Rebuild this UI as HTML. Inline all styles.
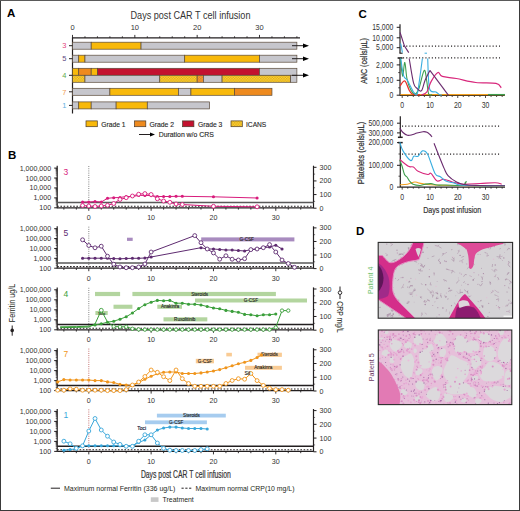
<!DOCTYPE html>
<html><head><meta charset="utf-8"><style>
html,body{margin:0;padding:0;background:#fff;}
body{width:520px;height:511px;overflow:hidden;}
svg{display:block;font-family:"Liberation Sans", sans-serif;}
</style></head><body>
<svg width="520" height="511" viewBox="0 0 520 511">
<rect x="0" y="0" width="520" height="511" fill="#fff"/>
<text x="7.00" y="16.90" font-size="11.5" fill="#000" text-anchor="start" font-weight="bold" >A</text>
<text x="130.50" y="18.90" font-size="10" fill="#333" text-anchor="start" font-weight="normal" textLength="120" lengthAdjust="spacingAndGlyphs" >Days post CAR T cell infusion</text>
<text x="72.50" y="30.10" font-size="7.5" fill="#333" text-anchor="middle" font-weight="normal" >0</text>
<text x="134.83" y="30.10" font-size="7.5" fill="#333" text-anchor="middle" font-weight="normal" >10</text>
<text x="197.16" y="30.10" font-size="7.5" fill="#333" text-anchor="middle" font-weight="normal" >20</text>
<text x="259.49" y="30.10" font-size="7.5" fill="#333" text-anchor="middle" font-weight="normal" >30</text>
<line x1="72.50" y1="37.90" x2="300.00" y2="37.90" stroke="#231f20" stroke-width="1.1" />
<line x1="72.50" y1="34.90" x2="72.50" y2="37.90" stroke="#231f20" stroke-width="0.9" />
<line x1="84.97" y1="36.30" x2="84.97" y2="37.90" stroke="#231f20" stroke-width="0.9" />
<line x1="97.43" y1="36.30" x2="97.43" y2="37.90" stroke="#231f20" stroke-width="0.9" />
<line x1="109.90" y1="36.30" x2="109.90" y2="37.90" stroke="#231f20" stroke-width="0.9" />
<line x1="122.36" y1="36.30" x2="122.36" y2="37.90" stroke="#231f20" stroke-width="0.9" />
<line x1="134.83" y1="34.90" x2="134.83" y2="37.90" stroke="#231f20" stroke-width="0.9" />
<line x1="147.30" y1="36.30" x2="147.30" y2="37.90" stroke="#231f20" stroke-width="0.9" />
<line x1="159.76" y1="36.30" x2="159.76" y2="37.90" stroke="#231f20" stroke-width="0.9" />
<line x1="172.23" y1="36.30" x2="172.23" y2="37.90" stroke="#231f20" stroke-width="0.9" />
<line x1="184.69" y1="36.30" x2="184.69" y2="37.90" stroke="#231f20" stroke-width="0.9" />
<line x1="197.16" y1="34.90" x2="197.16" y2="37.90" stroke="#231f20" stroke-width="0.9" />
<line x1="209.63" y1="36.30" x2="209.63" y2="37.90" stroke="#231f20" stroke-width="0.9" />
<line x1="222.09" y1="36.30" x2="222.09" y2="37.90" stroke="#231f20" stroke-width="0.9" />
<line x1="234.56" y1="36.30" x2="234.56" y2="37.90" stroke="#231f20" stroke-width="0.9" />
<line x1="247.02" y1="36.30" x2="247.02" y2="37.90" stroke="#231f20" stroke-width="0.9" />
<line x1="259.49" y1="34.90" x2="259.49" y2="37.90" stroke="#231f20" stroke-width="0.9" />
<line x1="271.96" y1="36.30" x2="271.96" y2="37.90" stroke="#231f20" stroke-width="0.9" />
<line x1="284.42" y1="36.30" x2="284.42" y2="37.90" stroke="#231f20" stroke-width="0.9" />
<line x1="296.89" y1="36.30" x2="296.89" y2="37.90" stroke="#231f20" stroke-width="0.9" />
<line x1="72.50" y1="37.40" x2="72.50" y2="113.50" stroke="#231f20" stroke-width="1.2" />
<defs><pattern id="chk" width="2.6" height="2.6" patternUnits="userSpaceOnUse"><rect width="2.6" height="2.6" fill="#f6d048"/><rect width="1.3" height="1.3" fill="#e6ae08"/><rect x="1.3" y="1.3" width="1.3" height="1.3" fill="#e6ae08"/></pattern><pattern id="chk2" width="2.6" height="2.6" patternUnits="userSpaceOnUse"><rect width="2.6" height="2.6" fill="#f3a040"/><rect width="1.3" height="1.3" fill="#e08018"/><rect x="1.3" y="1.3" width="1.3" height="1.3" fill="#e08018"/></pattern></defs>
<rect x="72.50" y="42.20" width="18.70" height="7.00" fill="#c6c6cc" stroke="#5a4a3a" stroke-width="0.7" />
<rect x="91.20" y="42.20" width="49.86" height="7.00" fill="#f8b90b" stroke="#5a4a3a" stroke-width="0.7" />
<rect x="141.06" y="42.20" width="155.82" height="7.00" fill="#c6c6cc" stroke="#5a4a3a" stroke-width="0.7" />
<rect x="72.50" y="55.20" width="6.23" height="7.00" fill="#c6c6cc" stroke="#5a4a3a" stroke-width="0.7" />
<rect x="78.73" y="55.20" width="6.23" height="7.00" fill="#f8b90b" stroke="#5a4a3a" stroke-width="0.7" />
<rect x="84.97" y="55.20" width="99.73" height="7.00" fill="#c6c6cc" stroke="#5a4a3a" stroke-width="0.7" />
<rect x="184.69" y="55.20" width="74.80" height="7.00" fill="#f8b90b" stroke="#5a4a3a" stroke-width="0.7" />
<rect x="259.49" y="55.20" width="37.40" height="7.00" fill="#c6c6cc" stroke="#5a4a3a" stroke-width="0.7" />
<rect x="72.50" y="68.30" width="6.23" height="7.00" fill="#f8b90b" stroke="#5a4a3a" stroke-width="0.7" />
<rect x="78.73" y="68.30" width="12.47" height="7.00" fill="#ee8a1e" stroke="#5a4a3a" stroke-width="0.7" />
<rect x="91.20" y="68.30" width="6.23" height="7.00" fill="#f8b90b" stroke="#5a4a3a" stroke-width="0.7" />
<rect x="97.43" y="68.30" width="162.06" height="7.00" fill="#c3122f" stroke="#5a4a3a" stroke-width="0.7" />
<rect x="259.49" y="68.30" width="37.40" height="7.00" fill="#c6c6cc" stroke="#5a4a3a" stroke-width="0.7" />
<rect x="72.50" y="75.30" width="12.47" height="7.00" fill="url(#chk)" stroke="#5a4a3a" stroke-width="0.7" />
<rect x="84.97" y="75.30" width="74.80" height="7.00" fill="#c6c6cc" stroke="#5a4a3a" stroke-width="0.7" />
<rect x="159.76" y="75.30" width="37.40" height="7.00" fill="url(#chk)" stroke="#5a4a3a" stroke-width="0.7" />
<rect x="197.16" y="75.30" width="6.23" height="7.00" fill="url(#chk2)" stroke="#5a4a3a" stroke-width="0.7" />
<rect x="203.39" y="75.30" width="18.70" height="7.00" fill="#c6c6cc" stroke="#5a4a3a" stroke-width="0.7" />
<rect x="222.09" y="75.30" width="68.56" height="7.00" fill="url(#chk)" stroke="#5a4a3a" stroke-width="0.7" />
<rect x="290.65" y="75.30" width="6.23" height="7.00" fill="#c6c6cc" stroke="#5a4a3a" stroke-width="0.7" />
<rect x="72.50" y="88.30" width="37.40" height="7.00" fill="#c6c6cc" stroke="#5a4a3a" stroke-width="0.7" />
<rect x="109.90" y="88.30" width="68.56" height="7.00" fill="#f8b90b" stroke="#5a4a3a" stroke-width="0.7" />
<rect x="178.46" y="88.30" width="12.47" height="7.00" fill="#c6c6cc" stroke="#5a4a3a" stroke-width="0.7" />
<rect x="190.93" y="88.30" width="43.63" height="7.00" fill="#f8b90b" stroke="#5a4a3a" stroke-width="0.7" />
<rect x="234.56" y="88.30" width="37.40" height="7.00" fill="#ee8a1e" stroke="#5a4a3a" stroke-width="0.7" />
<rect x="72.50" y="101.90" width="6.23" height="7.00" fill="#c6c6cc" stroke="#5a4a3a" stroke-width="0.7" />
<rect x="78.73" y="101.90" width="12.47" height="7.00" fill="#f8b90b" stroke="#5a4a3a" stroke-width="0.7" />
<rect x="91.20" y="101.90" width="24.93" height="7.00" fill="#c6c6cc" stroke="#5a4a3a" stroke-width="0.7" />
<rect x="116.13" y="101.90" width="31.16" height="7.00" fill="#f8b90b" stroke="#5a4a3a" stroke-width="0.7" />
<rect x="147.30" y="101.90" width="62.33" height="7.00" fill="#c6c6cc" stroke="#5a4a3a" stroke-width="0.7" />
<line x1="292.00" y1="45.70" x2="304.00" y2="45.70" stroke="#231f20" stroke-width="1" />
<path d="M303 43.40 L309 45.70 L303 48.00 Z" fill="#000"/>
<line x1="292.00" y1="58.70" x2="304.00" y2="58.70" stroke="#231f20" stroke-width="1" />
<path d="M303 56.40 L309 58.70 L303 61.00 Z" fill="#000"/>
<line x1="292.00" y1="75.30" x2="304.00" y2="75.30" stroke="#231f20" stroke-width="1" />
<path d="M303 73.00 L309 75.30 L303 77.60 Z" fill="#000"/>
<text x="66.50" y="48.40" font-size="7.5" fill="#e2457c" text-anchor="end" font-weight="normal" >3</text>
<line x1="69.00" y1="45.70" x2="72.50" y2="45.70" stroke="#231f20" stroke-width="1" />
<text x="66.50" y="61.40" font-size="7.5" fill="#5f4b82" text-anchor="end" font-weight="normal" >5</text>
<line x1="69.00" y1="58.70" x2="72.50" y2="58.70" stroke="#231f20" stroke-width="1" />
<text x="66.50" y="78.00" font-size="7.5" fill="#62a84a" text-anchor="end" font-weight="normal" >4</text>
<line x1="69.00" y1="75.30" x2="72.50" y2="75.30" stroke="#231f20" stroke-width="1" />
<text x="66.50" y="94.50" font-size="7.5" fill="#f0a05a" text-anchor="end" font-weight="normal" >7</text>
<line x1="69.00" y1="91.80" x2="72.50" y2="91.80" stroke="#231f20" stroke-width="1" />
<text x="66.50" y="108.10" font-size="7.5" fill="#5cb0de" text-anchor="end" font-weight="normal" >1</text>
<line x1="69.00" y1="105.40" x2="72.50" y2="105.40" stroke="#231f20" stroke-width="1" />
<rect x="86.00" y="120.90" width="11.30" height="5.80" fill="#f8b90b" stroke="#4a3a2a" stroke-width="0.7" />
<text x="101.20" y="126.60" font-size="7.8" fill="#2a2a2a" text-anchor="start" font-weight="normal" textLength="24.3" lengthAdjust="spacingAndGlyphs" stroke="#2a2a2a" stroke-width="0.15">Grade 1</text>
<rect x="134.50" y="120.90" width="11.30" height="5.80" fill="#ee8a1e" stroke="#4a3a2a" stroke-width="0.7" />
<text x="149.40" y="126.60" font-size="7.8" fill="#2a2a2a" text-anchor="start" font-weight="normal" textLength="24.7" lengthAdjust="spacingAndGlyphs" stroke="#2a2a2a" stroke-width="0.15">Grade 2</text>
<rect x="182.60" y="120.90" width="11.30" height="5.80" fill="#c3122f" stroke="#4a3a2a" stroke-width="0.7" />
<text x="198.00" y="126.60" font-size="7.8" fill="#2a2a2a" text-anchor="start" font-weight="normal" textLength="24.3" lengthAdjust="spacingAndGlyphs" stroke="#2a2a2a" stroke-width="0.15">Grade 3</text>
<rect x="231.00" y="120.90" width="11.30" height="5.80" fill="url(#chk)" stroke="#4a3a2a" stroke-width="0.7" />
<text x="246.00" y="126.60" font-size="7.8" fill="#2a2a2a" text-anchor="start" font-weight="normal" textLength="20.3" lengthAdjust="spacingAndGlyphs" stroke="#2a2a2a" stroke-width="0.15">ICANS</text>
<line x1="139.00" y1="134.50" x2="151.00" y2="134.50" stroke="#231f20" stroke-width="1" />
<path d="M150 132.4 L155 134.5 L150 136.6 Z" fill="#000"/>
<text x="158.70" y="137.20" font-size="7.8" fill="#2a2a2a" text-anchor="start" font-weight="normal" textLength="55.1" lengthAdjust="spacingAndGlyphs" stroke="#2a2a2a" stroke-width="0.15">Duration w/o CRS</text>
<text x="8.00" y="158.50" font-size="11.5" fill="#000" text-anchor="start" font-weight="bold" >B</text>
<line x1="57.20" y1="165.70" x2="57.20" y2="208.20" stroke="#231f20" stroke-width="1.2" />
<line x1="313.50" y1="165.70" x2="313.50" y2="208.20" stroke="#231f20" stroke-width="1.2" />
<line x1="57.20" y1="207.80" x2="313.50" y2="207.80" stroke="#231f20" stroke-width="1.2" />
<line x1="54.20" y1="168.10" x2="57.20" y2="168.10" stroke="#231f20" stroke-width="1" />
<text x="51.20" y="170.60" font-size="7.1" fill="#333" text-anchor="end" font-weight="normal" >1,000,000</text>
<line x1="55.70" y1="175.04" x2="57.20" y2="175.04" stroke="#231f20" stroke-width="0.6" />
<line x1="55.70" y1="173.29" x2="57.20" y2="173.29" stroke="#231f20" stroke-width="0.6" />
<line x1="55.70" y1="172.05" x2="57.20" y2="172.05" stroke="#231f20" stroke-width="0.6" />
<line x1="55.70" y1="171.09" x2="57.20" y2="171.09" stroke="#231f20" stroke-width="0.6" />
<line x1="55.70" y1="170.30" x2="57.20" y2="170.30" stroke="#231f20" stroke-width="0.6" />
<line x1="55.70" y1="169.64" x2="57.20" y2="169.64" stroke="#231f20" stroke-width="0.6" />
<line x1="55.70" y1="169.06" x2="57.20" y2="169.06" stroke="#231f20" stroke-width="0.6" />
<line x1="55.70" y1="168.55" x2="57.20" y2="168.55" stroke="#231f20" stroke-width="0.6" />
<line x1="54.20" y1="178.03" x2="57.20" y2="178.03" stroke="#231f20" stroke-width="1" />
<text x="51.20" y="180.53" font-size="7.1" fill="#333" text-anchor="end" font-weight="normal" >100,000</text>
<line x1="55.70" y1="184.96" x2="57.20" y2="184.96" stroke="#231f20" stroke-width="0.6" />
<line x1="55.70" y1="183.21" x2="57.20" y2="183.21" stroke="#231f20" stroke-width="0.6" />
<line x1="55.70" y1="181.97" x2="57.20" y2="181.97" stroke="#231f20" stroke-width="0.6" />
<line x1="55.70" y1="181.01" x2="57.20" y2="181.01" stroke="#231f20" stroke-width="0.6" />
<line x1="55.70" y1="180.23" x2="57.20" y2="180.23" stroke="#231f20" stroke-width="0.6" />
<line x1="55.70" y1="179.56" x2="57.20" y2="179.56" stroke="#231f20" stroke-width="0.6" />
<line x1="55.70" y1="178.99" x2="57.20" y2="178.99" stroke="#231f20" stroke-width="0.6" />
<line x1="55.70" y1="178.48" x2="57.20" y2="178.48" stroke="#231f20" stroke-width="0.6" />
<line x1="54.20" y1="187.95" x2="57.20" y2="187.95" stroke="#231f20" stroke-width="1" />
<text x="51.20" y="190.45" font-size="7.1" fill="#333" text-anchor="end" font-weight="normal" >10,000</text>
<line x1="55.70" y1="194.89" x2="57.20" y2="194.89" stroke="#231f20" stroke-width="0.6" />
<line x1="55.70" y1="193.14" x2="57.20" y2="193.14" stroke="#231f20" stroke-width="0.6" />
<line x1="55.70" y1="191.90" x2="57.20" y2="191.90" stroke="#231f20" stroke-width="0.6" />
<line x1="55.70" y1="190.94" x2="57.20" y2="190.94" stroke="#231f20" stroke-width="0.6" />
<line x1="55.70" y1="190.15" x2="57.20" y2="190.15" stroke="#231f20" stroke-width="0.6" />
<line x1="55.70" y1="189.49" x2="57.20" y2="189.49" stroke="#231f20" stroke-width="0.6" />
<line x1="55.70" y1="188.91" x2="57.20" y2="188.91" stroke="#231f20" stroke-width="0.6" />
<line x1="55.70" y1="188.40" x2="57.20" y2="188.40" stroke="#231f20" stroke-width="0.6" />
<line x1="54.20" y1="197.88" x2="57.20" y2="197.88" stroke="#231f20" stroke-width="1" />
<text x="51.20" y="200.38" font-size="7.1" fill="#333" text-anchor="end" font-weight="normal" >1,000</text>
<line x1="55.70" y1="204.81" x2="57.20" y2="204.81" stroke="#231f20" stroke-width="0.6" />
<line x1="55.70" y1="203.06" x2="57.20" y2="203.06" stroke="#231f20" stroke-width="0.6" />
<line x1="55.70" y1="201.82" x2="57.20" y2="201.82" stroke="#231f20" stroke-width="0.6" />
<line x1="55.70" y1="200.86" x2="57.20" y2="200.86" stroke="#231f20" stroke-width="0.6" />
<line x1="55.70" y1="200.08" x2="57.20" y2="200.08" stroke="#231f20" stroke-width="0.6" />
<line x1="55.70" y1="199.41" x2="57.20" y2="199.41" stroke="#231f20" stroke-width="0.6" />
<line x1="55.70" y1="198.84" x2="57.20" y2="198.84" stroke="#231f20" stroke-width="0.6" />
<line x1="55.70" y1="198.33" x2="57.20" y2="198.33" stroke="#231f20" stroke-width="0.6" />
<line x1="54.20" y1="207.80" x2="57.20" y2="207.80" stroke="#231f20" stroke-width="1" />
<text x="51.20" y="210.30" font-size="7.1" fill="#333" text-anchor="end" font-weight="normal" >100</text>
<line x1="313.50" y1="167.30" x2="316.50" y2="167.30" stroke="#231f20" stroke-width="1" />
<text x="319.60" y="169.80" font-size="7.1" fill="#333" text-anchor="start" font-weight="normal" >300</text>
<line x1="313.50" y1="174.12" x2="315.10" y2="174.12" stroke="#231f20" stroke-width="0.6" />
<line x1="313.50" y1="180.93" x2="316.50" y2="180.93" stroke="#231f20" stroke-width="1" />
<text x="319.60" y="183.43" font-size="7.1" fill="#333" text-anchor="start" font-weight="normal" >200</text>
<line x1="313.50" y1="187.75" x2="315.10" y2="187.75" stroke="#231f20" stroke-width="0.6" />
<line x1="313.50" y1="194.57" x2="316.50" y2="194.57" stroke="#231f20" stroke-width="1" />
<text x="319.60" y="197.07" font-size="7.1" fill="#333" text-anchor="start" font-weight="normal" >100</text>
<line x1="313.50" y1="201.38" x2="315.10" y2="201.38" stroke="#231f20" stroke-width="0.6" />
<line x1="313.50" y1="208.20" x2="316.50" y2="208.20" stroke="#231f20" stroke-width="1" />
<text x="319.60" y="210.70" font-size="7.1" fill="#333" text-anchor="start" font-weight="normal" >0</text>
<line x1="63.87" y1="207.80" x2="63.87" y2="209.60" stroke="#231f20" stroke-width="0.9" />
<line x1="76.33" y1="207.80" x2="76.33" y2="209.60" stroke="#231f20" stroke-width="0.9" />
<line x1="88.80" y1="207.80" x2="88.80" y2="210.80" stroke="#231f20" stroke-width="0.9" />
<line x1="101.27" y1="207.80" x2="101.27" y2="209.60" stroke="#231f20" stroke-width="0.9" />
<line x1="113.73" y1="207.80" x2="113.73" y2="209.60" stroke="#231f20" stroke-width="0.9" />
<line x1="126.20" y1="207.80" x2="126.20" y2="209.60" stroke="#231f20" stroke-width="0.9" />
<line x1="138.66" y1="207.80" x2="138.66" y2="209.60" stroke="#231f20" stroke-width="0.9" />
<line x1="151.13" y1="207.80" x2="151.13" y2="210.80" stroke="#231f20" stroke-width="0.9" />
<line x1="163.60" y1="207.80" x2="163.60" y2="209.60" stroke="#231f20" stroke-width="0.9" />
<line x1="176.06" y1="207.80" x2="176.06" y2="209.60" stroke="#231f20" stroke-width="0.9" />
<line x1="188.53" y1="207.80" x2="188.53" y2="209.60" stroke="#231f20" stroke-width="0.9" />
<line x1="200.99" y1="207.80" x2="200.99" y2="209.60" stroke="#231f20" stroke-width="0.9" />
<line x1="213.46" y1="207.80" x2="213.46" y2="210.80" stroke="#231f20" stroke-width="0.9" />
<line x1="225.93" y1="207.80" x2="225.93" y2="209.60" stroke="#231f20" stroke-width="0.9" />
<line x1="238.39" y1="207.80" x2="238.39" y2="209.60" stroke="#231f20" stroke-width="0.9" />
<line x1="250.86" y1="207.80" x2="250.86" y2="209.60" stroke="#231f20" stroke-width="0.9" />
<line x1="263.32" y1="207.80" x2="263.32" y2="209.60" stroke="#231f20" stroke-width="0.9" />
<line x1="275.79" y1="207.80" x2="275.79" y2="210.80" stroke="#231f20" stroke-width="0.9" />
<line x1="288.26" y1="207.80" x2="288.26" y2="209.60" stroke="#231f20" stroke-width="0.9" />
<line x1="300.72" y1="207.80" x2="300.72" y2="209.60" stroke="#231f20" stroke-width="0.9" />
<text x="88.80" y="220.30" font-size="7.1" fill="#333" text-anchor="middle" font-weight="normal" >0</text>
<text x="151.13" y="220.30" font-size="7.1" fill="#333" text-anchor="middle" font-weight="normal" >10</text>
<text x="213.46" y="220.30" font-size="7.1" fill="#333" text-anchor="middle" font-weight="normal" >20</text>
<text x="275.79" y="220.30" font-size="7.1" fill="#333" text-anchor="middle" font-weight="normal" >30</text>
<line x1="57.20" y1="202.60" x2="313.50" y2="202.60" stroke="#595959" stroke-width="1.5" />
<line x1="57.20" y1="206.20" x2="313.50" y2="206.20" stroke="#231f20" stroke-width="1.1" stroke-dasharray="1.6 1.6"/>
<line x1="88.80" y1="166.10" x2="88.80" y2="207.80" stroke="#555" stroke-width="0.8" stroke-dasharray="0.9 1.3"/>
<text x="63.50" y="174.90" font-size="8.5" fill="#d81b7c" text-anchor="start" font-weight="normal" >3</text>
<polyline points="82.57,202.00 88.80,202.00 95.03,201.50 101.27,202.00 107.50,198.30 113.73,197.70 119.97,197.50 126.20,196.50 132.43,196.50 138.66,195.40 144.90,195.40 151.13,195.60 157.36,196.50 163.60,196.50 169.83,196.50 176.06,196.30 182.29,196.30 213.46,196.80 257.09,198.00" fill="none" stroke="#d81b7c" stroke-width="1"/>
<polyline points="82.57,205.50 88.80,206.00 95.03,206.50 101.27,206.00 107.50,205.30 113.73,203.50 119.97,199.50 126.20,197.70 132.43,196.00 138.66,194.20 144.90,193.60 151.13,194.50 157.36,198.80 163.60,201.00 169.83,202.30 176.06,204.00 182.29,204.50 213.46,206.30 257.09,206.80" fill="none" stroke="#d81b7c" stroke-width="1"/>
<circle cx="82.57" cy="202.00" r="1.55" fill="#d81b7c"/>
<circle cx="88.80" cy="202.00" r="1.55" fill="#d81b7c"/>
<circle cx="95.03" cy="201.50" r="1.55" fill="#d81b7c"/>
<circle cx="101.27" cy="202.00" r="1.55" fill="#d81b7c"/>
<circle cx="107.50" cy="198.30" r="1.55" fill="#d81b7c"/>
<circle cx="113.73" cy="197.70" r="1.55" fill="#d81b7c"/>
<circle cx="119.97" cy="197.50" r="1.55" fill="#d81b7c"/>
<circle cx="126.20" cy="196.50" r="1.55" fill="#d81b7c"/>
<circle cx="132.43" cy="196.50" r="1.55" fill="#d81b7c"/>
<circle cx="138.66" cy="195.40" r="1.55" fill="#d81b7c"/>
<circle cx="144.90" cy="195.40" r="1.55" fill="#d81b7c"/>
<circle cx="151.13" cy="195.60" r="1.55" fill="#d81b7c"/>
<circle cx="157.36" cy="196.50" r="1.55" fill="#d81b7c"/>
<circle cx="163.60" cy="196.50" r="1.55" fill="#d81b7c"/>
<circle cx="169.83" cy="196.50" r="1.55" fill="#d81b7c"/>
<circle cx="176.06" cy="196.30" r="1.55" fill="#d81b7c"/>
<circle cx="182.29" cy="196.30" r="1.55" fill="#d81b7c"/>
<circle cx="213.46" cy="196.80" r="1.55" fill="#d81b7c"/>
<circle cx="257.09" cy="198.00" r="1.55" fill="#d81b7c"/>
<circle cx="82.57" cy="205.50" r="1.95" fill="#fff" stroke="#d81b7c" stroke-width="0.9"/>
<circle cx="88.80" cy="206.00" r="1.95" fill="#fff" stroke="#d81b7c" stroke-width="0.9"/>
<circle cx="95.03" cy="206.50" r="1.95" fill="#fff" stroke="#d81b7c" stroke-width="0.9"/>
<circle cx="101.27" cy="206.00" r="1.95" fill="#fff" stroke="#d81b7c" stroke-width="0.9"/>
<circle cx="107.50" cy="205.30" r="1.95" fill="#fff" stroke="#d81b7c" stroke-width="0.9"/>
<circle cx="113.73" cy="203.50" r="1.95" fill="#fff" stroke="#d81b7c" stroke-width="0.9"/>
<circle cx="119.97" cy="199.50" r="1.95" fill="#fff" stroke="#d81b7c" stroke-width="0.9"/>
<circle cx="126.20" cy="197.70" r="1.95" fill="#fff" stroke="#d81b7c" stroke-width="0.9"/>
<circle cx="132.43" cy="196.00" r="1.95" fill="#fff" stroke="#d81b7c" stroke-width="0.9"/>
<circle cx="138.66" cy="194.20" r="1.95" fill="#fff" stroke="#d81b7c" stroke-width="0.9"/>
<circle cx="144.90" cy="193.60" r="1.95" fill="#fff" stroke="#d81b7c" stroke-width="0.9"/>
<circle cx="151.13" cy="194.50" r="1.95" fill="#fff" stroke="#d81b7c" stroke-width="0.9"/>
<circle cx="157.36" cy="198.80" r="1.95" fill="#fff" stroke="#d81b7c" stroke-width="0.9"/>
<circle cx="163.60" cy="201.00" r="1.95" fill="#fff" stroke="#d81b7c" stroke-width="0.9"/>
<circle cx="169.83" cy="202.30" r="1.95" fill="#fff" stroke="#d81b7c" stroke-width="0.9"/>
<circle cx="176.06" cy="204.00" r="1.95" fill="#fff" stroke="#d81b7c" stroke-width="0.9"/>
<circle cx="182.29" cy="204.50" r="1.95" fill="#fff" stroke="#d81b7c" stroke-width="0.9"/>
<circle cx="213.46" cy="206.30" r="1.95" fill="#fff" stroke="#d81b7c" stroke-width="0.9"/>
<circle cx="257.09" cy="206.80" r="1.95" fill="#fff" stroke="#d81b7c" stroke-width="0.9"/>
<rect x="127.00" y="237.70" width="5.70" height="3.20" fill="#a88bbf" stroke="none" stroke-width="0" />
<rect x="201.20" y="237.40" width="93.20" height="4.00" fill="#a88bbf" stroke="none" stroke-width="0" />
<text x="246.70" y="241.00" font-size="4.6" fill="#1e1e1e" text-anchor="middle" font-weight="normal" stroke="#1e1e1e" stroke-width="0.12">G-CSF</text>
<line x1="57.20" y1="226.30" x2="57.20" y2="268.60" stroke="#231f20" stroke-width="1.2" />
<line x1="313.50" y1="226.30" x2="313.50" y2="268.60" stroke="#231f20" stroke-width="1.2" />
<line x1="57.20" y1="268.20" x2="313.50" y2="268.20" stroke="#231f20" stroke-width="1.2" />
<line x1="54.20" y1="228.70" x2="57.20" y2="228.70" stroke="#231f20" stroke-width="1" />
<text x="51.20" y="231.20" font-size="7.1" fill="#333" text-anchor="end" font-weight="normal" >1,000,000</text>
<line x1="55.70" y1="235.60" x2="57.20" y2="235.60" stroke="#231f20" stroke-width="0.6" />
<line x1="55.70" y1="233.86" x2="57.20" y2="233.86" stroke="#231f20" stroke-width="0.6" />
<line x1="55.70" y1="232.63" x2="57.20" y2="232.63" stroke="#231f20" stroke-width="0.6" />
<line x1="55.70" y1="231.67" x2="57.20" y2="231.67" stroke="#231f20" stroke-width="0.6" />
<line x1="55.70" y1="230.89" x2="57.20" y2="230.89" stroke="#231f20" stroke-width="0.6" />
<line x1="55.70" y1="230.23" x2="57.20" y2="230.23" stroke="#231f20" stroke-width="0.6" />
<line x1="55.70" y1="229.66" x2="57.20" y2="229.66" stroke="#231f20" stroke-width="0.6" />
<line x1="55.70" y1="229.15" x2="57.20" y2="229.15" stroke="#231f20" stroke-width="0.6" />
<line x1="54.20" y1="238.57" x2="57.20" y2="238.57" stroke="#231f20" stroke-width="1" />
<text x="51.20" y="241.07" font-size="7.1" fill="#333" text-anchor="end" font-weight="normal" >100,000</text>
<line x1="55.70" y1="245.48" x2="57.20" y2="245.48" stroke="#231f20" stroke-width="0.6" />
<line x1="55.70" y1="243.74" x2="57.20" y2="243.74" stroke="#231f20" stroke-width="0.6" />
<line x1="55.70" y1="242.50" x2="57.20" y2="242.50" stroke="#231f20" stroke-width="0.6" />
<line x1="55.70" y1="241.55" x2="57.20" y2="241.55" stroke="#231f20" stroke-width="0.6" />
<line x1="55.70" y1="240.77" x2="57.20" y2="240.77" stroke="#231f20" stroke-width="0.6" />
<line x1="55.70" y1="240.10" x2="57.20" y2="240.10" stroke="#231f20" stroke-width="0.6" />
<line x1="55.70" y1="239.53" x2="57.20" y2="239.53" stroke="#231f20" stroke-width="0.6" />
<line x1="55.70" y1="239.03" x2="57.20" y2="239.03" stroke="#231f20" stroke-width="0.6" />
<line x1="54.20" y1="248.45" x2="57.20" y2="248.45" stroke="#231f20" stroke-width="1" />
<text x="51.20" y="250.95" font-size="7.1" fill="#333" text-anchor="end" font-weight="normal" >10,000</text>
<line x1="55.70" y1="255.35" x2="57.20" y2="255.35" stroke="#231f20" stroke-width="0.6" />
<line x1="55.70" y1="253.61" x2="57.20" y2="253.61" stroke="#231f20" stroke-width="0.6" />
<line x1="55.70" y1="252.38" x2="57.20" y2="252.38" stroke="#231f20" stroke-width="0.6" />
<line x1="55.70" y1="251.42" x2="57.20" y2="251.42" stroke="#231f20" stroke-width="0.6" />
<line x1="55.70" y1="250.64" x2="57.20" y2="250.64" stroke="#231f20" stroke-width="0.6" />
<line x1="55.70" y1="249.98" x2="57.20" y2="249.98" stroke="#231f20" stroke-width="0.6" />
<line x1="55.70" y1="249.41" x2="57.20" y2="249.41" stroke="#231f20" stroke-width="0.6" />
<line x1="55.70" y1="248.90" x2="57.20" y2="248.90" stroke="#231f20" stroke-width="0.6" />
<line x1="54.20" y1="258.32" x2="57.20" y2="258.32" stroke="#231f20" stroke-width="1" />
<text x="51.20" y="260.82" font-size="7.1" fill="#333" text-anchor="end" font-weight="normal" >1,000</text>
<line x1="55.70" y1="265.23" x2="57.20" y2="265.23" stroke="#231f20" stroke-width="0.6" />
<line x1="55.70" y1="263.49" x2="57.20" y2="263.49" stroke="#231f20" stroke-width="0.6" />
<line x1="55.70" y1="262.25" x2="57.20" y2="262.25" stroke="#231f20" stroke-width="0.6" />
<line x1="55.70" y1="261.30" x2="57.20" y2="261.30" stroke="#231f20" stroke-width="0.6" />
<line x1="55.70" y1="260.52" x2="57.20" y2="260.52" stroke="#231f20" stroke-width="0.6" />
<line x1="55.70" y1="259.85" x2="57.20" y2="259.85" stroke="#231f20" stroke-width="0.6" />
<line x1="55.70" y1="259.28" x2="57.20" y2="259.28" stroke="#231f20" stroke-width="0.6" />
<line x1="55.70" y1="258.78" x2="57.20" y2="258.78" stroke="#231f20" stroke-width="0.6" />
<line x1="54.20" y1="268.20" x2="57.20" y2="268.20" stroke="#231f20" stroke-width="1" />
<text x="51.20" y="270.70" font-size="7.1" fill="#333" text-anchor="end" font-weight="normal" >100</text>
<line x1="313.50" y1="227.90" x2="316.50" y2="227.90" stroke="#231f20" stroke-width="1" />
<text x="319.60" y="230.40" font-size="7.1" fill="#333" text-anchor="start" font-weight="normal" >300</text>
<line x1="313.50" y1="234.68" x2="315.10" y2="234.68" stroke="#231f20" stroke-width="0.6" />
<line x1="313.50" y1="241.47" x2="316.50" y2="241.47" stroke="#231f20" stroke-width="1" />
<text x="319.60" y="243.97" font-size="7.1" fill="#333" text-anchor="start" font-weight="normal" >200</text>
<line x1="313.50" y1="248.25" x2="315.10" y2="248.25" stroke="#231f20" stroke-width="0.6" />
<line x1="313.50" y1="255.03" x2="316.50" y2="255.03" stroke="#231f20" stroke-width="1" />
<text x="319.60" y="257.53" font-size="7.1" fill="#333" text-anchor="start" font-weight="normal" >100</text>
<line x1="313.50" y1="261.82" x2="315.10" y2="261.82" stroke="#231f20" stroke-width="0.6" />
<line x1="313.50" y1="268.60" x2="316.50" y2="268.60" stroke="#231f20" stroke-width="1" />
<text x="319.60" y="271.10" font-size="7.1" fill="#333" text-anchor="start" font-weight="normal" >0</text>
<line x1="63.87" y1="268.20" x2="63.87" y2="270.00" stroke="#231f20" stroke-width="0.9" />
<line x1="76.33" y1="268.20" x2="76.33" y2="270.00" stroke="#231f20" stroke-width="0.9" />
<line x1="88.80" y1="268.20" x2="88.80" y2="271.20" stroke="#231f20" stroke-width="0.9" />
<line x1="101.27" y1="268.20" x2="101.27" y2="270.00" stroke="#231f20" stroke-width="0.9" />
<line x1="113.73" y1="268.20" x2="113.73" y2="270.00" stroke="#231f20" stroke-width="0.9" />
<line x1="126.20" y1="268.20" x2="126.20" y2="270.00" stroke="#231f20" stroke-width="0.9" />
<line x1="138.66" y1="268.20" x2="138.66" y2="270.00" stroke="#231f20" stroke-width="0.9" />
<line x1="151.13" y1="268.20" x2="151.13" y2="271.20" stroke="#231f20" stroke-width="0.9" />
<line x1="163.60" y1="268.20" x2="163.60" y2="270.00" stroke="#231f20" stroke-width="0.9" />
<line x1="176.06" y1="268.20" x2="176.06" y2="270.00" stroke="#231f20" stroke-width="0.9" />
<line x1="188.53" y1="268.20" x2="188.53" y2="270.00" stroke="#231f20" stroke-width="0.9" />
<line x1="200.99" y1="268.20" x2="200.99" y2="270.00" stroke="#231f20" stroke-width="0.9" />
<line x1="213.46" y1="268.20" x2="213.46" y2="271.20" stroke="#231f20" stroke-width="0.9" />
<line x1="225.93" y1="268.20" x2="225.93" y2="270.00" stroke="#231f20" stroke-width="0.9" />
<line x1="238.39" y1="268.20" x2="238.39" y2="270.00" stroke="#231f20" stroke-width="0.9" />
<line x1="250.86" y1="268.20" x2="250.86" y2="270.00" stroke="#231f20" stroke-width="0.9" />
<line x1="263.32" y1="268.20" x2="263.32" y2="270.00" stroke="#231f20" stroke-width="0.9" />
<line x1="275.79" y1="268.20" x2="275.79" y2="271.20" stroke="#231f20" stroke-width="0.9" />
<line x1="288.26" y1="268.20" x2="288.26" y2="270.00" stroke="#231f20" stroke-width="0.9" />
<line x1="300.72" y1="268.20" x2="300.72" y2="270.00" stroke="#231f20" stroke-width="0.9" />
<text x="88.80" y="280.70" font-size="7.1" fill="#333" text-anchor="middle" font-weight="normal" >0</text>
<text x="151.13" y="280.70" font-size="7.1" fill="#333" text-anchor="middle" font-weight="normal" >10</text>
<text x="213.46" y="280.70" font-size="7.1" fill="#333" text-anchor="middle" font-weight="normal" >20</text>
<text x="275.79" y="280.70" font-size="7.1" fill="#333" text-anchor="middle" font-weight="normal" >30</text>
<line x1="57.20" y1="263.00" x2="313.50" y2="263.00" stroke="#595959" stroke-width="1.5" />
<line x1="57.20" y1="266.60" x2="313.50" y2="266.60" stroke="#231f20" stroke-width="1.1" stroke-dasharray="1.6 1.6"/>
<line x1="88.80" y1="226.70" x2="88.80" y2="268.20" stroke="#555" stroke-width="0.8" stroke-dasharray="0.9 1.3"/>
<text x="63.50" y="235.50" font-size="8.5" fill="#5e2b70" text-anchor="start" font-weight="normal" >5</text>
<polyline points="82.57,258.20 88.80,258.20 95.03,258.20 101.27,258.20 107.50,258.30 113.73,258.60 119.97,258.80 126.20,258.50 132.43,258.30 138.66,258.30 144.90,258.00 151.13,257.00 200.99,247.70 207.23,249.00 213.46,249.00 219.69,249.50 225.93,250.00 232.16,250.00 238.39,250.50 244.62,251.00 250.86,249.60 257.09,249.00 263.32,247.70 269.56,247.00 275.79,245.20 282.02,249.00" fill="none" stroke="#5e2b70" stroke-width="1"/>
<polyline points="82.57,239.80 88.80,245.50 95.03,247.80 101.27,246.20 107.50,256.20 113.73,264.20 119.97,267.00 126.20,267.70 132.43,267.70 138.66,267.00 144.90,264.00 151.13,252.00 194.76,235.60 200.99,242.70 207.23,249.00 213.46,252.90 219.69,259.20 225.93,255.80 232.16,259.20 238.39,260.00 244.62,258.70 250.86,249.60 257.09,249.00 263.32,247.70 269.56,244.60 275.79,252.00 282.02,260.00 288.26,263.50 294.49,267.30" fill="none" stroke="#5e2b70" stroke-width="1"/>
<circle cx="82.57" cy="258.20" r="1.55" fill="#5e2b70"/>
<circle cx="88.80" cy="258.20" r="1.55" fill="#5e2b70"/>
<circle cx="95.03" cy="258.20" r="1.55" fill="#5e2b70"/>
<circle cx="101.27" cy="258.20" r="1.55" fill="#5e2b70"/>
<circle cx="107.50" cy="258.30" r="1.55" fill="#5e2b70"/>
<circle cx="113.73" cy="258.60" r="1.55" fill="#5e2b70"/>
<circle cx="119.97" cy="258.80" r="1.55" fill="#5e2b70"/>
<circle cx="126.20" cy="258.50" r="1.55" fill="#5e2b70"/>
<circle cx="132.43" cy="258.30" r="1.55" fill="#5e2b70"/>
<circle cx="138.66" cy="258.30" r="1.55" fill="#5e2b70"/>
<circle cx="144.90" cy="258.00" r="1.55" fill="#5e2b70"/>
<circle cx="151.13" cy="257.00" r="1.55" fill="#5e2b70"/>
<circle cx="200.99" cy="247.70" r="1.55" fill="#5e2b70"/>
<circle cx="207.23" cy="249.00" r="1.55" fill="#5e2b70"/>
<circle cx="213.46" cy="249.00" r="1.55" fill="#5e2b70"/>
<circle cx="219.69" cy="249.50" r="1.55" fill="#5e2b70"/>
<circle cx="225.93" cy="250.00" r="1.55" fill="#5e2b70"/>
<circle cx="232.16" cy="250.00" r="1.55" fill="#5e2b70"/>
<circle cx="238.39" cy="250.50" r="1.55" fill="#5e2b70"/>
<circle cx="244.62" cy="251.00" r="1.55" fill="#5e2b70"/>
<circle cx="250.86" cy="249.60" r="1.55" fill="#5e2b70"/>
<circle cx="257.09" cy="249.00" r="1.55" fill="#5e2b70"/>
<circle cx="263.32" cy="247.70" r="1.55" fill="#5e2b70"/>
<circle cx="269.56" cy="247.00" r="1.55" fill="#5e2b70"/>
<circle cx="275.79" cy="245.20" r="1.55" fill="#5e2b70"/>
<circle cx="282.02" cy="249.00" r="1.55" fill="#5e2b70"/>
<circle cx="82.57" cy="239.80" r="1.95" fill="#fff" stroke="#5e2b70" stroke-width="0.9"/>
<circle cx="88.80" cy="245.50" r="1.95" fill="#fff" stroke="#5e2b70" stroke-width="0.9"/>
<circle cx="95.03" cy="247.80" r="1.95" fill="#fff" stroke="#5e2b70" stroke-width="0.9"/>
<circle cx="101.27" cy="246.20" r="1.95" fill="#fff" stroke="#5e2b70" stroke-width="0.9"/>
<circle cx="107.50" cy="256.20" r="1.95" fill="#fff" stroke="#5e2b70" stroke-width="0.9"/>
<circle cx="113.73" cy="264.20" r="1.95" fill="#fff" stroke="#5e2b70" stroke-width="0.9"/>
<circle cx="119.97" cy="267.00" r="1.95" fill="#fff" stroke="#5e2b70" stroke-width="0.9"/>
<circle cx="126.20" cy="267.70" r="1.95" fill="#fff" stroke="#5e2b70" stroke-width="0.9"/>
<circle cx="132.43" cy="267.70" r="1.95" fill="#fff" stroke="#5e2b70" stroke-width="0.9"/>
<circle cx="138.66" cy="267.00" r="1.95" fill="#fff" stroke="#5e2b70" stroke-width="0.9"/>
<circle cx="144.90" cy="264.00" r="1.95" fill="#fff" stroke="#5e2b70" stroke-width="0.9"/>
<circle cx="151.13" cy="252.00" r="1.95" fill="#fff" stroke="#5e2b70" stroke-width="0.9"/>
<circle cx="194.76" cy="235.60" r="1.95" fill="#fff" stroke="#5e2b70" stroke-width="0.9"/>
<circle cx="200.99" cy="242.70" r="1.95" fill="#fff" stroke="#5e2b70" stroke-width="0.9"/>
<circle cx="207.23" cy="249.00" r="1.95" fill="#fff" stroke="#5e2b70" stroke-width="0.9"/>
<circle cx="213.46" cy="252.90" r="1.95" fill="#fff" stroke="#5e2b70" stroke-width="0.9"/>
<circle cx="219.69" cy="259.20" r="1.95" fill="#fff" stroke="#5e2b70" stroke-width="0.9"/>
<circle cx="225.93" cy="255.80" r="1.95" fill="#fff" stroke="#5e2b70" stroke-width="0.9"/>
<circle cx="232.16" cy="259.20" r="1.95" fill="#fff" stroke="#5e2b70" stroke-width="0.9"/>
<circle cx="238.39" cy="260.00" r="1.95" fill="#fff" stroke="#5e2b70" stroke-width="0.9"/>
<circle cx="244.62" cy="258.70" r="1.95" fill="#fff" stroke="#5e2b70" stroke-width="0.9"/>
<circle cx="250.86" cy="249.60" r="1.95" fill="#fff" stroke="#5e2b70" stroke-width="0.9"/>
<circle cx="257.09" cy="249.00" r="1.95" fill="#fff" stroke="#5e2b70" stroke-width="0.9"/>
<circle cx="263.32" cy="247.70" r="1.95" fill="#fff" stroke="#5e2b70" stroke-width="0.9"/>
<circle cx="269.56" cy="244.60" r="1.95" fill="#fff" stroke="#5e2b70" stroke-width="0.9"/>
<circle cx="275.79" cy="252.00" r="1.95" fill="#fff" stroke="#5e2b70" stroke-width="0.9"/>
<circle cx="282.02" cy="260.00" r="1.95" fill="#fff" stroke="#5e2b70" stroke-width="0.9"/>
<circle cx="288.26" cy="263.50" r="1.95" fill="#fff" stroke="#5e2b70" stroke-width="0.9"/>
<circle cx="294.49" cy="267.30" r="1.95" fill="#fff" stroke="#5e2b70" stroke-width="0.9"/>
<rect x="95.00" y="291.90" width="25.10" height="4.20" fill="#b3d59f" stroke="none" stroke-width="0" />
<rect x="132.40" y="291.90" width="143.50" height="4.20" fill="#b3d59f" stroke="none" stroke-width="0" />
<text x="199.60" y="295.60" font-size="4.6" fill="#1e1e1e" text-anchor="middle" font-weight="normal" stroke="#1e1e1e" stroke-width="0.12">Steroids</text>
<rect x="195.00" y="298.50" width="112.00" height="4.00" fill="#b3d59f" stroke="none" stroke-width="0" />
<text x="250.80" y="302.10" font-size="4.6" fill="#1e1e1e" text-anchor="middle" font-weight="normal" stroke="#1e1e1e" stroke-width="0.12">G-CSF</text>
<rect x="113.50" y="304.70" width="18.90" height="4.10" fill="#b3d59f" stroke="none" stroke-width="0" />
<rect x="157.30" y="304.70" width="24.70" height="4.10" fill="#b3d59f" stroke="none" stroke-width="0" />
<text x="170.00" y="308.35" font-size="4.6" fill="#1e1e1e" text-anchor="middle" font-weight="normal" stroke="#1e1e1e" stroke-width="0.12">Anakinra</text>
<rect x="95.40" y="311.00" width="12.30" height="4.00" fill="#b3d59f" stroke="none" stroke-width="0" />
<text x="101.50" y="314.60" font-size="4.2" fill="#1e1e1e" text-anchor="middle" font-weight="normal" stroke="#1e1e1e" stroke-width="0.12">Toci</text>
<rect x="163.50" y="317.30" width="43.80" height="4.10" fill="#b3d59f" stroke="none" stroke-width="0" />
<text x="184.70" y="320.95" font-size="4.6" fill="#1e1e1e" text-anchor="middle" font-weight="normal" stroke="#1e1e1e" stroke-width="0.12">Ruxolitinib</text>
<line x1="57.20" y1="287.40" x2="57.20" y2="330.20" stroke="#231f20" stroke-width="1.2" />
<line x1="313.50" y1="287.40" x2="313.50" y2="330.20" stroke="#231f20" stroke-width="1.2" />
<line x1="57.20" y1="329.80" x2="313.50" y2="329.80" stroke="#231f20" stroke-width="1.2" />
<line x1="54.20" y1="289.80" x2="57.20" y2="289.80" stroke="#231f20" stroke-width="1" />
<text x="51.20" y="292.30" font-size="7.1" fill="#333" text-anchor="end" font-weight="normal" >1,000,000</text>
<line x1="55.70" y1="296.79" x2="57.20" y2="296.79" stroke="#231f20" stroke-width="0.6" />
<line x1="55.70" y1="295.03" x2="57.20" y2="295.03" stroke="#231f20" stroke-width="0.6" />
<line x1="55.70" y1="293.78" x2="57.20" y2="293.78" stroke="#231f20" stroke-width="0.6" />
<line x1="55.70" y1="292.81" x2="57.20" y2="292.81" stroke="#231f20" stroke-width="0.6" />
<line x1="55.70" y1="292.02" x2="57.20" y2="292.02" stroke="#231f20" stroke-width="0.6" />
<line x1="55.70" y1="291.35" x2="57.20" y2="291.35" stroke="#231f20" stroke-width="0.6" />
<line x1="55.70" y1="290.77" x2="57.20" y2="290.77" stroke="#231f20" stroke-width="0.6" />
<line x1="55.70" y1="290.26" x2="57.20" y2="290.26" stroke="#231f20" stroke-width="0.6" />
<line x1="54.20" y1="299.80" x2="57.20" y2="299.80" stroke="#231f20" stroke-width="1" />
<text x="51.20" y="302.30" font-size="7.1" fill="#333" text-anchor="end" font-weight="normal" >100,000</text>
<line x1="55.70" y1="306.79" x2="57.20" y2="306.79" stroke="#231f20" stroke-width="0.6" />
<line x1="55.70" y1="305.03" x2="57.20" y2="305.03" stroke="#231f20" stroke-width="0.6" />
<line x1="55.70" y1="303.78" x2="57.20" y2="303.78" stroke="#231f20" stroke-width="0.6" />
<line x1="55.70" y1="302.81" x2="57.20" y2="302.81" stroke="#231f20" stroke-width="0.6" />
<line x1="55.70" y1="302.02" x2="57.20" y2="302.02" stroke="#231f20" stroke-width="0.6" />
<line x1="55.70" y1="301.35" x2="57.20" y2="301.35" stroke="#231f20" stroke-width="0.6" />
<line x1="55.70" y1="300.77" x2="57.20" y2="300.77" stroke="#231f20" stroke-width="0.6" />
<line x1="55.70" y1="300.26" x2="57.20" y2="300.26" stroke="#231f20" stroke-width="0.6" />
<line x1="54.20" y1="309.80" x2="57.20" y2="309.80" stroke="#231f20" stroke-width="1" />
<text x="51.20" y="312.30" font-size="7.1" fill="#333" text-anchor="end" font-weight="normal" >10,000</text>
<line x1="55.70" y1="316.79" x2="57.20" y2="316.79" stroke="#231f20" stroke-width="0.6" />
<line x1="55.70" y1="315.03" x2="57.20" y2="315.03" stroke="#231f20" stroke-width="0.6" />
<line x1="55.70" y1="313.78" x2="57.20" y2="313.78" stroke="#231f20" stroke-width="0.6" />
<line x1="55.70" y1="312.81" x2="57.20" y2="312.81" stroke="#231f20" stroke-width="0.6" />
<line x1="55.70" y1="312.02" x2="57.20" y2="312.02" stroke="#231f20" stroke-width="0.6" />
<line x1="55.70" y1="311.35" x2="57.20" y2="311.35" stroke="#231f20" stroke-width="0.6" />
<line x1="55.70" y1="310.77" x2="57.20" y2="310.77" stroke="#231f20" stroke-width="0.6" />
<line x1="55.70" y1="310.26" x2="57.20" y2="310.26" stroke="#231f20" stroke-width="0.6" />
<line x1="54.20" y1="319.80" x2="57.20" y2="319.80" stroke="#231f20" stroke-width="1" />
<text x="51.20" y="322.30" font-size="7.1" fill="#333" text-anchor="end" font-weight="normal" >1,000</text>
<line x1="55.70" y1="326.79" x2="57.20" y2="326.79" stroke="#231f20" stroke-width="0.6" />
<line x1="55.70" y1="325.03" x2="57.20" y2="325.03" stroke="#231f20" stroke-width="0.6" />
<line x1="55.70" y1="323.78" x2="57.20" y2="323.78" stroke="#231f20" stroke-width="0.6" />
<line x1="55.70" y1="322.81" x2="57.20" y2="322.81" stroke="#231f20" stroke-width="0.6" />
<line x1="55.70" y1="322.02" x2="57.20" y2="322.02" stroke="#231f20" stroke-width="0.6" />
<line x1="55.70" y1="321.35" x2="57.20" y2="321.35" stroke="#231f20" stroke-width="0.6" />
<line x1="55.70" y1="320.77" x2="57.20" y2="320.77" stroke="#231f20" stroke-width="0.6" />
<line x1="55.70" y1="320.26" x2="57.20" y2="320.26" stroke="#231f20" stroke-width="0.6" />
<line x1="54.20" y1="329.80" x2="57.20" y2="329.80" stroke="#231f20" stroke-width="1" />
<text x="51.20" y="332.30" font-size="7.1" fill="#333" text-anchor="end" font-weight="normal" >100</text>
<line x1="313.50" y1="289.00" x2="316.50" y2="289.00" stroke="#231f20" stroke-width="1" />
<text x="319.60" y="291.50" font-size="7.1" fill="#333" text-anchor="start" font-weight="normal" >300</text>
<line x1="313.50" y1="295.87" x2="315.10" y2="295.87" stroke="#231f20" stroke-width="0.6" />
<line x1="313.50" y1="302.73" x2="316.50" y2="302.73" stroke="#231f20" stroke-width="1" />
<text x="319.60" y="305.23" font-size="7.1" fill="#333" text-anchor="start" font-weight="normal" >200</text>
<line x1="313.50" y1="309.60" x2="315.10" y2="309.60" stroke="#231f20" stroke-width="0.6" />
<line x1="313.50" y1="316.47" x2="316.50" y2="316.47" stroke="#231f20" stroke-width="1" />
<text x="319.60" y="318.97" font-size="7.1" fill="#333" text-anchor="start" font-weight="normal" >100</text>
<line x1="313.50" y1="323.33" x2="315.10" y2="323.33" stroke="#231f20" stroke-width="0.6" />
<line x1="313.50" y1="330.20" x2="316.50" y2="330.20" stroke="#231f20" stroke-width="1" />
<text x="319.60" y="332.70" font-size="7.1" fill="#333" text-anchor="start" font-weight="normal" >0</text>
<line x1="63.87" y1="329.80" x2="63.87" y2="331.60" stroke="#231f20" stroke-width="0.9" />
<line x1="76.33" y1="329.80" x2="76.33" y2="331.60" stroke="#231f20" stroke-width="0.9" />
<line x1="88.80" y1="329.80" x2="88.80" y2="332.80" stroke="#231f20" stroke-width="0.9" />
<line x1="101.27" y1="329.80" x2="101.27" y2="331.60" stroke="#231f20" stroke-width="0.9" />
<line x1="113.73" y1="329.80" x2="113.73" y2="331.60" stroke="#231f20" stroke-width="0.9" />
<line x1="126.20" y1="329.80" x2="126.20" y2="331.60" stroke="#231f20" stroke-width="0.9" />
<line x1="138.66" y1="329.80" x2="138.66" y2="331.60" stroke="#231f20" stroke-width="0.9" />
<line x1="151.13" y1="329.80" x2="151.13" y2="332.80" stroke="#231f20" stroke-width="0.9" />
<line x1="163.60" y1="329.80" x2="163.60" y2="331.60" stroke="#231f20" stroke-width="0.9" />
<line x1="176.06" y1="329.80" x2="176.06" y2="331.60" stroke="#231f20" stroke-width="0.9" />
<line x1="188.53" y1="329.80" x2="188.53" y2="331.60" stroke="#231f20" stroke-width="0.9" />
<line x1="200.99" y1="329.80" x2="200.99" y2="331.60" stroke="#231f20" stroke-width="0.9" />
<line x1="213.46" y1="329.80" x2="213.46" y2="332.80" stroke="#231f20" stroke-width="0.9" />
<line x1="225.93" y1="329.80" x2="225.93" y2="331.60" stroke="#231f20" stroke-width="0.9" />
<line x1="238.39" y1="329.80" x2="238.39" y2="331.60" stroke="#231f20" stroke-width="0.9" />
<line x1="250.86" y1="329.80" x2="250.86" y2="331.60" stroke="#231f20" stroke-width="0.9" />
<line x1="263.32" y1="329.80" x2="263.32" y2="331.60" stroke="#231f20" stroke-width="0.9" />
<line x1="275.79" y1="329.80" x2="275.79" y2="332.80" stroke="#231f20" stroke-width="0.9" />
<line x1="288.26" y1="329.80" x2="288.26" y2="331.60" stroke="#231f20" stroke-width="0.9" />
<line x1="300.72" y1="329.80" x2="300.72" y2="331.60" stroke="#231f20" stroke-width="0.9" />
<text x="88.80" y="342.30" font-size="7.1" fill="#333" text-anchor="middle" font-weight="normal" >0</text>
<text x="151.13" y="342.30" font-size="7.1" fill="#333" text-anchor="middle" font-weight="normal" >10</text>
<text x="213.46" y="342.30" font-size="7.1" fill="#333" text-anchor="middle" font-weight="normal" >20</text>
<text x="275.79" y="342.30" font-size="7.1" fill="#333" text-anchor="middle" font-weight="normal" >30</text>
<line x1="57.20" y1="324.60" x2="313.50" y2="324.60" stroke="#231f20" stroke-width="1.5" />
<line x1="57.20" y1="328.20" x2="313.50" y2="328.20" stroke="#231f20" stroke-width="1.1" stroke-dasharray="1.6 1.6"/>
<line x1="88.80" y1="287.80" x2="88.80" y2="329.80" stroke="#555" stroke-width="0.8" stroke-dasharray="0.9 1.3"/>
<text x="63.50" y="296.60" font-size="8.5" fill="#3a9e3a" text-anchor="start" font-weight="normal" >4</text>
<polyline points="60.13,326.80 76.33,326.60 88.80,326.20 95.03,325.00 101.27,323.80 107.50,322.20 113.73,321.20 119.97,319.20 126.20,316.80 132.43,313.00 138.66,308.50 144.90,304.70 151.13,302.20 157.36,300.40 163.60,300.80 169.83,300.40 176.06,303.20 182.29,303.20 188.53,304.20 194.76,304.20 200.99,305.00 207.23,306.50 213.46,308.00 219.69,308.80 225.93,310.40 232.16,311.40 238.39,312.30 244.62,314.40 250.86,314.80 257.09,315.80 263.32,314.80 269.56,314.80 275.79,314.00" fill="none" stroke="#3a9e3a" stroke-width="1"/>
<polyline points="60.13,327.60 76.33,327.40 88.80,327.00 95.03,324.00 101.27,310.30 107.50,322.00 113.73,326.50 119.97,326.80 126.20,326.80 132.43,328.80 138.66,329.40 144.90,329.60 151.13,329.60 157.36,329.60 163.60,329.60 169.83,329.60 176.06,329.60 182.29,329.60 188.53,329.60 194.76,329.60 200.99,329.60 207.23,329.60 213.46,329.60 219.69,329.60 225.93,329.60 232.16,329.60 238.39,329.60 244.62,329.60 250.86,329.60 257.09,329.60 263.32,329.60 269.56,329.60 275.79,327.40 282.02,310.60 288.26,310.60" fill="none" stroke="#3a9e3a" stroke-width="1"/>
<circle cx="95.03" cy="325.00" r="1.55" fill="#3a9e3a"/>
<circle cx="101.27" cy="323.80" r="1.55" fill="#3a9e3a"/>
<circle cx="107.50" cy="322.20" r="1.55" fill="#3a9e3a"/>
<circle cx="113.73" cy="321.20" r="1.55" fill="#3a9e3a"/>
<circle cx="119.97" cy="319.20" r="1.55" fill="#3a9e3a"/>
<circle cx="126.20" cy="316.80" r="1.55" fill="#3a9e3a"/>
<circle cx="132.43" cy="313.00" r="1.55" fill="#3a9e3a"/>
<circle cx="138.66" cy="308.50" r="1.55" fill="#3a9e3a"/>
<circle cx="144.90" cy="304.70" r="1.55" fill="#3a9e3a"/>
<circle cx="151.13" cy="302.20" r="1.55" fill="#3a9e3a"/>
<circle cx="157.36" cy="300.40" r="1.55" fill="#3a9e3a"/>
<circle cx="163.60" cy="300.80" r="1.55" fill="#3a9e3a"/>
<circle cx="169.83" cy="300.40" r="1.55" fill="#3a9e3a"/>
<circle cx="176.06" cy="303.20" r="1.55" fill="#3a9e3a"/>
<circle cx="182.29" cy="303.20" r="1.55" fill="#3a9e3a"/>
<circle cx="188.53" cy="304.20" r="1.55" fill="#3a9e3a"/>
<circle cx="194.76" cy="304.20" r="1.55" fill="#3a9e3a"/>
<circle cx="200.99" cy="305.00" r="1.55" fill="#3a9e3a"/>
<circle cx="207.23" cy="306.50" r="1.55" fill="#3a9e3a"/>
<circle cx="213.46" cy="308.00" r="1.55" fill="#3a9e3a"/>
<circle cx="219.69" cy="308.80" r="1.55" fill="#3a9e3a"/>
<circle cx="225.93" cy="310.40" r="1.55" fill="#3a9e3a"/>
<circle cx="232.16" cy="311.40" r="1.55" fill="#3a9e3a"/>
<circle cx="238.39" cy="312.30" r="1.55" fill="#3a9e3a"/>
<circle cx="244.62" cy="314.40" r="1.55" fill="#3a9e3a"/>
<circle cx="250.86" cy="314.80" r="1.55" fill="#3a9e3a"/>
<circle cx="257.09" cy="315.80" r="1.55" fill="#3a9e3a"/>
<circle cx="263.32" cy="314.80" r="1.55" fill="#3a9e3a"/>
<circle cx="269.56" cy="314.80" r="1.55" fill="#3a9e3a"/>
<circle cx="275.79" cy="314.00" r="1.55" fill="#3a9e3a"/>
<circle cx="101.27" cy="310.30" r="1.95" fill="#fff" stroke="#3a9e3a" stroke-width="0.9"/>
<circle cx="113.73" cy="326.50" r="1.7" fill="#fff" stroke="#3a9e3a" stroke-width="0.9"/>
<circle cx="119.97" cy="326.80" r="1.7" fill="#fff" stroke="#3a9e3a" stroke-width="0.9"/>
<circle cx="126.20" cy="326.80" r="1.7" fill="#fff" stroke="#3a9e3a" stroke-width="0.9"/>
<circle cx="132.43" cy="328.80" r="1.7" fill="#fff" stroke="#3a9e3a" stroke-width="0.9"/>
<circle cx="138.66" cy="329.40" r="1.7" fill="#fff" stroke="#3a9e3a" stroke-width="0.9"/>
<circle cx="144.90" cy="329.60" r="1.7" fill="#fff" stroke="#3a9e3a" stroke-width="0.9"/>
<circle cx="151.13" cy="329.60" r="1.7" fill="#fff" stroke="#3a9e3a" stroke-width="0.9"/>
<circle cx="157.36" cy="329.60" r="1.7" fill="#fff" stroke="#3a9e3a" stroke-width="0.9"/>
<circle cx="163.60" cy="329.60" r="1.7" fill="#fff" stroke="#3a9e3a" stroke-width="0.9"/>
<circle cx="169.83" cy="329.60" r="1.7" fill="#fff" stroke="#3a9e3a" stroke-width="0.9"/>
<circle cx="176.06" cy="329.60" r="1.7" fill="#fff" stroke="#3a9e3a" stroke-width="0.9"/>
<circle cx="182.29" cy="329.60" r="1.7" fill="#fff" stroke="#3a9e3a" stroke-width="0.9"/>
<circle cx="188.53" cy="329.60" r="1.7" fill="#fff" stroke="#3a9e3a" stroke-width="0.9"/>
<circle cx="194.76" cy="329.60" r="1.7" fill="#fff" stroke="#3a9e3a" stroke-width="0.9"/>
<circle cx="200.99" cy="329.60" r="1.7" fill="#fff" stroke="#3a9e3a" stroke-width="0.9"/>
<circle cx="207.23" cy="329.60" r="1.7" fill="#fff" stroke="#3a9e3a" stroke-width="0.9"/>
<circle cx="213.46" cy="329.60" r="1.7" fill="#fff" stroke="#3a9e3a" stroke-width="0.9"/>
<circle cx="219.69" cy="329.60" r="1.7" fill="#fff" stroke="#3a9e3a" stroke-width="0.9"/>
<circle cx="225.93" cy="329.60" r="1.7" fill="#fff" stroke="#3a9e3a" stroke-width="0.9"/>
<circle cx="232.16" cy="329.60" r="1.7" fill="#fff" stroke="#3a9e3a" stroke-width="0.9"/>
<circle cx="238.39" cy="329.60" r="1.7" fill="#fff" stroke="#3a9e3a" stroke-width="0.9"/>
<circle cx="244.62" cy="329.60" r="1.7" fill="#fff" stroke="#3a9e3a" stroke-width="0.9"/>
<circle cx="250.86" cy="329.60" r="1.7" fill="#fff" stroke="#3a9e3a" stroke-width="0.9"/>
<circle cx="257.09" cy="329.60" r="1.7" fill="#fff" stroke="#3a9e3a" stroke-width="0.9"/>
<circle cx="263.32" cy="329.60" r="1.7" fill="#fff" stroke="#3a9e3a" stroke-width="0.9"/>
<circle cx="269.56" cy="329.60" r="1.7" fill="#fff" stroke="#3a9e3a" stroke-width="0.9"/>
<circle cx="275.79" cy="327.40" r="1.7" fill="#fff" stroke="#3a9e3a" stroke-width="0.9"/>
<circle cx="282.02" cy="310.60" r="1.7" fill="#fff" stroke="#3a9e3a" stroke-width="0.9"/>
<circle cx="288.26" cy="310.60" r="1.7" fill="#fff" stroke="#3a9e3a" stroke-width="0.9"/>
<rect x="195.80" y="358.80" width="18.20" height="4.50" fill="#f9cb94" stroke="none" stroke-width="0" />
<text x="205.00" y="362.65" font-size="4.6" fill="#1e1e1e" text-anchor="middle" font-weight="normal" stroke="#1e1e1e" stroke-width="0.12">G-CSF</text>
<rect x="226.30" y="352.80" width="5.60" height="3.60" fill="#f9cb94" stroke="none" stroke-width="0" />
<rect x="257.50" y="352.70" width="24.40" height="4.20" fill="#f9cb94" stroke="none" stroke-width="0" />
<text x="269.50" y="356.40" font-size="4.6" fill="#1e1e1e" text-anchor="middle" font-weight="normal" stroke="#1e1e1e" stroke-width="0.12">Steroids</text>
<rect x="245.00" y="365.80" width="36.90" height="4.00" fill="#f9cb94" stroke="none" stroke-width="0" />
<text x="263.30" y="369.40" font-size="4.6" fill="#1e1e1e" text-anchor="middle" font-weight="normal" stroke="#1e1e1e" stroke-width="0.12">Anakinra</text>
<line x1="57.20" y1="348.20" x2="57.20" y2="391.00" stroke="#231f20" stroke-width="1.2" />
<line x1="313.50" y1="348.20" x2="313.50" y2="391.00" stroke="#231f20" stroke-width="1.2" />
<line x1="57.20" y1="390.60" x2="313.50" y2="390.60" stroke="#231f20" stroke-width="1.2" />
<line x1="54.20" y1="350.60" x2="57.20" y2="350.60" stroke="#231f20" stroke-width="1" />
<text x="51.20" y="353.10" font-size="7.1" fill="#333" text-anchor="end" font-weight="normal" >1,000,000</text>
<line x1="55.70" y1="357.59" x2="57.20" y2="357.59" stroke="#231f20" stroke-width="0.6" />
<line x1="55.70" y1="355.83" x2="57.20" y2="355.83" stroke="#231f20" stroke-width="0.6" />
<line x1="55.70" y1="354.58" x2="57.20" y2="354.58" stroke="#231f20" stroke-width="0.6" />
<line x1="55.70" y1="353.61" x2="57.20" y2="353.61" stroke="#231f20" stroke-width="0.6" />
<line x1="55.70" y1="352.82" x2="57.20" y2="352.82" stroke="#231f20" stroke-width="0.6" />
<line x1="55.70" y1="352.15" x2="57.20" y2="352.15" stroke="#231f20" stroke-width="0.6" />
<line x1="55.70" y1="351.57" x2="57.20" y2="351.57" stroke="#231f20" stroke-width="0.6" />
<line x1="55.70" y1="351.06" x2="57.20" y2="351.06" stroke="#231f20" stroke-width="0.6" />
<line x1="54.20" y1="360.60" x2="57.20" y2="360.60" stroke="#231f20" stroke-width="1" />
<text x="51.20" y="363.10" font-size="7.1" fill="#333" text-anchor="end" font-weight="normal" >100,000</text>
<line x1="55.70" y1="367.59" x2="57.20" y2="367.59" stroke="#231f20" stroke-width="0.6" />
<line x1="55.70" y1="365.83" x2="57.20" y2="365.83" stroke="#231f20" stroke-width="0.6" />
<line x1="55.70" y1="364.58" x2="57.20" y2="364.58" stroke="#231f20" stroke-width="0.6" />
<line x1="55.70" y1="363.61" x2="57.20" y2="363.61" stroke="#231f20" stroke-width="0.6" />
<line x1="55.70" y1="362.82" x2="57.20" y2="362.82" stroke="#231f20" stroke-width="0.6" />
<line x1="55.70" y1="362.15" x2="57.20" y2="362.15" stroke="#231f20" stroke-width="0.6" />
<line x1="55.70" y1="361.57" x2="57.20" y2="361.57" stroke="#231f20" stroke-width="0.6" />
<line x1="55.70" y1="361.06" x2="57.20" y2="361.06" stroke="#231f20" stroke-width="0.6" />
<line x1="54.20" y1="370.60" x2="57.20" y2="370.60" stroke="#231f20" stroke-width="1" />
<text x="51.20" y="373.10" font-size="7.1" fill="#333" text-anchor="end" font-weight="normal" >10,000</text>
<line x1="55.70" y1="377.59" x2="57.20" y2="377.59" stroke="#231f20" stroke-width="0.6" />
<line x1="55.70" y1="375.83" x2="57.20" y2="375.83" stroke="#231f20" stroke-width="0.6" />
<line x1="55.70" y1="374.58" x2="57.20" y2="374.58" stroke="#231f20" stroke-width="0.6" />
<line x1="55.70" y1="373.61" x2="57.20" y2="373.61" stroke="#231f20" stroke-width="0.6" />
<line x1="55.70" y1="372.82" x2="57.20" y2="372.82" stroke="#231f20" stroke-width="0.6" />
<line x1="55.70" y1="372.15" x2="57.20" y2="372.15" stroke="#231f20" stroke-width="0.6" />
<line x1="55.70" y1="371.57" x2="57.20" y2="371.57" stroke="#231f20" stroke-width="0.6" />
<line x1="55.70" y1="371.06" x2="57.20" y2="371.06" stroke="#231f20" stroke-width="0.6" />
<line x1="54.20" y1="380.60" x2="57.20" y2="380.60" stroke="#231f20" stroke-width="1" />
<text x="51.20" y="383.10" font-size="7.1" fill="#333" text-anchor="end" font-weight="normal" >1,000</text>
<line x1="55.70" y1="387.59" x2="57.20" y2="387.59" stroke="#231f20" stroke-width="0.6" />
<line x1="55.70" y1="385.83" x2="57.20" y2="385.83" stroke="#231f20" stroke-width="0.6" />
<line x1="55.70" y1="384.58" x2="57.20" y2="384.58" stroke="#231f20" stroke-width="0.6" />
<line x1="55.70" y1="383.61" x2="57.20" y2="383.61" stroke="#231f20" stroke-width="0.6" />
<line x1="55.70" y1="382.82" x2="57.20" y2="382.82" stroke="#231f20" stroke-width="0.6" />
<line x1="55.70" y1="382.15" x2="57.20" y2="382.15" stroke="#231f20" stroke-width="0.6" />
<line x1="55.70" y1="381.57" x2="57.20" y2="381.57" stroke="#231f20" stroke-width="0.6" />
<line x1="55.70" y1="381.06" x2="57.20" y2="381.06" stroke="#231f20" stroke-width="0.6" />
<line x1="54.20" y1="390.60" x2="57.20" y2="390.60" stroke="#231f20" stroke-width="1" />
<text x="51.20" y="393.10" font-size="7.1" fill="#333" text-anchor="end" font-weight="normal" >100</text>
<line x1="313.50" y1="349.80" x2="316.50" y2="349.80" stroke="#231f20" stroke-width="1" />
<text x="319.60" y="352.30" font-size="7.1" fill="#333" text-anchor="start" font-weight="normal" >300</text>
<line x1="313.50" y1="356.67" x2="315.10" y2="356.67" stroke="#231f20" stroke-width="0.6" />
<line x1="313.50" y1="363.53" x2="316.50" y2="363.53" stroke="#231f20" stroke-width="1" />
<text x="319.60" y="366.03" font-size="7.1" fill="#333" text-anchor="start" font-weight="normal" >200</text>
<line x1="313.50" y1="370.40" x2="315.10" y2="370.40" stroke="#231f20" stroke-width="0.6" />
<line x1="313.50" y1="377.27" x2="316.50" y2="377.27" stroke="#231f20" stroke-width="1" />
<text x="319.60" y="379.77" font-size="7.1" fill="#333" text-anchor="start" font-weight="normal" >100</text>
<line x1="313.50" y1="384.13" x2="315.10" y2="384.13" stroke="#231f20" stroke-width="0.6" />
<line x1="313.50" y1="391.00" x2="316.50" y2="391.00" stroke="#231f20" stroke-width="1" />
<text x="319.60" y="393.50" font-size="7.1" fill="#333" text-anchor="start" font-weight="normal" >0</text>
<line x1="63.87" y1="390.60" x2="63.87" y2="392.40" stroke="#231f20" stroke-width="0.9" />
<line x1="76.33" y1="390.60" x2="76.33" y2="392.40" stroke="#231f20" stroke-width="0.9" />
<line x1="88.80" y1="390.60" x2="88.80" y2="393.60" stroke="#231f20" stroke-width="0.9" />
<line x1="101.27" y1="390.60" x2="101.27" y2="392.40" stroke="#231f20" stroke-width="0.9" />
<line x1="113.73" y1="390.60" x2="113.73" y2="392.40" stroke="#231f20" stroke-width="0.9" />
<line x1="126.20" y1="390.60" x2="126.20" y2="392.40" stroke="#231f20" stroke-width="0.9" />
<line x1="138.66" y1="390.60" x2="138.66" y2="392.40" stroke="#231f20" stroke-width="0.9" />
<line x1="151.13" y1="390.60" x2="151.13" y2="393.60" stroke="#231f20" stroke-width="0.9" />
<line x1="163.60" y1="390.60" x2="163.60" y2="392.40" stroke="#231f20" stroke-width="0.9" />
<line x1="176.06" y1="390.60" x2="176.06" y2="392.40" stroke="#231f20" stroke-width="0.9" />
<line x1="188.53" y1="390.60" x2="188.53" y2="392.40" stroke="#231f20" stroke-width="0.9" />
<line x1="200.99" y1="390.60" x2="200.99" y2="392.40" stroke="#231f20" stroke-width="0.9" />
<line x1="213.46" y1="390.60" x2="213.46" y2="393.60" stroke="#231f20" stroke-width="0.9" />
<line x1="225.93" y1="390.60" x2="225.93" y2="392.40" stroke="#231f20" stroke-width="0.9" />
<line x1="238.39" y1="390.60" x2="238.39" y2="392.40" stroke="#231f20" stroke-width="0.9" />
<line x1="250.86" y1="390.60" x2="250.86" y2="392.40" stroke="#231f20" stroke-width="0.9" />
<line x1="263.32" y1="390.60" x2="263.32" y2="392.40" stroke="#231f20" stroke-width="0.9" />
<line x1="275.79" y1="390.60" x2="275.79" y2="393.60" stroke="#231f20" stroke-width="0.9" />
<line x1="288.26" y1="390.60" x2="288.26" y2="392.40" stroke="#231f20" stroke-width="0.9" />
<line x1="300.72" y1="390.60" x2="300.72" y2="392.40" stroke="#231f20" stroke-width="0.9" />
<text x="88.80" y="403.10" font-size="7.1" fill="#333" text-anchor="middle" font-weight="normal" >0</text>
<text x="151.13" y="403.10" font-size="7.1" fill="#333" text-anchor="middle" font-weight="normal" >10</text>
<text x="213.46" y="403.10" font-size="7.1" fill="#333" text-anchor="middle" font-weight="normal" >20</text>
<text x="275.79" y="403.10" font-size="7.1" fill="#333" text-anchor="middle" font-weight="normal" >30</text>
<line x1="57.20" y1="385.40" x2="313.50" y2="385.40" stroke="#231f20" stroke-width="1.5" />
<line x1="57.20" y1="389.00" x2="313.50" y2="389.00" stroke="#231f20" stroke-width="1.1" stroke-dasharray="1.6 1.6"/>
<line x1="88.80" y1="348.60" x2="88.80" y2="390.60" stroke="#b04040" stroke-width="0.8" stroke-dasharray="0.9 1.3"/>
<text x="63.50" y="357.40" font-size="8.5" fill="#f0951c" text-anchor="start" font-weight="normal" >7</text>
<polyline points="57.63,381.90 63.87,379.60 70.10,380.00 76.33,380.00 82.57,380.00 88.80,380.00 95.03,380.60 101.27,380.60 107.50,381.90 113.73,382.50 119.97,384.40 126.20,385.00 132.43,385.40 138.66,382.50 144.90,379.30 151.13,376.20 157.36,373.80 163.60,372.30 169.83,372.00 176.06,372.00 182.29,373.50 188.53,373.50 194.76,373.50 200.99,372.90 207.23,372.00 213.46,371.00 219.69,369.60 225.93,367.70 232.16,365.80 238.39,363.80 244.62,362.30 250.86,360.40 257.09,357.50 261.45,355.00" fill="none" stroke="#f0951c" stroke-width="1"/>
<polyline points="57.63,390.20 63.87,390.20 70.10,388.80 76.33,389.20 82.57,390.20 88.80,390.20 95.03,390.20 101.27,390.20 107.50,390.60 113.73,390.60 119.97,390.60 126.20,389.60 132.43,385.00 138.66,382.00 144.90,376.50 151.13,370.00 157.36,372.30 163.60,376.70 169.83,380.60 176.06,370.00 182.29,378.70 188.53,383.50 194.76,386.30 200.99,386.30 207.23,386.30 213.46,386.30 219.69,386.30 225.93,383.50 232.16,380.50 238.39,378.70 244.62,379.20 250.86,373.50 257.09,380.60 263.32,385.40 269.56,388.30 275.79,389.60 282.02,389.60 288.26,390.20" fill="none" stroke="#f0951c" stroke-width="1"/>
<circle cx="57.63" cy="381.90" r="1.55" fill="#f0951c"/>
<circle cx="63.87" cy="379.60" r="1.55" fill="#f0951c"/>
<circle cx="70.10" cy="380.00" r="1.55" fill="#f0951c"/>
<circle cx="76.33" cy="380.00" r="1.55" fill="#f0951c"/>
<circle cx="82.57" cy="380.00" r="1.55" fill="#f0951c"/>
<circle cx="88.80" cy="380.00" r="1.55" fill="#f0951c"/>
<circle cx="95.03" cy="380.60" r="1.55" fill="#f0951c"/>
<circle cx="101.27" cy="380.60" r="1.55" fill="#f0951c"/>
<circle cx="107.50" cy="381.90" r="1.55" fill="#f0951c"/>
<circle cx="113.73" cy="382.50" r="1.55" fill="#f0951c"/>
<circle cx="119.97" cy="384.40" r="1.55" fill="#f0951c"/>
<circle cx="126.20" cy="385.00" r="1.55" fill="#f0951c"/>
<circle cx="132.43" cy="385.40" r="1.55" fill="#f0951c"/>
<circle cx="138.66" cy="382.50" r="1.55" fill="#f0951c"/>
<circle cx="144.90" cy="379.30" r="1.55" fill="#f0951c"/>
<circle cx="151.13" cy="376.20" r="1.55" fill="#f0951c"/>
<circle cx="157.36" cy="373.80" r="1.55" fill="#f0951c"/>
<circle cx="163.60" cy="372.30" r="1.55" fill="#f0951c"/>
<circle cx="169.83" cy="372.00" r="1.55" fill="#f0951c"/>
<circle cx="176.06" cy="372.00" r="1.55" fill="#f0951c"/>
<circle cx="182.29" cy="373.50" r="1.55" fill="#f0951c"/>
<circle cx="188.53" cy="373.50" r="1.55" fill="#f0951c"/>
<circle cx="194.76" cy="373.50" r="1.55" fill="#f0951c"/>
<circle cx="200.99" cy="372.90" r="1.55" fill="#f0951c"/>
<circle cx="207.23" cy="372.00" r="1.55" fill="#f0951c"/>
<circle cx="213.46" cy="371.00" r="1.55" fill="#f0951c"/>
<circle cx="219.69" cy="369.60" r="1.55" fill="#f0951c"/>
<circle cx="225.93" cy="367.70" r="1.55" fill="#f0951c"/>
<circle cx="232.16" cy="365.80" r="1.55" fill="#f0951c"/>
<circle cx="238.39" cy="363.80" r="1.55" fill="#f0951c"/>
<circle cx="244.62" cy="362.30" r="1.55" fill="#f0951c"/>
<circle cx="250.86" cy="360.40" r="1.55" fill="#f0951c"/>
<circle cx="257.09" cy="357.50" r="1.55" fill="#f0951c"/>
<circle cx="261.45" cy="355.00" r="1.55" fill="#f0951c"/>
<circle cx="57.63" cy="390.20" r="1.95" fill="#fff" stroke="#f0951c" stroke-width="0.9"/>
<circle cx="63.87" cy="390.20" r="1.95" fill="#fff" stroke="#f0951c" stroke-width="0.9"/>
<circle cx="70.10" cy="388.80" r="1.95" fill="#fff" stroke="#f0951c" stroke-width="0.9"/>
<circle cx="76.33" cy="389.20" r="1.95" fill="#fff" stroke="#f0951c" stroke-width="0.9"/>
<circle cx="82.57" cy="390.20" r="1.95" fill="#fff" stroke="#f0951c" stroke-width="0.9"/>
<circle cx="88.80" cy="390.20" r="1.95" fill="#fff" stroke="#f0951c" stroke-width="0.9"/>
<circle cx="95.03" cy="390.20" r="1.95" fill="#fff" stroke="#f0951c" stroke-width="0.9"/>
<circle cx="101.27" cy="390.20" r="1.95" fill="#fff" stroke="#f0951c" stroke-width="0.9"/>
<circle cx="107.50" cy="390.60" r="1.95" fill="#fff" stroke="#f0951c" stroke-width="0.9"/>
<circle cx="113.73" cy="390.60" r="1.95" fill="#fff" stroke="#f0951c" stroke-width="0.9"/>
<circle cx="119.97" cy="390.60" r="1.95" fill="#fff" stroke="#f0951c" stroke-width="0.9"/>
<circle cx="126.20" cy="389.60" r="1.95" fill="#fff" stroke="#f0951c" stroke-width="0.9"/>
<circle cx="132.43" cy="385.00" r="1.95" fill="#fff" stroke="#f0951c" stroke-width="0.9"/>
<circle cx="138.66" cy="382.00" r="1.95" fill="#fff" stroke="#f0951c" stroke-width="0.9"/>
<circle cx="144.90" cy="376.50" r="1.95" fill="#fff" stroke="#f0951c" stroke-width="0.9"/>
<circle cx="151.13" cy="370.00" r="1.95" fill="#fff" stroke="#f0951c" stroke-width="0.9"/>
<circle cx="157.36" cy="372.30" r="1.95" fill="#fff" stroke="#f0951c" stroke-width="0.9"/>
<circle cx="163.60" cy="376.70" r="1.95" fill="#fff" stroke="#f0951c" stroke-width="0.9"/>
<circle cx="169.83" cy="380.60" r="1.95" fill="#fff" stroke="#f0951c" stroke-width="0.9"/>
<circle cx="176.06" cy="370.00" r="1.95" fill="#fff" stroke="#f0951c" stroke-width="0.9"/>
<circle cx="182.29" cy="378.70" r="1.95" fill="#fff" stroke="#f0951c" stroke-width="0.9"/>
<circle cx="188.53" cy="383.50" r="1.95" fill="#fff" stroke="#f0951c" stroke-width="0.9"/>
<circle cx="194.76" cy="386.30" r="1.95" fill="#fff" stroke="#f0951c" stroke-width="0.9"/>
<circle cx="200.99" cy="386.30" r="1.95" fill="#fff" stroke="#f0951c" stroke-width="0.9"/>
<circle cx="207.23" cy="386.30" r="1.95" fill="#fff" stroke="#f0951c" stroke-width="0.9"/>
<circle cx="213.46" cy="386.30" r="1.95" fill="#fff" stroke="#f0951c" stroke-width="0.9"/>
<circle cx="219.69" cy="386.30" r="1.95" fill="#fff" stroke="#f0951c" stroke-width="0.9"/>
<circle cx="225.93" cy="383.50" r="1.95" fill="#fff" stroke="#f0951c" stroke-width="0.9"/>
<circle cx="232.16" cy="380.50" r="1.95" fill="#fff" stroke="#f0951c" stroke-width="0.9"/>
<circle cx="238.39" cy="378.70" r="1.95" fill="#fff" stroke="#f0951c" stroke-width="0.9"/>
<circle cx="244.62" cy="379.20" r="1.95" fill="#fff" stroke="#f0951c" stroke-width="0.9"/>
<circle cx="250.86" cy="373.50" r="1.95" fill="#fff" stroke="#f0951c" stroke-width="0.9"/>
<circle cx="257.09" cy="380.60" r="1.95" fill="#fff" stroke="#f0951c" stroke-width="0.9"/>
<circle cx="263.32" cy="385.40" r="1.95" fill="#fff" stroke="#f0951c" stroke-width="0.9"/>
<circle cx="269.56" cy="388.30" r="1.95" fill="#fff" stroke="#f0951c" stroke-width="0.9"/>
<circle cx="275.79" cy="389.60" r="1.95" fill="#fff" stroke="#f0951c" stroke-width="0.9"/>
<circle cx="282.02" cy="389.60" r="1.95" fill="#fff" stroke="#f0951c" stroke-width="0.9"/>
<circle cx="288.26" cy="390.20" r="1.95" fill="#fff" stroke="#f0951c" stroke-width="0.9"/>
<text x="247.30" y="375.20" font-size="5" fill="#1a1a1a" text-anchor="middle" font-weight="normal" stroke="#1a1a1a" stroke-width="0.15">Sil</text>
<rect x="156.90" y="413.70" width="68.90" height="3.80" fill="#a6ccef" stroke="none" stroke-width="0" />
<text x="191.50" y="417.20" font-size="4.6" fill="#1e1e1e" text-anchor="middle" font-weight="normal" stroke="#1e1e1e" stroke-width="0.12">Steroids</text>
<rect x="145.00" y="420.40" width="61.90" height="3.80" fill="#a6ccef" stroke="none" stroke-width="0" />
<text x="176.20" y="423.90" font-size="4.6" fill="#1e1e1e" text-anchor="middle" font-weight="normal" stroke="#1e1e1e" stroke-width="0.12">G-CSF</text>
<line x1="57.20" y1="409.00" x2="57.20" y2="451.80" stroke="#231f20" stroke-width="1.2" />
<line x1="313.50" y1="409.00" x2="313.50" y2="451.80" stroke="#231f20" stroke-width="1.2" />
<line x1="57.20" y1="451.40" x2="313.50" y2="451.40" stroke="#231f20" stroke-width="1.2" />
<line x1="54.20" y1="411.40" x2="57.20" y2="411.40" stroke="#231f20" stroke-width="1" />
<text x="51.20" y="413.90" font-size="7.1" fill="#333" text-anchor="end" font-weight="normal" >1,000,000</text>
<line x1="55.70" y1="418.39" x2="57.20" y2="418.39" stroke="#231f20" stroke-width="0.6" />
<line x1="55.70" y1="416.63" x2="57.20" y2="416.63" stroke="#231f20" stroke-width="0.6" />
<line x1="55.70" y1="415.38" x2="57.20" y2="415.38" stroke="#231f20" stroke-width="0.6" />
<line x1="55.70" y1="414.41" x2="57.20" y2="414.41" stroke="#231f20" stroke-width="0.6" />
<line x1="55.70" y1="413.62" x2="57.20" y2="413.62" stroke="#231f20" stroke-width="0.6" />
<line x1="55.70" y1="412.95" x2="57.20" y2="412.95" stroke="#231f20" stroke-width="0.6" />
<line x1="55.70" y1="412.37" x2="57.20" y2="412.37" stroke="#231f20" stroke-width="0.6" />
<line x1="55.70" y1="411.86" x2="57.20" y2="411.86" stroke="#231f20" stroke-width="0.6" />
<line x1="54.20" y1="421.40" x2="57.20" y2="421.40" stroke="#231f20" stroke-width="1" />
<text x="51.20" y="423.90" font-size="7.1" fill="#333" text-anchor="end" font-weight="normal" >100,000</text>
<line x1="55.70" y1="428.39" x2="57.20" y2="428.39" stroke="#231f20" stroke-width="0.6" />
<line x1="55.70" y1="426.63" x2="57.20" y2="426.63" stroke="#231f20" stroke-width="0.6" />
<line x1="55.70" y1="425.38" x2="57.20" y2="425.38" stroke="#231f20" stroke-width="0.6" />
<line x1="55.70" y1="424.41" x2="57.20" y2="424.41" stroke="#231f20" stroke-width="0.6" />
<line x1="55.70" y1="423.62" x2="57.20" y2="423.62" stroke="#231f20" stroke-width="0.6" />
<line x1="55.70" y1="422.95" x2="57.20" y2="422.95" stroke="#231f20" stroke-width="0.6" />
<line x1="55.70" y1="422.37" x2="57.20" y2="422.37" stroke="#231f20" stroke-width="0.6" />
<line x1="55.70" y1="421.86" x2="57.20" y2="421.86" stroke="#231f20" stroke-width="0.6" />
<line x1="54.20" y1="431.40" x2="57.20" y2="431.40" stroke="#231f20" stroke-width="1" />
<text x="51.20" y="433.90" font-size="7.1" fill="#333" text-anchor="end" font-weight="normal" >10,000</text>
<line x1="55.70" y1="438.39" x2="57.20" y2="438.39" stroke="#231f20" stroke-width="0.6" />
<line x1="55.70" y1="436.63" x2="57.20" y2="436.63" stroke="#231f20" stroke-width="0.6" />
<line x1="55.70" y1="435.38" x2="57.20" y2="435.38" stroke="#231f20" stroke-width="0.6" />
<line x1="55.70" y1="434.41" x2="57.20" y2="434.41" stroke="#231f20" stroke-width="0.6" />
<line x1="55.70" y1="433.62" x2="57.20" y2="433.62" stroke="#231f20" stroke-width="0.6" />
<line x1="55.70" y1="432.95" x2="57.20" y2="432.95" stroke="#231f20" stroke-width="0.6" />
<line x1="55.70" y1="432.37" x2="57.20" y2="432.37" stroke="#231f20" stroke-width="0.6" />
<line x1="55.70" y1="431.86" x2="57.20" y2="431.86" stroke="#231f20" stroke-width="0.6" />
<line x1="54.20" y1="441.40" x2="57.20" y2="441.40" stroke="#231f20" stroke-width="1" />
<text x="51.20" y="443.90" font-size="7.1" fill="#333" text-anchor="end" font-weight="normal" >1,000</text>
<line x1="55.70" y1="448.39" x2="57.20" y2="448.39" stroke="#231f20" stroke-width="0.6" />
<line x1="55.70" y1="446.63" x2="57.20" y2="446.63" stroke="#231f20" stroke-width="0.6" />
<line x1="55.70" y1="445.38" x2="57.20" y2="445.38" stroke="#231f20" stroke-width="0.6" />
<line x1="55.70" y1="444.41" x2="57.20" y2="444.41" stroke="#231f20" stroke-width="0.6" />
<line x1="55.70" y1="443.62" x2="57.20" y2="443.62" stroke="#231f20" stroke-width="0.6" />
<line x1="55.70" y1="442.95" x2="57.20" y2="442.95" stroke="#231f20" stroke-width="0.6" />
<line x1="55.70" y1="442.37" x2="57.20" y2="442.37" stroke="#231f20" stroke-width="0.6" />
<line x1="55.70" y1="441.86" x2="57.20" y2="441.86" stroke="#231f20" stroke-width="0.6" />
<line x1="54.20" y1="451.40" x2="57.20" y2="451.40" stroke="#231f20" stroke-width="1" />
<text x="51.20" y="453.90" font-size="7.1" fill="#333" text-anchor="end" font-weight="normal" >100</text>
<line x1="313.50" y1="410.60" x2="316.50" y2="410.60" stroke="#231f20" stroke-width="1" />
<text x="319.60" y="413.10" font-size="7.1" fill="#333" text-anchor="start" font-weight="normal" >300</text>
<line x1="313.50" y1="417.47" x2="315.10" y2="417.47" stroke="#231f20" stroke-width="0.6" />
<line x1="313.50" y1="424.33" x2="316.50" y2="424.33" stroke="#231f20" stroke-width="1" />
<text x="319.60" y="426.83" font-size="7.1" fill="#333" text-anchor="start" font-weight="normal" >200</text>
<line x1="313.50" y1="431.20" x2="315.10" y2="431.20" stroke="#231f20" stroke-width="0.6" />
<line x1="313.50" y1="438.07" x2="316.50" y2="438.07" stroke="#231f20" stroke-width="1" />
<text x="319.60" y="440.57" font-size="7.1" fill="#333" text-anchor="start" font-weight="normal" >100</text>
<line x1="313.50" y1="444.93" x2="315.10" y2="444.93" stroke="#231f20" stroke-width="0.6" />
<line x1="313.50" y1="451.80" x2="316.50" y2="451.80" stroke="#231f20" stroke-width="1" />
<text x="319.60" y="454.30" font-size="7.1" fill="#333" text-anchor="start" font-weight="normal" >0</text>
<line x1="63.87" y1="451.40" x2="63.87" y2="453.20" stroke="#231f20" stroke-width="0.9" />
<line x1="76.33" y1="451.40" x2="76.33" y2="453.20" stroke="#231f20" stroke-width="0.9" />
<line x1="88.80" y1="451.40" x2="88.80" y2="454.40" stroke="#231f20" stroke-width="0.9" />
<line x1="101.27" y1="451.40" x2="101.27" y2="453.20" stroke="#231f20" stroke-width="0.9" />
<line x1="113.73" y1="451.40" x2="113.73" y2="453.20" stroke="#231f20" stroke-width="0.9" />
<line x1="126.20" y1="451.40" x2="126.20" y2="453.20" stroke="#231f20" stroke-width="0.9" />
<line x1="138.66" y1="451.40" x2="138.66" y2="453.20" stroke="#231f20" stroke-width="0.9" />
<line x1="151.13" y1="451.40" x2="151.13" y2="454.40" stroke="#231f20" stroke-width="0.9" />
<line x1="163.60" y1="451.40" x2="163.60" y2="453.20" stroke="#231f20" stroke-width="0.9" />
<line x1="176.06" y1="451.40" x2="176.06" y2="453.20" stroke="#231f20" stroke-width="0.9" />
<line x1="188.53" y1="451.40" x2="188.53" y2="453.20" stroke="#231f20" stroke-width="0.9" />
<line x1="200.99" y1="451.40" x2="200.99" y2="453.20" stroke="#231f20" stroke-width="0.9" />
<line x1="213.46" y1="451.40" x2="213.46" y2="454.40" stroke="#231f20" stroke-width="0.9" />
<line x1="225.93" y1="451.40" x2="225.93" y2="453.20" stroke="#231f20" stroke-width="0.9" />
<line x1="238.39" y1="451.40" x2="238.39" y2="453.20" stroke="#231f20" stroke-width="0.9" />
<line x1="250.86" y1="451.40" x2="250.86" y2="453.20" stroke="#231f20" stroke-width="0.9" />
<line x1="263.32" y1="451.40" x2="263.32" y2="453.20" stroke="#231f20" stroke-width="0.9" />
<line x1="275.79" y1="451.40" x2="275.79" y2="454.40" stroke="#231f20" stroke-width="0.9" />
<line x1="288.26" y1="451.40" x2="288.26" y2="453.20" stroke="#231f20" stroke-width="0.9" />
<line x1="300.72" y1="451.40" x2="300.72" y2="453.20" stroke="#231f20" stroke-width="0.9" />
<text x="88.80" y="463.90" font-size="7.1" fill="#333" text-anchor="middle" font-weight="normal" >0</text>
<text x="151.13" y="463.90" font-size="7.1" fill="#333" text-anchor="middle" font-weight="normal" >10</text>
<text x="213.46" y="463.90" font-size="7.1" fill="#333" text-anchor="middle" font-weight="normal" >20</text>
<text x="275.79" y="463.90" font-size="7.1" fill="#333" text-anchor="middle" font-weight="normal" >30</text>
<line x1="57.20" y1="446.20" x2="313.50" y2="446.20" stroke="#231f20" stroke-width="1.5" />
<line x1="57.20" y1="449.80" x2="313.50" y2="449.80" stroke="#231f20" stroke-width="1.1" stroke-dasharray="1.6 1.6"/>
<line x1="88.80" y1="409.40" x2="88.80" y2="451.40" stroke="#b04040" stroke-width="0.8" stroke-dasharray="0.9 1.3"/>
<text x="63.50" y="418.20" font-size="8.5" fill="#38a6da" text-anchor="start" font-weight="normal" >1</text>
<polyline points="63.87,450.20 70.10,449.60 76.33,448.80 82.57,445.80 88.80,445.80 95.03,445.80 101.27,445.80 107.50,445.80 113.73,445.80 119.97,445.80 126.20,446.30 132.43,445.80 138.66,442.50 144.90,440.00 151.13,434.80 157.36,430.00 163.60,428.00 169.83,427.10 176.06,427.10 182.29,428.00 188.53,428.50 194.76,428.50 200.99,428.50 207.23,429.00" fill="none" stroke="#38a6da" stroke-width="1"/>
<polyline points="63.87,441.20 70.10,443.80 76.33,448.30 82.57,445.80 88.80,431.00 95.03,418.50 101.27,430.00 107.50,436.20 113.73,442.00 119.97,444.40 126.20,446.30 132.43,446.30 138.66,441.20 144.90,434.80 151.13,434.80 157.36,443.00 163.60,448.30 169.83,450.20 176.06,450.50 182.29,450.50 188.53,450.50 194.76,450.50 200.99,449.60 207.23,448.80" fill="none" stroke="#38a6da" stroke-width="1"/>
<circle cx="63.87" cy="450.20" r="1.55" fill="#38a6da"/>
<circle cx="70.10" cy="449.60" r="1.55" fill="#38a6da"/>
<circle cx="76.33" cy="448.80" r="1.55" fill="#38a6da"/>
<circle cx="82.57" cy="445.80" r="1.55" fill="#38a6da"/>
<circle cx="88.80" cy="445.80" r="1.55" fill="#38a6da"/>
<circle cx="95.03" cy="445.80" r="1.55" fill="#38a6da"/>
<circle cx="101.27" cy="445.80" r="1.55" fill="#38a6da"/>
<circle cx="107.50" cy="445.80" r="1.55" fill="#38a6da"/>
<circle cx="113.73" cy="445.80" r="1.55" fill="#38a6da"/>
<circle cx="119.97" cy="445.80" r="1.55" fill="#38a6da"/>
<circle cx="126.20" cy="446.30" r="1.55" fill="#38a6da"/>
<circle cx="132.43" cy="445.80" r="1.55" fill="#38a6da"/>
<circle cx="138.66" cy="442.50" r="1.55" fill="#38a6da"/>
<circle cx="144.90" cy="440.00" r="1.55" fill="#38a6da"/>
<circle cx="151.13" cy="434.80" r="1.55" fill="#38a6da"/>
<circle cx="157.36" cy="430.00" r="1.55" fill="#38a6da"/>
<circle cx="163.60" cy="428.00" r="1.55" fill="#38a6da"/>
<circle cx="169.83" cy="427.10" r="1.55" fill="#38a6da"/>
<circle cx="176.06" cy="427.10" r="1.55" fill="#38a6da"/>
<circle cx="182.29" cy="428.00" r="1.55" fill="#38a6da"/>
<circle cx="188.53" cy="428.50" r="1.55" fill="#38a6da"/>
<circle cx="194.76" cy="428.50" r="1.55" fill="#38a6da"/>
<circle cx="200.99" cy="428.50" r="1.55" fill="#38a6da"/>
<circle cx="207.23" cy="429.00" r="1.55" fill="#38a6da"/>
<circle cx="63.87" cy="441.20" r="1.95" fill="#fff" stroke="#38a6da" stroke-width="0.9"/>
<circle cx="70.10" cy="443.80" r="1.95" fill="#fff" stroke="#38a6da" stroke-width="0.9"/>
<circle cx="76.33" cy="448.30" r="1.95" fill="#fff" stroke="#38a6da" stroke-width="0.9"/>
<circle cx="82.57" cy="445.80" r="1.95" fill="#fff" stroke="#38a6da" stroke-width="0.9"/>
<circle cx="88.80" cy="431.00" r="1.95" fill="#fff" stroke="#38a6da" stroke-width="0.9"/>
<circle cx="95.03" cy="418.50" r="1.95" fill="#fff" stroke="#38a6da" stroke-width="0.9"/>
<circle cx="101.27" cy="430.00" r="1.95" fill="#fff" stroke="#38a6da" stroke-width="0.9"/>
<circle cx="107.50" cy="436.20" r="1.95" fill="#fff" stroke="#38a6da" stroke-width="0.9"/>
<circle cx="113.73" cy="442.00" r="1.95" fill="#fff" stroke="#38a6da" stroke-width="0.9"/>
<circle cx="119.97" cy="444.40" r="1.95" fill="#fff" stroke="#38a6da" stroke-width="0.9"/>
<circle cx="126.20" cy="446.30" r="1.95" fill="#fff" stroke="#38a6da" stroke-width="0.9"/>
<circle cx="132.43" cy="446.30" r="1.95" fill="#fff" stroke="#38a6da" stroke-width="0.9"/>
<circle cx="138.66" cy="441.20" r="1.95" fill="#fff" stroke="#38a6da" stroke-width="0.9"/>
<circle cx="144.90" cy="434.80" r="1.95" fill="#fff" stroke="#38a6da" stroke-width="0.9"/>
<circle cx="151.13" cy="434.80" r="1.95" fill="#fff" stroke="#38a6da" stroke-width="0.9"/>
<circle cx="157.36" cy="443.00" r="1.95" fill="#fff" stroke="#38a6da" stroke-width="0.9"/>
<circle cx="163.60" cy="448.30" r="1.95" fill="#fff" stroke="#38a6da" stroke-width="0.9"/>
<circle cx="169.83" cy="450.20" r="1.95" fill="#fff" stroke="#38a6da" stroke-width="0.9"/>
<circle cx="176.06" cy="450.50" r="1.95" fill="#fff" stroke="#38a6da" stroke-width="0.9"/>
<circle cx="182.29" cy="450.50" r="1.95" fill="#fff" stroke="#38a6da" stroke-width="0.9"/>
<circle cx="188.53" cy="450.50" r="1.95" fill="#fff" stroke="#38a6da" stroke-width="0.9"/>
<circle cx="194.76" cy="450.50" r="1.95" fill="#fff" stroke="#38a6da" stroke-width="0.9"/>
<circle cx="200.99" cy="449.60" r="1.95" fill="#fff" stroke="#38a6da" stroke-width="0.9"/>
<circle cx="207.23" cy="448.80" r="1.95" fill="#fff" stroke="#38a6da" stroke-width="0.9"/>
<text x="141.80" y="430.40" font-size="5" fill="#1a1a3a" text-anchor="middle" font-weight="normal" stroke="#1a1a3a" stroke-width="0.15">Toci</text>
<g transform="translate(14.5,303) rotate(-90)">
<text x="0.00" y="0.00" font-size="8.3" fill="#231f20" text-anchor="middle" font-weight="normal" textLength="38.5" lengthAdjust="spacingAndGlyphs" >Ferritin ug/L</text>
</g>
<line x1="12.20" y1="325.50" x2="12.20" y2="335.70" stroke="#231f20" stroke-width="1" />
<circle cx="12.2" cy="330.4" r="1.8" fill="#231f20"/>
<g transform="translate(337.2,317) rotate(90)">
<text x="0.00" y="0.00" font-size="8.3" fill="#231f20" text-anchor="middle" font-weight="normal" textLength="31.5" lengthAdjust="spacingAndGlyphs" >CRP mg/L</text>
</g>
<line x1="340.00" y1="286.50" x2="340.00" y2="299.00" stroke="#231f20" stroke-width="1" />
<circle cx="340" cy="292.7" r="1.8" fill="#fff" stroke="#231f20" stroke-width="0.9"/>
<text x="140.90" y="477.50" font-size="10" fill="#333" text-anchor="start" font-weight="normal" textLength="90" lengthAdjust="spacingAndGlyphs" stroke="#333" stroke-width="0.2">Days post CAR T cell infusion</text>
<line x1="50.80" y1="488.20" x2="60.00" y2="488.20" stroke="#231f20" stroke-width="1" />
<text x="64.00" y="490.80" font-size="7.2" fill="#231f20" text-anchor="start" font-weight="normal" textLength="111.4" lengthAdjust="spacingAndGlyphs" >Maximum normal Ferritin (336 ug/L)</text>
<line x1="181.50" y1="488.20" x2="192.30" y2="488.20" stroke="#231f20" stroke-width="1" stroke-dasharray="2.2 1.6"/>
<text x="195.40" y="490.80" font-size="7.2" fill="#231f20" text-anchor="start" font-weight="normal" textLength="99.1" lengthAdjust="spacingAndGlyphs" >Maximum normal CRP(10 mg/L)</text>
<rect x="150.80" y="497.30" width="7.70" height="4.60" fill="#c8c8c8" stroke="none" stroke-width="0" />
<text x="162.50" y="501.90" font-size="7.2" fill="#231f20" text-anchor="start" font-weight="normal" textLength="31.3" lengthAdjust="spacingAndGlyphs" >Treatment</text>
<text x="358.50" y="17.60" font-size="11.5" fill="#000" text-anchor="start" font-weight="bold" >C</text>
<line x1="400.00" y1="24.30" x2="400.00" y2="53.20" stroke="#231f20" stroke-width="1.2" />
<line x1="400.00" y1="58.00" x2="400.00" y2="95.60" stroke="#231f20" stroke-width="1.2" />
<line x1="399.50" y1="53.20" x2="402.60" y2="53.20" stroke="#231f20" stroke-width="1.1" />
<line x1="397.60" y1="58.00" x2="402.60" y2="58.00" stroke="#231f20" stroke-width="1.6" />
<line x1="396.70" y1="27.30" x2="400.00" y2="27.30" stroke="#231f20" stroke-width="1" />
<text x="393.30" y="30.10" font-size="8.2" fill="#333" text-anchor="end" font-weight="normal" transform="translate(393.3 0) scale(0.84 1) translate(-393.3 0)">15,000</text>
<line x1="396.70" y1="37.80" x2="400.00" y2="37.80" stroke="#231f20" stroke-width="1" />
<text x="393.30" y="40.60" font-size="8.2" fill="#333" text-anchor="end" font-weight="normal" transform="translate(393.3 0) scale(0.84 1) translate(-393.3 0)">10,000</text>
<line x1="396.70" y1="47.70" x2="400.00" y2="47.70" stroke="#231f20" stroke-width="1" />
<text x="393.30" y="50.50" font-size="8.2" fill="#333" text-anchor="end" font-weight="normal" transform="translate(393.3 0) scale(0.84 1) translate(-393.3 0)">5,000</text>
<line x1="396.70" y1="64.90" x2="400.00" y2="64.90" stroke="#231f20" stroke-width="1" />
<text x="393.30" y="67.70" font-size="8.2" fill="#333" text-anchor="end" font-weight="normal" transform="translate(393.3 0) scale(0.84 1) translate(-393.3 0)">2,000</text>
<line x1="396.70" y1="80.30" x2="400.00" y2="80.30" stroke="#231f20" stroke-width="1" />
<text x="393.30" y="83.10" font-size="8.2" fill="#333" text-anchor="end" font-weight="normal" transform="translate(393.3 0) scale(0.84 1) translate(-393.3 0)">1,000</text>
<line x1="396.70" y1="95.20" x2="400.00" y2="95.20" stroke="#231f20" stroke-width="1" />
<text x="393.30" y="98.00" font-size="8.2" fill="#333" text-anchor="end" font-weight="normal" transform="translate(393.3 0) scale(0.84 1) translate(-393.3 0)">0</text>
<line x1="398.20" y1="72.60" x2="400.00" y2="72.60" stroke="#231f20" stroke-width="0.8" />
<line x1="398.20" y1="87.80" x2="400.00" y2="87.80" stroke="#231f20" stroke-width="0.8" />
<line x1="400.00" y1="95.40" x2="504.80" y2="95.40" stroke="#231f20" stroke-width="1.2" />
<line x1="402.20" y1="95.40" x2="402.20" y2="98.00" stroke="#231f20" stroke-width="0.8" />
<line x1="407.75" y1="95.40" x2="407.75" y2="97.00" stroke="#231f20" stroke-width="0.8" />
<line x1="413.31" y1="95.40" x2="413.31" y2="97.00" stroke="#231f20" stroke-width="0.8" />
<line x1="418.86" y1="95.40" x2="418.86" y2="97.00" stroke="#231f20" stroke-width="0.8" />
<line x1="424.42" y1="95.40" x2="424.42" y2="97.00" stroke="#231f20" stroke-width="0.8" />
<line x1="429.97" y1="95.40" x2="429.97" y2="98.00" stroke="#231f20" stroke-width="0.8" />
<line x1="435.52" y1="95.40" x2="435.52" y2="97.00" stroke="#231f20" stroke-width="0.8" />
<line x1="441.08" y1="95.40" x2="441.08" y2="97.00" stroke="#231f20" stroke-width="0.8" />
<line x1="446.63" y1="95.40" x2="446.63" y2="97.00" stroke="#231f20" stroke-width="0.8" />
<line x1="452.19" y1="95.40" x2="452.19" y2="97.00" stroke="#231f20" stroke-width="0.8" />
<line x1="457.74" y1="95.40" x2="457.74" y2="98.00" stroke="#231f20" stroke-width="0.8" />
<line x1="463.29" y1="95.40" x2="463.29" y2="97.00" stroke="#231f20" stroke-width="0.8" />
<line x1="468.85" y1="95.40" x2="468.85" y2="97.00" stroke="#231f20" stroke-width="0.8" />
<line x1="474.40" y1="95.40" x2="474.40" y2="97.00" stroke="#231f20" stroke-width="0.8" />
<line x1="479.96" y1="95.40" x2="479.96" y2="97.00" stroke="#231f20" stroke-width="0.8" />
<line x1="485.51" y1="95.40" x2="485.51" y2="98.00" stroke="#231f20" stroke-width="0.8" />
<line x1="491.06" y1="95.40" x2="491.06" y2="97.00" stroke="#231f20" stroke-width="0.8" />
<line x1="496.62" y1="95.40" x2="496.62" y2="97.00" stroke="#231f20" stroke-width="0.8" />
<line x1="502.17" y1="95.40" x2="502.17" y2="97.00" stroke="#231f20" stroke-width="0.8" />
<text x="402.20" y="108.20" font-size="8.2" fill="#333" text-anchor="middle" font-weight="normal" transform="translate(402.20 0) scale(0.84 1) translate(-402.20 0)">0</text>
<text x="429.97" y="108.20" font-size="8.2" fill="#333" text-anchor="middle" font-weight="normal" transform="translate(429.97 0) scale(0.84 1) translate(-429.97 0)">10</text>
<text x="457.74" y="108.20" font-size="8.2" fill="#333" text-anchor="middle" font-weight="normal" transform="translate(457.74 0) scale(0.84 1) translate(-457.74 0)">20</text>
<text x="485.51" y="108.20" font-size="8.2" fill="#333" text-anchor="middle" font-weight="normal" transform="translate(485.51 0) scale(0.84 1) translate(-485.51 0)">30</text>
<line x1="403.00" y1="46.10" x2="500.00" y2="46.10" stroke="#231f20" stroke-width="1.1" stroke-dasharray="1.1 2.1"/>
<line x1="403.00" y1="57.90" x2="500.00" y2="57.90" stroke="#231f20" stroke-width="1.1" stroke-dasharray="1.1 2.1"/>
<g transform="translate(367.2,61) rotate(-90)">
<text x="0.00" y="0.00" font-size="9.6" fill="#333" text-anchor="middle" font-weight="normal" textLength="45.5" lengthAdjust="spacingAndGlyphs" stroke="#333" stroke-width="0.25">ANC (cells/µL)</text>
</g>
<path d="M400.50,94.60 L505.00,94.60" fill="none" stroke="#f2a020" stroke-width="1.3" stroke-linejoin="round"/>
<path d="M488.00,94.60 L505.00,94.60" fill="none" stroke="#3e9e4e" stroke-width="1.3" stroke-linejoin="round"/>
<path d="M400.00,85.80 C400.80,85.00 403.27,80.27 404.80,81.00 C406.33,81.73 408.02,88.07 409.20,90.20 C410.38,92.33 410.77,93.03 411.90,93.80 C413.03,94.57 414.65,94.63 416.00,94.80 C417.35,94.97 419.33,94.80 420.00,94.80" fill="none" stroke="#e8302a" stroke-width="1.3" stroke-linejoin="round"/>
<path d="M400.40,58.50 C400.77,61.43 401.87,75.43 402.60,76.10 C403.33,76.77 404.07,62.05 404.80,62.50 C405.53,62.95 405.97,74.18 407.00,78.80 C408.03,83.42 409.60,87.70 411.00,90.20 C412.40,92.70 414.08,94.08 415.40,93.80 C416.72,93.52 417.43,92.40 418.90,88.50 C420.37,84.60 422.88,71.58 424.20,70.40 C425.52,69.22 426.07,77.50 426.80,81.40 C427.53,85.30 427.73,91.57 428.60,93.80 C429.47,96.03 431.43,94.63 432.00,94.80" fill="none" stroke="#3e9e4e" stroke-width="1.1" stroke-linejoin="round"/>
<path d="M400.80,58.50 C401.25,61.30 402.38,71.63 403.50,75.30 C404.62,78.97 405.82,77.72 407.50,80.50 C409.18,83.28 412.00,89.72 413.60,92.00 C415.20,94.28 416.15,95.97 417.10,94.20 C418.05,92.43 418.42,87.35 419.30,81.40 C420.18,75.45 421.88,62.32 422.40,58.50" fill="none" stroke="#3aaee0" stroke-width="1.1" stroke-linejoin="round"/>
<path d="M427.70,58.50 C428.00,63.50 428.12,82.92 429.50,88.50 C430.88,94.08 434.30,90.95 436.00,92.00 C437.70,93.05 438.70,94.30 439.70,94.80 C440.70,95.30 441.62,94.97 442.00,95.00" fill="none" stroke="#3aaee0" stroke-width="1.1" stroke-linejoin="round"/>
<path d="M400.60,43.50 C400.77,44.25 401.30,46.47 401.60,48.00 C401.90,49.53 402.27,51.92 402.40,52.70" fill="none" stroke="#3aaee0" stroke-width="1.1" stroke-linejoin="round"/>
<line x1="424.60" y1="53.20" x2="427.00" y2="53.20" stroke="#3aaee0" stroke-width="1" />
<path d="M421.50,95.10 C422.38,94.58 425.18,94.28 426.80,92.00 C428.42,89.72 429.35,84.65 431.20,81.40 C433.05,78.15 436.05,73.33 437.90,72.50 C439.75,71.67 439.22,75.40 442.30,76.40 C445.38,77.40 450.82,77.48 456.40,78.50 C461.98,79.52 469.20,81.68 475.80,82.50 C482.40,83.32 491.75,82.52 496.00,83.40 C500.25,84.28 500.42,87.07 501.30,87.80" fill="none" stroke="#d8287c" stroke-width="1.2" stroke-linejoin="round"/>
<path d="M400.10,32.50 L404.40,45.90 L408.75,52.60" fill="none" stroke="#6a2b6e" stroke-width="1.1" stroke-linejoin="round"/>
<path d="M409.20,58.50 C409.93,62.62 412.28,78.20 413.60,83.20 C414.92,88.20 415.78,87.25 417.10,88.50 C418.42,89.75 420.18,92.03 421.50,90.70 C422.82,89.37 423.60,83.88 425.00,80.50 C426.40,77.12 429.08,72.08 429.90,70.40" fill="none" stroke="#6a2b6e" stroke-width="1.1" stroke-linejoin="round"/>
<path d="M429.90,70.40 L448.50,95.40" fill="none" stroke="#6a2b6e" stroke-width="1.1" stroke-linejoin="round"/>
<line x1="400.30" y1="116.20" x2="400.30" y2="137.30" stroke="#231f20" stroke-width="1.2" />
<line x1="400.30" y1="142.60" x2="400.30" y2="187.30" stroke="#231f20" stroke-width="1.2" />
<line x1="397.90" y1="137.30" x2="402.70" y2="137.30" stroke="#231f20" stroke-width="1.5" />
<line x1="397.90" y1="142.60" x2="402.70" y2="142.60" stroke="#231f20" stroke-width="1.5" />
<line x1="397.00" y1="123.20" x2="400.30" y2="123.20" stroke="#231f20" stroke-width="1" />
<text x="393.30" y="126.00" font-size="8.2" fill="#333" text-anchor="end" font-weight="normal" transform="translate(393.3 0) scale(0.84 1) translate(-393.3 0)">500,000</text>
<line x1="397.00" y1="132.90" x2="400.30" y2="132.90" stroke="#231f20" stroke-width="1" />
<text x="393.30" y="135.70" font-size="8.2" fill="#333" text-anchor="end" font-weight="normal" transform="translate(393.3 0) scale(0.84 1) translate(-393.3 0)">300,000</text>
<line x1="397.00" y1="142.60" x2="400.30" y2="142.60" stroke="#231f20" stroke-width="1" />
<text x="393.30" y="145.40" font-size="8.2" fill="#333" text-anchor="end" font-weight="normal" transform="translate(393.3 0) scale(0.84 1) translate(-393.3 0)">200,000</text>
<line x1="397.00" y1="165.30" x2="400.30" y2="165.30" stroke="#231f20" stroke-width="1" />
<text x="393.30" y="168.10" font-size="8.2" fill="#333" text-anchor="end" font-weight="normal" transform="translate(393.3 0) scale(0.84 1) translate(-393.3 0)">100,000</text>
<line x1="397.00" y1="187.10" x2="400.30" y2="187.10" stroke="#231f20" stroke-width="1" />
<text x="393.30" y="189.90" font-size="8.2" fill="#333" text-anchor="end" font-weight="normal" transform="translate(393.3 0) scale(0.84 1) translate(-393.3 0)">0</text>
<line x1="398.50" y1="154.00" x2="400.30" y2="154.00" stroke="#231f20" stroke-width="0.8" />
<line x1="398.50" y1="176.20" x2="400.30" y2="176.20" stroke="#231f20" stroke-width="0.8" />
<line x1="400.30" y1="187.10" x2="505.00" y2="187.10" stroke="#231f20" stroke-width="1.2" />
<line x1="402.20" y1="187.10" x2="402.20" y2="189.70" stroke="#231f20" stroke-width="0.8" />
<line x1="407.75" y1="187.10" x2="407.75" y2="188.70" stroke="#231f20" stroke-width="0.8" />
<line x1="413.31" y1="187.10" x2="413.31" y2="188.70" stroke="#231f20" stroke-width="0.8" />
<line x1="418.86" y1="187.10" x2="418.86" y2="188.70" stroke="#231f20" stroke-width="0.8" />
<line x1="424.42" y1="187.10" x2="424.42" y2="188.70" stroke="#231f20" stroke-width="0.8" />
<line x1="429.97" y1="187.10" x2="429.97" y2="189.70" stroke="#231f20" stroke-width="0.8" />
<line x1="435.52" y1="187.10" x2="435.52" y2="188.70" stroke="#231f20" stroke-width="0.8" />
<line x1="441.08" y1="187.10" x2="441.08" y2="188.70" stroke="#231f20" stroke-width="0.8" />
<line x1="446.63" y1="187.10" x2="446.63" y2="188.70" stroke="#231f20" stroke-width="0.8" />
<line x1="452.19" y1="187.10" x2="452.19" y2="188.70" stroke="#231f20" stroke-width="0.8" />
<line x1="457.74" y1="187.10" x2="457.74" y2="189.70" stroke="#231f20" stroke-width="0.8" />
<line x1="463.29" y1="187.10" x2="463.29" y2="188.70" stroke="#231f20" stroke-width="0.8" />
<line x1="468.85" y1="187.10" x2="468.85" y2="188.70" stroke="#231f20" stroke-width="0.8" />
<line x1="474.40" y1="187.10" x2="474.40" y2="188.70" stroke="#231f20" stroke-width="0.8" />
<line x1="479.96" y1="187.10" x2="479.96" y2="188.70" stroke="#231f20" stroke-width="0.8" />
<line x1="485.51" y1="187.10" x2="485.51" y2="189.70" stroke="#231f20" stroke-width="0.8" />
<line x1="491.06" y1="187.10" x2="491.06" y2="188.70" stroke="#231f20" stroke-width="0.8" />
<line x1="496.62" y1="187.10" x2="496.62" y2="188.70" stroke="#231f20" stroke-width="0.8" />
<line x1="502.17" y1="187.10" x2="502.17" y2="188.70" stroke="#231f20" stroke-width="0.8" />
<text x="402.20" y="199.90" font-size="8.2" fill="#333" text-anchor="middle" font-weight="normal" transform="translate(402.20 0) scale(0.84 1) translate(-402.20 0)">0</text>
<text x="429.97" y="199.90" font-size="8.2" fill="#333" text-anchor="middle" font-weight="normal" transform="translate(429.97 0) scale(0.84 1) translate(-429.97 0)">10</text>
<text x="457.74" y="199.90" font-size="8.2" fill="#333" text-anchor="middle" font-weight="normal" transform="translate(457.74 0) scale(0.84 1) translate(-457.74 0)">20</text>
<text x="485.51" y="199.90" font-size="8.2" fill="#333" text-anchor="middle" font-weight="normal" transform="translate(485.51 0) scale(0.84 1) translate(-485.51 0)">30</text>
<line x1="402.00" y1="126.10" x2="500.60" y2="126.10" stroke="#231f20" stroke-width="1.1" stroke-dasharray="1.1 2.1"/>
<line x1="402.00" y1="154.10" x2="500.60" y2="154.10" stroke="#231f20" stroke-width="1.1" stroke-dasharray="1.1 2.1"/>
<g transform="translate(363.8,153) rotate(-90)">
<text x="0.00" y="0.00" font-size="9.6" fill="#333" text-anchor="middle" font-weight="normal" textLength="62.4" lengthAdjust="spacingAndGlyphs" stroke="#333" stroke-width="0.25">Platelets (cells/µL)</text>
</g>
<text x="423.20" y="212.80" font-size="9.8" fill="#333" text-anchor="start" font-weight="normal" textLength="58.1" lengthAdjust="spacingAndGlyphs" stroke="#333" stroke-width="0.2">Days post infusion</text>
<path d="M399.80,184.80 C401.07,184.70 404.88,184.67 407.40,184.20 C409.92,183.73 412.93,182.18 414.90,182.00 C416.87,181.82 416.52,182.63 419.20,183.10 C421.88,183.57 425.87,184.40 431.00,184.80 C436.13,185.20 437.67,185.30 450.00,185.50 C462.33,185.70 495.83,185.92 505.00,186.00" fill="none" stroke="#f2a020" stroke-width="1.1" stroke-linejoin="round"/>
<path d="M399.80,160.00 C400.17,161.00 401.22,163.58 402.00,166.00 C402.78,168.42 403.67,172.67 404.50,174.50 C405.33,176.33 406.17,175.92 407.00,177.00 C407.83,178.08 408.50,179.78 409.50,181.00 C410.50,182.22 411.25,183.55 413.00,184.30 C414.75,185.05 418.00,185.52 420.00,185.50 C422.00,185.48 423.17,184.52 425.00,184.20 C426.83,183.88 429.00,183.47 431.00,183.60 C433.00,183.73 434.50,184.77 437.00,185.00 C439.50,185.23 442.17,184.92 446.00,185.00 C449.83,185.08 456.83,185.58 460.00,185.50 C463.17,185.42 463.97,185.17 465.00,184.50 C466.03,183.83 465.70,181.38 466.20,181.50 C466.70,181.62 461.53,184.48 468.00,185.20 C474.47,185.92 498.83,185.70 505.00,185.80" fill="none" stroke="#3e9e4e" stroke-width="1.1" stroke-linejoin="round"/>
<path d="M399.80,159.50 C401.23,160.63 406.13,165.05 408.40,166.30 C410.67,167.55 411.78,166.17 413.40,167.00 C415.02,167.83 415.70,170.05 418.10,171.30 C420.50,172.55 425.65,174.15 427.80,174.50 C429.95,174.85 429.43,172.32 431.00,173.40 C432.57,174.48 435.08,180.03 437.20,181.00 C439.32,181.97 441.18,179.03 443.70,179.20 C446.22,179.37 449.08,181.17 452.30,182.00 C455.52,182.83 458.38,183.95 463.00,184.20 C467.62,184.45 474.62,183.75 480.00,183.50 C485.38,183.25 491.68,182.58 495.30,182.70 C498.92,182.82 500.63,183.95 501.70,184.20" fill="none" stroke="#d8287c" stroke-width="1.1" stroke-linejoin="round"/>
<path d="M399.80,142.30 C400.33,143.73 401.20,147.87 403.00,150.90 C404.80,153.93 408.80,159.62 410.60,160.50 C412.40,161.38 412.55,156.92 413.80,156.20 C415.05,155.48 416.67,157.08 418.10,156.20 C419.53,155.32 420.83,151.27 422.40,150.90 C423.97,150.53 425.40,150.25 427.50,154.00 C429.60,157.75 432.85,169.62 435.00,173.40 C437.15,177.18 438.60,175.43 440.40,176.70 C442.20,177.97 443.47,179.93 445.80,181.00 C448.13,182.07 451.53,182.38 454.40,183.10 C457.27,183.82 454.57,184.85 463.00,185.30 C471.43,185.75 498.00,185.72 505.00,185.80" fill="none" stroke="#3aaee0" stroke-width="1.1" stroke-linejoin="round"/>
<path d="M399.80,128.30 C400.33,129.00 401.73,131.33 403.00,132.50 C404.27,133.67 405.90,134.92 407.40,135.30 C408.90,135.68 410.40,135.18 412.00,134.80 C413.60,134.42 415.17,133.52 417.00,133.00 C418.83,132.48 421.33,131.83 423.00,131.70 C424.67,131.57 425.83,131.73 427.00,132.20 C428.17,132.67 429.17,133.70 430.00,134.50 C430.83,135.30 431.67,136.58 432.00,137.00" fill="none" stroke="#6a2b6e" stroke-width="1.1" stroke-linejoin="round"/>
<path d="M434.00,143.30 C435.67,147.43 441.67,162.72 444.00,168.10 C446.33,173.48 445.90,173.28 448.00,175.60 C450.10,177.92 453.73,180.47 456.60,182.00 C459.47,183.53 461.30,184.22 465.20,184.80 C469.10,185.38 473.37,185.33 480.00,185.50 C486.63,185.67 500.83,185.75 505.00,185.80" fill="none" stroke="#6a2b6e" stroke-width="1.1" stroke-linejoin="round"/>
<text x="356.00" y="235.30" font-size="11.5" fill="#000" text-anchor="start" font-weight="bold" >D</text>
<g transform="translate(373.3,280.4) rotate(-90)">
<text x="0.00" y="0.00" font-size="7.2" fill="#6cc06c" text-anchor="middle" font-weight="normal" textLength="27.4" lengthAdjust="spacingAndGlyphs" >Patient 4</text>
</g>
<g transform="translate(374.3,367.3) rotate(-90)">
<text x="0.00" y="0.00" font-size="7.2" fill="#6a3a62" text-anchor="middle" font-weight="normal" textLength="27.9" lengthAdjust="spacingAndGlyphs" >Patient 5</text>
</g>
<clipPath id="cp4"><rect x="378.2" y="242.4" width="134.4" height="75.8"/></clipPath>
<g clip-path="url(#cp4)">
<filter id="bl4" x="-5%" y="-5%" width="110%" height="110%"><feGaussianBlur stdDeviation="0.4"/></filter>
<g filter="url(#bl4)">
<rect x="376.20" y="240.40" width="138.40" height="79.80" fill="#d5d3d6" stroke="none" stroke-width="0" />
<circle cx="464.1" cy="244.3" r="0.47" fill="#a88aa4"/><circle cx="397.0" cy="250.2" r="0.68" fill="#b49ab0"/><circle cx="457.6" cy="244.8" r="0.39" fill="#a88aa4"/><circle cx="446.1" cy="244.4" r="0.44" fill="#e0c0d4"/><circle cx="407.8" cy="287.1" r="0.71" fill="#b49ab0"/><circle cx="480.2" cy="254.5" r="0.54" fill="#c4aac0"/><circle cx="399.1" cy="315.0" r="0.50" fill="#b49ab0"/><circle cx="429.3" cy="269.6" r="0.50" fill="#c4aac0"/><circle cx="486.7" cy="297.7" r="0.59" fill="#e0c0d4"/><circle cx="388.8" cy="264.6" r="0.63" fill="#c4aac0"/><circle cx="455.8" cy="295.8" r="0.37" fill="#a88aa4"/><circle cx="482.1" cy="317.1" r="0.73" fill="#b49ab0"/><circle cx="429.3" cy="276.8" r="0.73" fill="#a88aa4"/><circle cx="428.0" cy="258.3" r="0.47" fill="#b49ab0"/><circle cx="460.1" cy="255.4" r="0.68" fill="#a88aa4"/><circle cx="440.3" cy="262.9" r="0.77" fill="#a88aa4"/><circle cx="470.2" cy="306.3" r="0.70" fill="#a88aa4"/><circle cx="488.7" cy="303.4" r="0.53" fill="#b49ab0"/><circle cx="406.6" cy="313.9" r="0.74" fill="#c4aac0"/><circle cx="406.8" cy="280.2" r="0.75" fill="#e0c0d4"/><circle cx="397.4" cy="253.0" r="0.69" fill="#c4aac0"/><circle cx="478.6" cy="274.9" r="0.61" fill="#c4aac0"/><circle cx="407.7" cy="318.0" r="0.58" fill="#b49ab0"/><circle cx="479.8" cy="307.7" r="0.42" fill="#a88aa4"/><circle cx="484.7" cy="274.4" r="0.38" fill="#e0c0d4"/><circle cx="458.3" cy="277.9" r="0.46" fill="#b49ab0"/><circle cx="469.6" cy="251.1" r="0.75" fill="#c4aac0"/><circle cx="481.5" cy="268.2" r="0.48" fill="#a88aa4"/><circle cx="439.2" cy="314.7" r="0.74" fill="#c4aac0"/><circle cx="508.8" cy="300.2" r="0.58" fill="#b49ab0"/><circle cx="495.2" cy="265.0" r="0.64" fill="#a88aa4"/><circle cx="398.7" cy="300.2" r="0.59" fill="#b49ab0"/><circle cx="458.7" cy="279.4" r="0.40" fill="#c4aac0"/><circle cx="496.3" cy="305.4" r="0.49" fill="#b49ab0"/><circle cx="410.6" cy="285.4" r="0.39" fill="#e0c0d4"/><circle cx="487.9" cy="316.5" r="0.59" fill="#a88aa4"/><circle cx="395.5" cy="278.4" r="0.60" fill="#c4aac0"/><circle cx="449.1" cy="288.4" r="0.78" fill="#a88aa4"/><circle cx="474.0" cy="272.6" r="0.65" fill="#c4aac0"/><circle cx="437.1" cy="281.6" r="0.40" fill="#a88aa4"/><circle cx="386.8" cy="244.0" r="0.60" fill="#a88aa4"/><circle cx="379.2" cy="296.1" r="0.38" fill="#b49ab0"/><circle cx="499.9" cy="307.6" r="0.38" fill="#a88aa4"/><circle cx="415.6" cy="279.2" r="0.59" fill="#e0c0d4"/><circle cx="410.9" cy="278.3" r="0.53" fill="#b49ab0"/><circle cx="391.2" cy="275.1" r="0.54" fill="#e0c0d4"/><circle cx="494.3" cy="246.5" r="0.64" fill="#b49ab0"/><circle cx="386.3" cy="297.6" r="0.71" fill="#b49ab0"/><circle cx="411.6" cy="256.8" r="0.55" fill="#e0c0d4"/><circle cx="402.9" cy="277.5" r="0.74" fill="#b49ab0"/><circle cx="437.8" cy="307.7" r="0.60" fill="#b49ab0"/><circle cx="465.8" cy="283.4" r="0.36" fill="#b49ab0"/><circle cx="502.7" cy="306.7" r="0.42" fill="#e0c0d4"/><circle cx="442.9" cy="307.9" r="0.76" fill="#a88aa4"/><circle cx="429.1" cy="317.1" r="0.47" fill="#e0c0d4"/><circle cx="416.5" cy="295.2" r="0.68" fill="#e0c0d4"/><circle cx="399.0" cy="264.9" r="0.79" fill="#b49ab0"/><circle cx="478.7" cy="246.7" r="0.61" fill="#a88aa4"/><circle cx="385.8" cy="280.9" r="0.73" fill="#b49ab0"/><circle cx="458.2" cy="293.6" r="0.46" fill="#b49ab0"/><circle cx="504.8" cy="285.6" r="0.61" fill="#b49ab0"/><circle cx="461.4" cy="274.2" r="0.61" fill="#c4aac0"/><circle cx="503.8" cy="257.9" r="0.67" fill="#a88aa4"/><circle cx="413.9" cy="252.3" r="0.64" fill="#e0c0d4"/><circle cx="420.7" cy="299.4" r="0.38" fill="#e0c0d4"/><circle cx="461.7" cy="285.1" r="0.39" fill="#a88aa4"/><circle cx="446.2" cy="252.4" r="0.51" fill="#b49ab0"/><circle cx="496.4" cy="270.4" r="0.42" fill="#c4aac0"/><circle cx="460.4" cy="317.2" r="0.64" fill="#b49ab0"/><circle cx="468.0" cy="284.4" r="0.77" fill="#b49ab0"/><circle cx="504.4" cy="252.6" r="0.40" fill="#b49ab0"/><circle cx="478.0" cy="254.2" r="0.48" fill="#a88aa4"/><circle cx="474.6" cy="257.8" r="0.64" fill="#c4aac0"/><circle cx="446.1" cy="261.4" r="0.76" fill="#b49ab0"/><circle cx="390.6" cy="274.5" r="0.47" fill="#b49ab0"/><circle cx="423.0" cy="252.3" r="0.79" fill="#a88aa4"/><circle cx="477.8" cy="284.2" r="0.54" fill="#b49ab0"/><circle cx="393.2" cy="314.0" r="0.66" fill="#a88aa4"/><circle cx="451.5" cy="305.7" r="0.61" fill="#a88aa4"/><circle cx="436.0" cy="245.6" r="0.51" fill="#b49ab0"/><circle cx="499.0" cy="258.3" r="0.46" fill="#b49ab0"/><circle cx="425.7" cy="284.8" r="0.74" fill="#a88aa4"/><circle cx="502.6" cy="260.3" r="0.42" fill="#a88aa4"/><circle cx="496.7" cy="244.3" r="0.68" fill="#c4aac0"/><circle cx="483.4" cy="273.6" r="0.65" fill="#a88aa4"/><circle cx="414.1" cy="302.1" r="0.40" fill="#b49ab0"/><circle cx="493.6" cy="259.3" r="0.72" fill="#e0c0d4"/><circle cx="425.2" cy="304.6" r="0.74" fill="#a88aa4"/><circle cx="381.4" cy="257.0" r="0.50" fill="#b49ab0"/><circle cx="508.1" cy="263.6" r="0.64" fill="#e0c0d4"/><circle cx="469.5" cy="306.3" r="0.50" fill="#b49ab0"/><circle cx="393.7" cy="316.0" r="0.43" fill="#c4aac0"/><circle cx="383.3" cy="287.6" r="0.51" fill="#c4aac0"/><circle cx="436.9" cy="317.0" r="0.40" fill="#a88aa4"/><circle cx="412.4" cy="296.1" r="0.35" fill="#a88aa4"/><circle cx="427.2" cy="247.7" r="0.65" fill="#c4aac0"/><circle cx="462.0" cy="292.7" r="0.41" fill="#c4aac0"/><circle cx="446.4" cy="293.0" r="0.50" fill="#c4aac0"/><circle cx="452.7" cy="256.9" r="0.65" fill="#e0c0d4"/><circle cx="469.2" cy="310.8" r="0.63" fill="#c4aac0"/><circle cx="432.8" cy="305.6" r="0.49" fill="#a88aa4"/><circle cx="436.0" cy="286.4" r="0.64" fill="#e0c0d4"/><circle cx="437.6" cy="293.6" r="0.58" fill="#a88aa4"/><circle cx="466.7" cy="263.9" r="0.65" fill="#c4aac0"/><circle cx="390.8" cy="314.6" r="0.46" fill="#c4aac0"/><circle cx="408.4" cy="257.5" r="0.36" fill="#a88aa4"/><circle cx="510.4" cy="288.7" r="0.70" fill="#e0c0d4"/><circle cx="433.9" cy="290.1" r="0.44" fill="#e0c0d4"/><circle cx="444.6" cy="260.9" r="0.65" fill="#b49ab0"/><circle cx="498.2" cy="307.6" r="0.75" fill="#e0c0d4"/><line x1="407.6" y1="303.4" x2="406.3" y2="303.2" stroke="#a48aa0" stroke-width="0.55"/><line x1="407.6" y1="303.4" x2="408.9" y2="302.6" stroke="#a48aa0" stroke-width="0.55"/><line x1="407.6" y1="303.4" x2="408.4" y2="300.9" stroke="#9c7c98" stroke-width="0.55"/><line x1="458.2" y1="314.4" x2="456.2" y2="312.7" stroke="#9c7c98" stroke-width="0.55"/><line x1="458.2" y1="314.4" x2="455.5" y2="315.8" stroke="#b89cb2" stroke-width="0.55"/><line x1="498.8" y1="298.8" x2="496.2" y2="299.6" stroke="#9c7c98" stroke-width="0.55"/><line x1="498.8" y1="298.8" x2="498.3" y2="301.5" stroke="#b89cb2" stroke-width="0.55"/><line x1="462.4" y1="263.2" x2="462.1" y2="261.6" stroke="#b89cb2" stroke-width="0.55"/><line x1="421.2" y1="283.3" x2="422.3" y2="284.9" stroke="#a48aa0" stroke-width="0.55"/><line x1="473.1" y1="247.3" x2="472.1" y2="249.1" stroke="#a48aa0" stroke-width="0.55"/><line x1="473.1" y1="247.3" x2="473.7" y2="249.2" stroke="#9c7c98" stroke-width="0.55"/><line x1="505.4" y1="243.9" x2="504.5" y2="244.7" stroke="#b89cb2" stroke-width="0.55"/><line x1="505.4" y1="243.9" x2="504.8" y2="245.8" stroke="#b89cb2" stroke-width="0.55"/><line x1="505.4" y1="243.9" x2="502.8" y2="243.3" stroke="#9c7c98" stroke-width="0.55"/><line x1="498.9" y1="279.4" x2="497.7" y2="279.9" stroke="#b89cb2" stroke-width="0.55"/><line x1="498.9" y1="279.4" x2="497.5" y2="277.0" stroke="#9c7c98" stroke-width="0.55"/><line x1="400.4" y1="277.8" x2="402.6" y2="277.5" stroke="#b89cb2" stroke-width="0.55"/><line x1="457.8" y1="292.7" x2="456.8" y2="291.5" stroke="#b89cb2" stroke-width="0.55"/><line x1="402.6" y1="262.1" x2="403.1" y2="263.9" stroke="#b89cb2" stroke-width="0.55"/><line x1="402.6" y1="262.1" x2="402.1" y2="265.2" stroke="#b89cb2" stroke-width="0.55"/><line x1="412.1" y1="248.6" x2="412.1" y2="247.3" stroke="#b89cb2" stroke-width="0.55"/><line x1="408.3" y1="247.6" x2="409.6" y2="247.9" stroke="#a48aa0" stroke-width="0.55"/><line x1="408.3" y1="247.6" x2="408.7" y2="248.8" stroke="#a48aa0" stroke-width="0.55"/><line x1="408.3" y1="247.6" x2="408.5" y2="249.7" stroke="#a48aa0" stroke-width="0.55"/><line x1="454.0" y1="258.9" x2="453.9" y2="260.9" stroke="#9c7c98" stroke-width="0.55"/><line x1="454.0" y1="258.9" x2="451.9" y2="257.2" stroke="#a48aa0" stroke-width="0.55"/><line x1="454.0" y1="258.9" x2="454.3" y2="257.4" stroke="#b89cb2" stroke-width="0.55"/><line x1="392.7" y1="244.3" x2="390.0" y2="243.0" stroke="#b89cb2" stroke-width="0.55"/><line x1="392.7" y1="244.3" x2="390.6" y2="245.9" stroke="#a48aa0" stroke-width="0.55"/><line x1="457.8" y1="305.4" x2="460.0" y2="307.0" stroke="#9c7c98" stroke-width="0.55"/><line x1="458.9" y1="251.6" x2="459.3" y2="249.7" stroke="#b89cb2" stroke-width="0.55"/><line x1="458.9" y1="251.6" x2="458.2" y2="250.4" stroke="#9c7c98" stroke-width="0.55"/><line x1="458.9" y1="251.6" x2="457.3" y2="254.0" stroke="#b89cb2" stroke-width="0.55"/><line x1="392.4" y1="315.2" x2="394.0" y2="313.9" stroke="#a48aa0" stroke-width="0.55"/><line x1="392.4" y1="315.2" x2="389.9" y2="316.3" stroke="#9c7c98" stroke-width="0.55"/><line x1="392.4" y1="315.2" x2="392.0" y2="318.0" stroke="#9c7c98" stroke-width="0.55"/><line x1="482.3" y1="277.6" x2="480.8" y2="276.6" stroke="#a48aa0" stroke-width="0.55"/><line x1="482.3" y1="277.6" x2="483.0" y2="276.4" stroke="#b89cb2" stroke-width="0.55"/><line x1="482.3" y1="277.6" x2="482.4" y2="279.8" stroke="#9c7c98" stroke-width="0.55"/><line x1="468.0" y1="267.9" x2="468.9" y2="266.6" stroke="#a48aa0" stroke-width="0.55"/><line x1="468.0" y1="267.9" x2="467.0" y2="269.3" stroke="#b89cb2" stroke-width="0.55"/><line x1="496.5" y1="295.5" x2="494.4" y2="294.8" stroke="#a48aa0" stroke-width="0.55"/><line x1="496.5" y1="295.5" x2="498.8" y2="296.9" stroke="#b89cb2" stroke-width="0.55"/><line x1="452.8" y1="260.6" x2="451.5" y2="258.9" stroke="#a48aa0" stroke-width="0.55"/><line x1="452.8" y1="260.6" x2="454.2" y2="261.5" stroke="#9c7c98" stroke-width="0.55"/><line x1="410.9" y1="292.7" x2="408.7" y2="293.1" stroke="#b89cb2" stroke-width="0.55"/><line x1="410.9" y1="292.7" x2="413.2" y2="292.7" stroke="#b89cb2" stroke-width="0.55"/><line x1="472.7" y1="262.9" x2="473.0" y2="265.6" stroke="#b89cb2" stroke-width="0.55"/><line x1="472.7" y1="262.9" x2="474.3" y2="264.5" stroke="#9c7c98" stroke-width="0.55"/><line x1="403.1" y1="258.8" x2="402.7" y2="261.1" stroke="#9c7c98" stroke-width="0.55"/><line x1="403.1" y1="258.8" x2="400.5" y2="257.0" stroke="#a48aa0" stroke-width="0.55"/><line x1="418.0" y1="269.8" x2="420.3" y2="270.0" stroke="#b89cb2" stroke-width="0.55"/><line x1="418.0" y1="269.8" x2="419.3" y2="270.1" stroke="#b89cb2" stroke-width="0.55"/><line x1="471.9" y1="252.0" x2="472.9" y2="252.7" stroke="#b89cb2" stroke-width="0.55"/><line x1="471.9" y1="252.0" x2="469.9" y2="252.4" stroke="#a48aa0" stroke-width="0.55"/><line x1="508.0" y1="261.5" x2="509.0" y2="262.4" stroke="#b89cb2" stroke-width="0.55"/><line x1="508.0" y1="261.5" x2="510.2" y2="262.6" stroke="#a48aa0" stroke-width="0.55"/><line x1="398.6" y1="303.9" x2="400.1" y2="304.7" stroke="#9c7c98" stroke-width="0.55"/><line x1="398.6" y1="303.9" x2="398.8" y2="301.5" stroke="#9c7c98" stroke-width="0.55"/><line x1="408.5" y1="282.0" x2="410.0" y2="281.0" stroke="#9c7c98" stroke-width="0.55"/><line x1="408.5" y1="282.0" x2="410.3" y2="281.9" stroke="#9c7c98" stroke-width="0.55"/><line x1="386.3" y1="315.2" x2="387.8" y2="314.6" stroke="#a48aa0" stroke-width="0.55"/><line x1="413.8" y1="248.6" x2="414.4" y2="249.8" stroke="#a48aa0" stroke-width="0.55"/><line x1="433.1" y1="294.7" x2="432.7" y2="296.3" stroke="#9c7c98" stroke-width="0.55"/><line x1="433.1" y1="294.7" x2="432.5" y2="297.5" stroke="#a48aa0" stroke-width="0.55"/><line x1="470.6" y1="312.4" x2="468.2" y2="310.9" stroke="#a48aa0" stroke-width="0.55"/><line x1="470.6" y1="312.4" x2="468.5" y2="313.5" stroke="#9c7c98" stroke-width="0.55"/><line x1="470.6" y1="312.4" x2="471.6" y2="313.8" stroke="#a48aa0" stroke-width="0.55"/><line x1="387.8" y1="255.0" x2="385.4" y2="253.4" stroke="#b89cb2" stroke-width="0.55"/><line x1="387.8" y1="255.0" x2="385.8" y2="255.8" stroke="#b89cb2" stroke-width="0.55"/><line x1="472.2" y1="313.9" x2="470.2" y2="313.3" stroke="#9c7c98" stroke-width="0.55"/><line x1="472.2" y1="313.9" x2="474.2" y2="314.4" stroke="#b89cb2" stroke-width="0.55"/><line x1="472.2" y1="313.9" x2="471.2" y2="313.1" stroke="#a48aa0" stroke-width="0.55"/><line x1="507.5" y1="305.8" x2="506.4" y2="305.1" stroke="#9c7c98" stroke-width="0.55"/><line x1="507.5" y1="305.8" x2="508.5" y2="303.6" stroke="#a48aa0" stroke-width="0.55"/><line x1="507.5" y1="305.8" x2="505.0" y2="306.2" stroke="#b89cb2" stroke-width="0.55"/><line x1="402.6" y1="286.8" x2="403.8" y2="283.9" stroke="#b89cb2" stroke-width="0.55"/><line x1="402.6" y1="286.8" x2="401.5" y2="288.3" stroke="#9c7c98" stroke-width="0.55"/><line x1="402.6" y1="286.8" x2="403.8" y2="287.7" stroke="#b89cb2" stroke-width="0.55"/><line x1="471.4" y1="264.2" x2="472.3" y2="262.1" stroke="#b89cb2" stroke-width="0.55"/><line x1="471.4" y1="264.2" x2="472.9" y2="265.1" stroke="#a48aa0" stroke-width="0.55"/><line x1="508.6" y1="273.0" x2="509.1" y2="272.0" stroke="#9c7c98" stroke-width="0.55"/><line x1="508.6" y1="273.0" x2="507.3" y2="273.3" stroke="#9c7c98" stroke-width="0.55"/><line x1="508.6" y1="273.0" x2="506.8" y2="275.1" stroke="#9c7c98" stroke-width="0.55"/><line x1="437.6" y1="246.3" x2="434.7" y2="245.4" stroke="#b89cb2" stroke-width="0.55"/><line x1="437.6" y1="246.3" x2="439.2" y2="244.8" stroke="#a48aa0" stroke-width="0.55"/><line x1="509.0" y1="288.6" x2="508.5" y2="286.8" stroke="#a48aa0" stroke-width="0.55"/><line x1="452.4" y1="249.5" x2="451.0" y2="249.8" stroke="#a48aa0" stroke-width="0.55"/><line x1="445.2" y1="296.7" x2="444.6" y2="294.8" stroke="#b89cb2" stroke-width="0.55"/><line x1="445.2" y1="296.7" x2="446.9" y2="296.5" stroke="#9c7c98" stroke-width="0.55"/><line x1="445.2" y1="296.7" x2="446.2" y2="298.0" stroke="#9c7c98" stroke-width="0.55"/><line x1="446.5" y1="309.1" x2="446.1" y2="311.8" stroke="#b89cb2" stroke-width="0.55"/><line x1="423.9" y1="302.1" x2="424.6" y2="300.5" stroke="#b89cb2" stroke-width="0.55"/><line x1="423.9" y1="302.1" x2="425.1" y2="300.1" stroke="#9c7c98" stroke-width="0.55"/><line x1="444.0" y1="253.7" x2="442.2" y2="253.8" stroke="#9c7c98" stroke-width="0.55"/><line x1="444.0" y1="253.7" x2="441.8" y2="255.8" stroke="#a48aa0" stroke-width="0.55"/><line x1="444.0" y1="253.7" x2="445.7" y2="253.5" stroke="#b89cb2" stroke-width="0.55"/><line x1="409.6" y1="301.2" x2="408.7" y2="303.1" stroke="#b89cb2" stroke-width="0.55"/><line x1="430.1" y1="292.7" x2="432.3" y2="292.4" stroke="#a48aa0" stroke-width="0.55"/><line x1="430.1" y1="292.7" x2="432.3" y2="294.9" stroke="#b89cb2" stroke-width="0.55"/><line x1="430.1" y1="292.7" x2="432.1" y2="290.5" stroke="#b89cb2" stroke-width="0.55"/><line x1="391.6" y1="311.4" x2="391.2" y2="309.4" stroke="#9c7c98" stroke-width="0.55"/><line x1="508.6" y1="248.1" x2="507.2" y2="250.3" stroke="#9c7c98" stroke-width="0.55"/><line x1="508.6" y1="248.1" x2="510.2" y2="249.0" stroke="#9c7c98" stroke-width="0.55"/><line x1="493.7" y1="271.2" x2="491.6" y2="269.1" stroke="#b89cb2" stroke-width="0.55"/><line x1="493.7" y1="271.2" x2="494.6" y2="270.3" stroke="#a48aa0" stroke-width="0.55"/><line x1="409.8" y1="294.3" x2="412.4" y2="294.2" stroke="#b89cb2" stroke-width="0.55"/><line x1="409.8" y1="294.3" x2="412.4" y2="293.9" stroke="#9c7c98" stroke-width="0.55"/><line x1="495.5" y1="276.0" x2="495.1" y2="277.2" stroke="#b89cb2" stroke-width="0.55"/><line x1="495.5" y1="276.0" x2="496.0" y2="274.3" stroke="#b89cb2" stroke-width="0.55"/><line x1="495.5" y1="276.0" x2="493.9" y2="276.7" stroke="#b89cb2" stroke-width="0.55"/><line x1="454.3" y1="302.5" x2="455.4" y2="304.6" stroke="#b89cb2" stroke-width="0.55"/><line x1="461.5" y1="260.7" x2="462.8" y2="262.3" stroke="#b89cb2" stroke-width="0.55"/><line x1="461.5" y1="260.7" x2="459.0" y2="261.3" stroke="#b89cb2" stroke-width="0.55"/><line x1="461.5" y1="260.7" x2="463.6" y2="259.2" stroke="#a48aa0" stroke-width="0.55"/><line x1="388.1" y1="314.0" x2="387.2" y2="317.0" stroke="#9c7c98" stroke-width="0.55"/><line x1="388.1" y1="314.0" x2="388.1" y2="316.9" stroke="#a48aa0" stroke-width="0.55"/><line x1="388.1" y1="314.0" x2="391.0" y2="314.0" stroke="#a48aa0" stroke-width="0.55"/><line x1="410.1" y1="285.8" x2="409.3" y2="288.2" stroke="#a48aa0" stroke-width="0.55"/><line x1="410.1" y1="285.8" x2="412.6" y2="285.4" stroke="#b89cb2" stroke-width="0.55"/><line x1="410.1" y1="285.8" x2="413.0" y2="285.9" stroke="#9c7c98" stroke-width="0.55"/><line x1="509.1" y1="311.4" x2="506.0" y2="311.5" stroke="#b89cb2" stroke-width="0.55"/><line x1="509.1" y1="311.4" x2="509.3" y2="309.8" stroke="#b89cb2" stroke-width="0.55"/><line x1="509.1" y1="311.4" x2="509.4" y2="313.0" stroke="#b89cb2" stroke-width="0.55"/><line x1="469.3" y1="297.0" x2="468.7" y2="295.7" stroke="#a48aa0" stroke-width="0.55"/><line x1="469.3" y1="297.0" x2="471.3" y2="295.6" stroke="#b89cb2" stroke-width="0.55"/><line x1="469.3" y1="297.0" x2="469.6" y2="295.8" stroke="#b89cb2" stroke-width="0.55"/><line x1="476.6" y1="249.2" x2="475.7" y2="251.0" stroke="#a48aa0" stroke-width="0.55"/><line x1="476.6" y1="249.2" x2="478.2" y2="250.9" stroke="#b89cb2" stroke-width="0.55"/><line x1="449.5" y1="311.6" x2="449.4" y2="314.5" stroke="#b89cb2" stroke-width="0.55"/><line x1="508.2" y1="264.8" x2="508.9" y2="262.8" stroke="#a48aa0" stroke-width="0.55"/><line x1="508.2" y1="264.8" x2="510.2" y2="267.2" stroke="#9c7c98" stroke-width="0.55"/><line x1="475.5" y1="316.7" x2="473.7" y2="318.8" stroke="#a48aa0" stroke-width="0.55"/><line x1="475.5" y1="316.7" x2="475.4" y2="318.1" stroke="#b89cb2" stroke-width="0.55"/><line x1="475.5" y1="316.7" x2="474.3" y2="314.4" stroke="#9c7c98" stroke-width="0.55"/><line x1="429.4" y1="290.8" x2="430.7" y2="291.9" stroke="#a48aa0" stroke-width="0.55"/><line x1="429.4" y1="290.8" x2="427.1" y2="288.7" stroke="#b89cb2" stroke-width="0.55"/><line x1="501.2" y1="259.2" x2="499.8" y2="257.6" stroke="#9c7c98" stroke-width="0.55"/><line x1="418.8" y1="273.3" x2="420.0" y2="273.7" stroke="#b89cb2" stroke-width="0.55"/><line x1="393.8" y1="260.2" x2="395.2" y2="261.8" stroke="#9c7c98" stroke-width="0.55"/><line x1="393.8" y1="260.2" x2="396.3" y2="259.4" stroke="#9c7c98" stroke-width="0.55"/><line x1="393.8" y1="260.2" x2="391.5" y2="261.5" stroke="#a48aa0" stroke-width="0.55"/><line x1="497.2" y1="292.0" x2="494.9" y2="290.0" stroke="#b89cb2" stroke-width="0.55"/><line x1="497.2" y1="292.0" x2="499.1" y2="292.4" stroke="#b89cb2" stroke-width="0.55"/><line x1="438.0" y1="260.3" x2="440.1" y2="261.8" stroke="#9c7c98" stroke-width="0.55"/><line x1="438.0" y1="260.3" x2="440.0" y2="258.8" stroke="#a48aa0" stroke-width="0.55"/><line x1="431.7" y1="256.8" x2="434.4" y2="255.9" stroke="#a48aa0" stroke-width="0.55"/><line x1="467.3" y1="291.0" x2="468.6" y2="290.8" stroke="#b89cb2" stroke-width="0.55"/><line x1="467.3" y1="291.0" x2="467.3" y2="292.5" stroke="#9c7c98" stroke-width="0.55"/><line x1="467.3" y1="291.0" x2="468.1" y2="293.8" stroke="#9c7c98" stroke-width="0.55"/><line x1="406.0" y1="258.8" x2="405.3" y2="260.1" stroke="#9c7c98" stroke-width="0.55"/><line x1="378.6" y1="307.5" x2="380.9" y2="307.3" stroke="#a48aa0" stroke-width="0.55"/><line x1="393.0" y1="308.1" x2="395.7" y2="308.3" stroke="#a48aa0" stroke-width="0.55"/><line x1="457.3" y1="243.6" x2="459.9" y2="244.5" stroke="#9c7c98" stroke-width="0.55"/><line x1="457.3" y1="243.6" x2="458.3" y2="244.5" stroke="#b89cb2" stroke-width="0.55"/><line x1="482.8" y1="281.3" x2="481.2" y2="281.8" stroke="#9c7c98" stroke-width="0.55"/><line x1="384.0" y1="301.8" x2="381.9" y2="301.5" stroke="#a48aa0" stroke-width="0.55"/><line x1="384.0" y1="301.8" x2="386.0" y2="302.6" stroke="#b89cb2" stroke-width="0.55"/><line x1="384.0" y1="301.8" x2="382.8" y2="302.4" stroke="#9c7c98" stroke-width="0.55"/><line x1="500.5" y1="248.0" x2="499.8" y2="249.3" stroke="#a48aa0" stroke-width="0.55"/><line x1="415.2" y1="290.4" x2="414.7" y2="288.5" stroke="#9c7c98" stroke-width="0.55"/><line x1="415.2" y1="290.4" x2="413.1" y2="290.0" stroke="#9c7c98" stroke-width="0.55"/><line x1="415.2" y1="290.4" x2="412.6" y2="291.6" stroke="#a48aa0" stroke-width="0.55"/><line x1="492.8" y1="291.7" x2="492.5" y2="290.1" stroke="#b89cb2" stroke-width="0.55"/><line x1="492.8" y1="291.7" x2="494.4" y2="290.4" stroke="#b89cb2" stroke-width="0.55"/><line x1="492.8" y1="291.7" x2="490.7" y2="293.3" stroke="#b89cb2" stroke-width="0.55"/><line x1="435.6" y1="292.8" x2="438.0" y2="292.1" stroke="#b89cb2" stroke-width="0.55"/><line x1="435.6" y1="292.8" x2="438.2" y2="294.0" stroke="#a48aa0" stroke-width="0.55"/><line x1="436.2" y1="298.8" x2="437.1" y2="296.7" stroke="#9c7c98" stroke-width="0.55"/><line x1="436.2" y1="298.8" x2="438.5" y2="298.2" stroke="#9c7c98" stroke-width="0.55"/><line x1="394.6" y1="269.2" x2="396.5" y2="268.5" stroke="#9c7c98" stroke-width="0.55"/><line x1="394.6" y1="269.2" x2="396.3" y2="269.8" stroke="#b89cb2" stroke-width="0.55"/><line x1="394.6" y1="269.2" x2="393.2" y2="271.1" stroke="#a48aa0" stroke-width="0.55"/><line x1="399.0" y1="278.9" x2="397.6" y2="280.8" stroke="#a48aa0" stroke-width="0.55"/><line x1="480.7" y1="285.9" x2="482.5" y2="283.3" stroke="#9c7c98" stroke-width="0.55"/><line x1="480.7" y1="285.9" x2="478.8" y2="284.3" stroke="#a48aa0" stroke-width="0.55"/><line x1="460.0" y1="292.3" x2="459.9" y2="293.8" stroke="#9c7c98" stroke-width="0.55"/><line x1="460.0" y1="292.3" x2="460.3" y2="289.2" stroke="#b89cb2" stroke-width="0.55"/><line x1="460.0" y1="292.3" x2="463.0" y2="292.4" stroke="#9c7c98" stroke-width="0.55"/><line x1="466.5" y1="247.7" x2="465.7" y2="246.7" stroke="#9c7c98" stroke-width="0.55"/><line x1="466.5" y1="247.7" x2="464.6" y2="247.3" stroke="#b89cb2" stroke-width="0.55"/><line x1="466.5" y1="247.7" x2="465.5" y2="249.3" stroke="#9c7c98" stroke-width="0.55"/><line x1="421.8" y1="313.8" x2="422.9" y2="314.4" stroke="#a48aa0" stroke-width="0.55"/><line x1="421.8" y1="313.8" x2="421.8" y2="312.5" stroke="#a48aa0" stroke-width="0.55"/><line x1="421.8" y1="313.8" x2="421.4" y2="316.3" stroke="#b89cb2" stroke-width="0.55"/><line x1="459.8" y1="273.8" x2="459.8" y2="272.4" stroke="#b89cb2" stroke-width="0.55"/><line x1="393.1" y1="293.8" x2="390.6" y2="294.0" stroke="#a48aa0" stroke-width="0.55"/><line x1="393.1" y1="293.8" x2="393.7" y2="296.9" stroke="#a48aa0" stroke-width="0.55"/><line x1="393.1" y1="293.8" x2="394.9" y2="293.9" stroke="#a48aa0" stroke-width="0.55"/><line x1="481.3" y1="300.3" x2="480.8" y2="301.4" stroke="#9c7c98" stroke-width="0.55"/><line x1="481.3" y1="300.3" x2="480.0" y2="300.9" stroke="#9c7c98" stroke-width="0.55"/><line x1="472.8" y1="280.3" x2="473.2" y2="279.1" stroke="#9c7c98" stroke-width="0.55"/><line x1="472.8" y1="280.3" x2="474.0" y2="280.6" stroke="#a48aa0" stroke-width="0.55"/><line x1="472.8" y1="280.3" x2="474.3" y2="278.5" stroke="#9c7c98" stroke-width="0.55"/><line x1="432.6" y1="290.9" x2="433.5" y2="291.7" stroke="#b89cb2" stroke-width="0.55"/><line x1="432.6" y1="290.9" x2="434.0" y2="293.7" stroke="#b89cb2" stroke-width="0.55"/><line x1="490.0" y1="312.1" x2="488.7" y2="312.7" stroke="#b89cb2" stroke-width="0.55"/><line x1="457.3" y1="282.1" x2="459.2" y2="280.2" stroke="#a48aa0" stroke-width="0.55"/><line x1="457.3" y1="282.1" x2="456.6" y2="283.4" stroke="#9c7c98" stroke-width="0.55"/><line x1="463.3" y1="282.6" x2="464.9" y2="281.6" stroke="#9c7c98" stroke-width="0.55"/><line x1="507.0" y1="291.3" x2="507.1" y2="292.8" stroke="#a48aa0" stroke-width="0.55"/><line x1="401.5" y1="254.0" x2="404.3" y2="255.4" stroke="#9c7c98" stroke-width="0.55"/><line x1="401.5" y1="254.0" x2="398.8" y2="254.1" stroke="#9c7c98" stroke-width="0.55"/><line x1="401.5" y1="254.0" x2="398.6" y2="255.0" stroke="#9c7c98" stroke-width="0.55"/><line x1="464.6" y1="317.2" x2="466.2" y2="315.3" stroke="#a48aa0" stroke-width="0.55"/><line x1="464.6" y1="317.2" x2="462.6" y2="318.0" stroke="#9c7c98" stroke-width="0.55"/><line x1="418.9" y1="263.2" x2="418.1" y2="264.3" stroke="#b89cb2" stroke-width="0.55"/><line x1="438.9" y1="246.7" x2="441.5" y2="248.1" stroke="#a48aa0" stroke-width="0.55"/><line x1="438.9" y1="246.7" x2="437.3" y2="245.3" stroke="#b89cb2" stroke-width="0.55"/><line x1="456.2" y1="314.7" x2="457.9" y2="313.4" stroke="#9c7c98" stroke-width="0.55"/><line x1="456.2" y1="314.7" x2="455.1" y2="313.2" stroke="#b89cb2" stroke-width="0.55"/><line x1="456.2" y1="314.7" x2="453.1" y2="314.7" stroke="#b89cb2" stroke-width="0.55"/><line x1="392.1" y1="310.6" x2="393.5" y2="310.4" stroke="#9c7c98" stroke-width="0.55"/><line x1="392.1" y1="310.6" x2="392.9" y2="312.1" stroke="#b89cb2" stroke-width="0.55"/><line x1="511.4" y1="282.1" x2="512.4" y2="283.8" stroke="#b89cb2" stroke-width="0.55"/><line x1="511.4" y1="282.1" x2="509.3" y2="283.9" stroke="#9c7c98" stroke-width="0.55"/><line x1="511.4" y1="282.1" x2="509.1" y2="280.5" stroke="#9c7c98" stroke-width="0.55"/><line x1="423.2" y1="267.4" x2="422.4" y2="265.8" stroke="#9c7c98" stroke-width="0.55"/><line x1="423.2" y1="267.4" x2="425.0" y2="264.9" stroke="#9c7c98" stroke-width="0.55"/><line x1="423.2" y1="267.4" x2="424.5" y2="266.1" stroke="#9c7c98" stroke-width="0.55"/><line x1="467.4" y1="311.9" x2="469.9" y2="311.4" stroke="#b89cb2" stroke-width="0.55"/><line x1="467.4" y1="311.9" x2="469.2" y2="313.8" stroke="#a48aa0" stroke-width="0.55"/><line x1="419.8" y1="271.0" x2="420.8" y2="268.6" stroke="#9c7c98" stroke-width="0.55"/><line x1="419.8" y1="271.0" x2="422.8" y2="270.9" stroke="#a48aa0" stroke-width="0.55"/><line x1="465.0" y1="274.5" x2="466.8" y2="274.7" stroke="#a48aa0" stroke-width="0.55"/><line x1="465.0" y1="274.5" x2="463.5" y2="276.8" stroke="#a48aa0" stroke-width="0.55"/><line x1="408.6" y1="252.8" x2="407.9" y2="255.5" stroke="#9c7c98" stroke-width="0.55"/><line x1="481.8" y1="305.7" x2="483.6" y2="306.1" stroke="#9c7c98" stroke-width="0.55"/><line x1="481.8" y1="305.7" x2="483.1" y2="307.1" stroke="#a48aa0" stroke-width="0.55"/><line x1="481.8" y1="305.7" x2="482.9" y2="308.0" stroke="#9c7c98" stroke-width="0.55"/><line x1="486.9" y1="254.9" x2="488.8" y2="255.5" stroke="#9c7c98" stroke-width="0.55"/><line x1="486.9" y1="254.9" x2="487.1" y2="257.0" stroke="#b89cb2" stroke-width="0.55"/><line x1="479.3" y1="301.8" x2="477.5" y2="301.4" stroke="#b89cb2" stroke-width="0.55"/><line x1="499.7" y1="257.1" x2="502.7" y2="256.1" stroke="#b89cb2" stroke-width="0.55"/><line x1="499.7" y1="257.1" x2="500.0" y2="254.4" stroke="#9c7c98" stroke-width="0.55"/><line x1="499.7" y1="257.1" x2="496.6" y2="256.6" stroke="#a48aa0" stroke-width="0.55"/><line x1="485.9" y1="252.9" x2="487.9" y2="253.6" stroke="#b89cb2" stroke-width="0.55"/><line x1="485.9" y1="252.9" x2="484.6" y2="252.4" stroke="#9c7c98" stroke-width="0.55"/><line x1="492.6" y1="264.0" x2="492.2" y2="267.0" stroke="#a48aa0" stroke-width="0.55"/><line x1="489.9" y1="249.4" x2="491.1" y2="246.6" stroke="#a48aa0" stroke-width="0.55"/><line x1="434.0" y1="272.5" x2="434.2" y2="275.6" stroke="#b89cb2" stroke-width="0.55"/><line x1="434.0" y1="272.5" x2="434.3" y2="274.3" stroke="#a48aa0" stroke-width="0.55"/><line x1="491.0" y1="291.7" x2="492.1" y2="293.0" stroke="#b89cb2" stroke-width="0.55"/><line x1="471.8" y1="252.9" x2="469.4" y2="253.4" stroke="#a48aa0" stroke-width="0.55"/><line x1="471.8" y1="252.9" x2="473.4" y2="253.1" stroke="#a48aa0" stroke-width="0.55"/><line x1="471.8" y1="252.9" x2="469.2" y2="252.1" stroke="#9c7c98" stroke-width="0.55"/><line x1="435.1" y1="301.2" x2="434.7" y2="302.5" stroke="#b89cb2" stroke-width="0.55"/><line x1="464.1" y1="289.6" x2="466.4" y2="291.5" stroke="#9c7c98" stroke-width="0.55"/><line x1="450.2" y1="290.3" x2="450.3" y2="291.8" stroke="#b89cb2" stroke-width="0.55"/><line x1="450.2" y1="290.3" x2="452.2" y2="290.3" stroke="#9c7c98" stroke-width="0.55"/><line x1="450.2" y1="290.3" x2="448.1" y2="291.6" stroke="#a48aa0" stroke-width="0.55"/><line x1="448.6" y1="269.7" x2="445.9" y2="269.0" stroke="#9c7c98" stroke-width="0.55"/><line x1="448.6" y1="269.7" x2="446.7" y2="269.1" stroke="#b89cb2" stroke-width="0.55"/><line x1="448.6" y1="269.7" x2="450.5" y2="270.3" stroke="#b89cb2" stroke-width="0.55"/><line x1="412.3" y1="243.6" x2="410.8" y2="245.8" stroke="#9c7c98" stroke-width="0.55"/><line x1="392.1" y1="286.5" x2="393.4" y2="287.9" stroke="#b89cb2" stroke-width="0.55"/><line x1="392.1" y1="286.5" x2="392.7" y2="285.1" stroke="#9c7c98" stroke-width="0.55"/><line x1="440.6" y1="295.1" x2="441.3" y2="296.4" stroke="#9c7c98" stroke-width="0.55"/><line x1="440.6" y1="295.1" x2="441.0" y2="293.0" stroke="#b89cb2" stroke-width="0.55"/><line x1="440.6" y1="295.1" x2="441.5" y2="297.8" stroke="#a48aa0" stroke-width="0.55"/><line x1="420.6" y1="265.9" x2="422.9" y2="265.7" stroke="#b89cb2" stroke-width="0.55"/><line x1="420.6" y1="265.9" x2="423.0" y2="266.5" stroke="#b89cb2" stroke-width="0.55"/><line x1="426.2" y1="301.6" x2="425.5" y2="302.8" stroke="#b89cb2" stroke-width="0.55"/><line x1="426.2" y1="301.6" x2="424.3" y2="302.4" stroke="#b89cb2" stroke-width="0.55"/><line x1="426.2" y1="301.6" x2="427.7" y2="300.4" stroke="#a48aa0" stroke-width="0.55"/><line x1="444.9" y1="280.1" x2="444.7" y2="281.5" stroke="#b89cb2" stroke-width="0.55"/><line x1="444.9" y1="280.1" x2="447.0" y2="281.3" stroke="#a48aa0" stroke-width="0.55"/><line x1="444.9" y1="280.1" x2="443.1" y2="279.6" stroke="#a48aa0" stroke-width="0.55"/><line x1="422.3" y1="264.8" x2="420.6" y2="263.6" stroke="#9c7c98" stroke-width="0.55"/><line x1="422.3" y1="264.8" x2="420.3" y2="265.5" stroke="#9c7c98" stroke-width="0.55"/><line x1="495.1" y1="269.1" x2="494.7" y2="272.2" stroke="#a48aa0" stroke-width="0.55"/><line x1="495.1" y1="269.1" x2="497.3" y2="270.2" stroke="#b89cb2" stroke-width="0.55"/><line x1="447.2" y1="299.2" x2="448.6" y2="298.8" stroke="#9c7c98" stroke-width="0.55"/><line x1="469.3" y1="275.6" x2="471.9" y2="276.7" stroke="#b89cb2" stroke-width="0.55"/><line x1="426.9" y1="314.4" x2="424.8" y2="312.8" stroke="#b89cb2" stroke-width="0.55"/><line x1="428.2" y1="300.2" x2="429.5" y2="301.7" stroke="#b89cb2" stroke-width="0.55"/><line x1="428.2" y1="300.2" x2="427.2" y2="298.9" stroke="#a48aa0" stroke-width="0.55"/><line x1="428.2" y1="300.2" x2="429.7" y2="300.5" stroke="#9c7c98" stroke-width="0.55"/><line x1="430.2" y1="285.0" x2="430.6" y2="282.4" stroke="#a48aa0" stroke-width="0.55"/><line x1="430.2" y1="285.0" x2="432.0" y2="284.9" stroke="#b89cb2" stroke-width="0.55"/><line x1="405.1" y1="252.7" x2="402.2" y2="253.6" stroke="#b89cb2" stroke-width="0.55"/><line x1="512.2" y1="303.8" x2="510.9" y2="301.6" stroke="#9c7c98" stroke-width="0.55"/><line x1="512.2" y1="303.8" x2="509.4" y2="303.1" stroke="#a48aa0" stroke-width="0.55"/><line x1="473.9" y1="312.7" x2="474.8" y2="314.4" stroke="#a48aa0" stroke-width="0.55"/><line x1="473.9" y1="312.7" x2="475.0" y2="313.8" stroke="#a48aa0" stroke-width="0.55"/><line x1="473.9" y1="312.7" x2="474.1" y2="314.9" stroke="#b89cb2" stroke-width="0.55"/><line x1="452.7" y1="270.4" x2="454.7" y2="272.5" stroke="#a48aa0" stroke-width="0.55"/><line x1="452.7" y1="270.4" x2="451.5" y2="273.3" stroke="#9c7c98" stroke-width="0.55"/><line x1="452.7" y1="270.4" x2="450.7" y2="270.6" stroke="#b89cb2" stroke-width="0.55"/><line x1="488.9" y1="248.0" x2="487.5" y2="246.4" stroke="#9c7c98" stroke-width="0.55"/><line x1="488.9" y1="248.0" x2="487.4" y2="247.8" stroke="#9c7c98" stroke-width="0.55"/><line x1="464.2" y1="256.2" x2="461.4" y2="257.4" stroke="#a48aa0" stroke-width="0.55"/><line x1="489.9" y1="281.7" x2="490.9" y2="283.3" stroke="#9c7c98" stroke-width="0.55"/><line x1="489.9" y1="281.7" x2="490.4" y2="284.7" stroke="#9c7c98" stroke-width="0.55"/><line x1="498.5" y1="306.5" x2="499.5" y2="309.5" stroke="#b89cb2" stroke-width="0.55"/><line x1="498.5" y1="306.5" x2="499.8" y2="307.8" stroke="#9c7c98" stroke-width="0.55"/><line x1="390.8" y1="291.0" x2="392.2" y2="290.4" stroke="#9c7c98" stroke-width="0.55"/><line x1="390.8" y1="291.0" x2="388.6" y2="288.9" stroke="#b89cb2" stroke-width="0.55"/><line x1="390.8" y1="291.0" x2="392.0" y2="289.0" stroke="#a48aa0" stroke-width="0.55"/><line x1="389.1" y1="314.3" x2="389.0" y2="315.9" stroke="#9c7c98" stroke-width="0.55"/><line x1="389.1" y1="314.3" x2="387.0" y2="315.5" stroke="#b89cb2" stroke-width="0.55"/><line x1="389.1" y1="314.3" x2="390.9" y2="312.8" stroke="#9c7c98" stroke-width="0.55"/><line x1="506.8" y1="279.0" x2="505.0" y2="280.2" stroke="#9c7c98" stroke-width="0.55"/><line x1="506.8" y1="279.0" x2="508.7" y2="279.8" stroke="#b89cb2" stroke-width="0.55"/><line x1="506.8" y1="279.0" x2="504.9" y2="279.4" stroke="#a48aa0" stroke-width="0.55"/><line x1="420.2" y1="296.9" x2="422.1" y2="296.7" stroke="#b89cb2" stroke-width="0.55"/><line x1="420.2" y1="296.9" x2="421.5" y2="298.3" stroke="#9c7c98" stroke-width="0.55"/><line x1="420.2" y1="296.9" x2="421.5" y2="297.9" stroke="#a48aa0" stroke-width="0.55"/><line x1="414.1" y1="261.2" x2="417.1" y2="262.2" stroke="#9c7c98" stroke-width="0.55"/>
<path d="M413,242 L424,242 C423,248 421,254 419,259.6 C414,261 410,261 407.3,261.9 C402,263.5 398.5,265 396.3,267.4 C393.5,270.5 392.8,278 392.4,287 C392.6,291 393.4,294 394.8,296.3 C397,300 400,303 402.6,305.7 C407,310 411,314 416,319 L407,319 C398,313 388,306 378,299.5 L378,255.6 C380,255.4 381.5,255.5 382.3,255.6 C383.5,256.5 384.5,258 385.4,258.8 C387,260.8 388.5,262.3 390,262.7 C393,263 395.5,261.8 397.9,260.3 C401,258.5 404.5,256 407.3,252.5 C409.8,249.5 411.8,246 413,242 Z" fill="#d42e8a" stroke="#e58cc0" stroke-width="1"/>
<path d="M415.5,249 C417,247.5 419.5,247.5 421,249 C420.3,252 419.5,255 418.5,257 C417.5,255 416.3,252 415.5,249 Z" fill="#d8d4d8"/>
<path d="M378,263 C382,265 386,270 388.5,277 C390,284 390,291 388,296 C385,298 381,299 378,299 Z" fill="#9a2a88" opacity="0.9"/>
<path d="M378,265 C381,267 383,272 383.5,278 C383.5,284 381,289 378,292 Z" fill="#5e1458"/>
<path d="M454.5,242 L503,242 L503,243.9 C498,245 494.5,246 491.6,247 C487,248.2 483.5,249 480.7,250.2 C477.5,251.8 476,253 475.2,254.9 C474.2,258 474,262 473.6,265 C472.8,267.5 471.5,269 470.5,269 C469.5,268.5 469.2,268 469,267.4 C468.8,263 468.8,259 468.2,255.6 C467.6,252.5 467.2,251 466.6,249.4 C463,246.5 459,244 454.5,242 Z" fill="#de4c98"/>
<path d="M465,294 C471,300 478,308 486,319 L448.5,319 C451.5,313.5 455,307 459,300.5 C461,297.5 463,295 465,294 Z" fill="#d42e8a"/>
<path d="M457,307.5 C462,306 468,305.5 474,307.5 C477,310 479,314 481,319 L455,319 C455.5,314 456,310 457,307.5 Z" fill="#7a1a68" opacity="0.8"/>
<path d="M458.5,302 C461,300 464.5,299.5 467.5,301 C469,302.5 469.5,304 469.7,306 C467,305 463.5,306.5 459.5,308 C458.8,306 458.3,304 458.5,302 Z" fill="#ddd6dc"/>
<rect x="503.50" y="315.60" width="8.50" height="1.40" fill="#f4f4f4" stroke="none" stroke-width="0" />
</g></g>
<rect x="378.20" y="242.40" width="134.40" height="75.80" fill="none" stroke="#2a2a2a" stroke-width="1.1" />
<clipPath id="cp5"><rect x="378.3" y="330.0" width="133.5" height="74.6"/></clipPath>
<g clip-path="url(#cp5)">
<filter id="bl" x="-5%" y="-5%" width="110%" height="110%"><feGaussianBlur stdDeviation="0.45"/></filter>
<g filter="url(#bl)">
<rect x="376.30" y="328.00" width="137.50" height="78.60" fill="#e6c0da" stroke="none" stroke-width="0" />
<path d="M431.91,359.67 C431.68,360.82 431.56,365.08 430.55,366.55 C429.54,368.02 427.45,368.33 425.85,368.49 C424.25,368.65 422.01,368.83 420.92,367.51 C419.84,366.20 419.59,362.90 419.32,360.62 C419.04,358.33 418.66,355.57 419.28,353.79 C419.90,352.00 421.71,350.57 423.05,349.90 C424.38,349.24 426.13,349.08 427.30,349.78 C428.47,350.48 429.29,352.45 430.06,354.10 C430.83,355.75 431.83,357.60 431.91,359.67 C431.99,361.75 430.77,365.40 430.55,366.55" fill="#dcd9dc"/><path d="M446.06,364.47 C446.88,362.97 448.63,356.31 450.99,355.45 C453.34,354.58 457.20,357.81 460.18,359.26 C463.17,360.71 467.60,361.60 468.90,364.16 C470.19,366.72 469.07,371.64 467.97,374.61 C466.88,377.58 464.71,380.10 462.35,381.95 C459.99,383.80 456.45,386.03 453.81,385.70 C451.17,385.37 448.23,382.23 446.50,379.97 C444.76,377.70 443.48,374.68 443.41,372.10 C443.34,369.51 444.80,367.25 446.06,364.47 C447.32,361.70 450.17,356.95 450.99,355.45" fill="#dcd9dc"/><path d="M458.16,394.32 C456.81,394.20 452.38,394.37 450.09,393.63 C447.79,392.89 445.04,391.32 444.38,389.88 C443.72,388.44 444.68,386.36 446.14,385.00 C447.60,383.64 450.34,382.35 453.12,381.72 C455.90,381.08 460.19,380.61 462.82,381.17 C465.46,381.72 467.30,383.62 468.94,385.05 C470.59,386.48 473.21,388.39 472.67,389.75 C472.13,391.11 468.11,392.45 465.69,393.21 C463.27,393.97 460.76,394.25 458.16,394.32 C455.56,394.39 451.43,393.75 450.09,393.63" fill="#dcd9dc"/><path d="M468.02,340.21 C467.70,341.29 466.82,344.87 466.12,346.68 C465.42,348.50 464.89,350.11 463.83,351.10 C462.78,352.10 461.25,352.65 459.79,352.67 C458.33,352.69 456.02,352.52 455.08,351.24 C454.13,349.97 454.16,347.05 454.12,345.01 C454.08,342.97 454.05,340.65 454.83,339.00 C455.61,337.35 457.36,335.43 458.78,335.10 C460.20,334.77 461.80,336.17 463.34,337.03 C464.88,337.88 467.56,338.61 468.02,340.21 C468.48,341.82 466.43,345.60 466.12,346.68" fill="#dcd9dc"/><path d="M483.24,351.81 C483.53,350.88 483.80,347.21 484.99,346.24 C486.19,345.26 488.79,345.43 490.41,345.96 C492.03,346.49 493.70,347.86 494.73,349.40 C495.77,350.94 496.83,353.42 496.62,355.19 C496.40,356.95 494.71,358.99 493.45,359.98 C492.20,360.97 490.43,361.19 489.09,361.13 C487.75,361.07 486.40,360.46 485.42,359.64 C484.44,358.82 483.55,357.51 483.18,356.20 C482.82,354.90 482.94,353.47 483.24,351.81 C483.54,350.15 484.70,347.16 484.99,346.24" fill="#dcd9dc"/><path d="M484.87,366.93 C485.63,366.06 487.47,362.34 489.43,361.70 C491.38,361.07 494.40,362.14 496.61,363.11 C498.82,364.08 501.44,365.48 502.68,367.53 C503.92,369.58 504.86,373.29 504.03,375.42 C503.21,377.56 499.91,379.35 497.73,380.31 C495.54,381.27 493.38,381.18 490.91,381.18 C488.45,381.17 484.87,381.70 482.91,380.30 C480.96,378.89 478.86,374.98 479.19,372.76 C479.51,370.53 483.16,368.77 484.87,366.93 C486.58,365.09 488.67,362.58 489.43,361.70" fill="#dcd9dc"/><path d="M412.89,370.06 C412.58,371.46 412.12,377.33 411.03,378.46 C409.94,379.60 407.69,377.81 406.36,376.87 C405.03,375.93 404.01,374.68 403.06,372.81 C402.11,370.94 400.69,368.16 400.63,365.67 C400.57,363.18 401.69,359.56 402.70,357.85 C403.70,356.14 405.23,356.07 406.67,355.41 C408.11,354.75 410.06,352.87 411.35,353.89 C412.63,354.92 414.12,358.86 414.38,361.56 C414.63,364.25 413.44,367.25 412.89,370.06 C412.33,372.88 411.34,377.06 411.03,378.46" fill="#dcd9dc"/><path d="M428.07,391.38 C428.63,390.95 430.05,389.49 431.44,388.79 C432.83,388.09 434.97,386.80 436.40,387.17 C437.83,387.54 439.41,389.59 440.01,391.01 C440.61,392.43 440.32,394.22 439.99,395.70 C439.66,397.17 439.14,398.98 438.04,399.86 C436.94,400.75 434.84,401.13 433.40,401.00 C431.96,400.86 430.60,399.95 429.40,399.06 C428.20,398.17 426.43,396.91 426.21,395.63 C425.99,394.35 427.20,392.52 428.07,391.38 C428.94,390.24 430.88,389.22 431.44,388.79" fill="#dcd9dc"/><path d="M484.36,390.10 C485.69,389.48 489.47,386.96 492.36,386.34 C495.25,385.73 498.68,386.06 501.70,386.41 C504.72,386.76 508.37,387.20 510.48,388.44 C512.60,389.68 514.70,392.17 514.37,393.84 C514.05,395.50 510.77,397.08 508.55,398.42 C506.32,399.76 503.72,401.73 501.02,401.90 C498.33,402.08 494.59,400.53 492.39,399.47 C490.19,398.41 489.16,397.10 487.82,395.54 C486.48,393.98 483.60,391.64 484.36,390.10 C485.12,388.57 491.03,386.97 492.36,386.34" fill="#dcd9dc"/><path d="M513.04,351.15 C512.67,352.45 511.90,356.76 510.79,358.97 C509.69,361.19 508.05,363.88 506.38,364.45 C504.72,365.02 502.22,363.95 500.79,362.38 C499.36,360.81 498.11,357.55 497.81,355.05 C497.51,352.55 498.35,349.64 498.99,347.37 C499.63,345.11 500.39,343.04 501.65,341.44 C502.90,339.85 504.99,337.53 506.55,337.81 C508.11,338.09 509.92,340.89 511.00,343.12 C512.08,345.34 513.07,348.50 513.04,351.15 C513.01,353.79 511.17,357.67 510.79,358.97" fill="#dcd9dc"/><path d="M468.21,342.32 C468.93,341.93 471.01,340.06 472.52,339.98 C474.04,339.90 476.23,340.93 477.31,341.86 C478.39,342.80 478.72,344.30 479.00,345.58 C479.28,346.87 479.66,348.47 478.99,349.57 C478.33,350.67 476.59,351.61 475.02,352.18 C473.45,352.75 471.38,353.28 469.58,352.98 C467.77,352.68 465.19,351.68 464.18,350.38 C463.17,349.09 462.86,346.54 463.53,345.19 C464.20,343.85 466.72,343.19 468.21,342.32 C469.71,341.45 471.80,340.37 472.52,339.98" fill="#dcd9dc"/><path d="M436.90,333.73 C437.70,333.78 440.42,333.53 441.72,334.03 C443.02,334.54 443.91,335.73 444.70,336.74 C445.49,337.75 446.24,338.79 446.46,340.11 C446.68,341.43 446.87,343.65 446.04,344.64 C445.21,345.63 443.06,345.77 441.49,346.05 C439.91,346.32 437.90,346.89 436.57,346.27 C435.23,345.65 433.68,343.68 433.48,342.31 C433.28,340.95 434.80,339.53 435.37,338.10 C435.94,336.67 435.84,334.41 436.90,333.73 C437.96,333.05 440.91,333.98 441.72,334.03" fill="#dcd9dc"/><path d="M413.58,341.74 C413.65,341.25 413.64,339.70 413.95,338.76 C414.27,337.82 414.65,336.84 415.45,336.13 C416.26,335.43 417.77,334.39 418.77,334.54 C419.76,334.68 420.77,336.12 421.42,337.00 C422.08,337.88 422.51,338.77 422.68,339.82 C422.85,340.87 423.03,342.41 422.45,343.31 C421.87,344.20 420.32,345.03 419.18,345.20 C418.05,345.38 416.56,344.92 415.63,344.34 C414.70,343.77 413.86,342.67 413.58,341.74 C413.31,340.81 413.89,339.26 413.95,338.76" fill="#dcd9dc"/><path d="M448.22,393.80 C448.73,393.93 450.41,394.00 451.29,394.59 C452.17,395.18 453.51,396.42 453.52,397.33 C453.53,398.25 452.06,399.35 451.34,400.07 C450.61,400.78 450.01,401.31 449.16,401.62 C448.32,401.93 447.08,402.24 446.28,401.94 C445.47,401.64 444.80,400.63 444.34,399.81 C443.87,398.99 443.47,398.05 443.50,397.02 C443.54,395.98 443.74,394.13 444.53,393.60 C445.31,393.06 447.09,393.64 448.22,393.80 C449.34,393.97 450.78,394.46 451.29,394.59" fill="#dcd9dc"/><path d="M478.16,366.13 C477.66,366.60 476.29,368.87 475.20,368.98 C474.10,369.08 472.23,367.91 471.60,366.78 C470.96,365.65 471.45,363.73 471.40,362.20 C471.35,360.67 470.74,358.77 471.31,357.61 C471.87,356.45 473.59,355.45 474.79,355.23 C475.99,355.02 477.57,355.53 478.51,356.30 C479.45,357.07 480.03,358.56 480.44,359.83 C480.86,361.10 481.39,362.89 481.01,363.94 C480.62,364.99 479.12,365.29 478.16,366.13 C477.19,366.97 475.69,368.50 475.20,368.98" fill="#dcd9dc"/><path d="M433.24,367.69 C433.74,367.46 435.21,366.58 436.20,366.33 C437.19,366.08 438.14,365.76 439.19,366.19 C440.24,366.61 442.13,367.54 442.52,368.87 C442.90,370.20 441.98,372.62 441.51,374.18 C441.03,375.73 440.53,377.19 439.64,378.22 C438.74,379.24 437.20,380.54 436.14,380.31 C435.07,380.07 433.97,378.15 433.24,376.80 C432.50,375.45 431.73,373.71 431.73,372.20 C431.73,370.68 432.50,368.66 433.24,367.69 C433.99,366.71 435.71,366.56 436.20,366.33" fill="#dcd9dc"/><path d="M470.80,396.71 C470.34,396.44 468.68,396.00 468.04,395.09 C467.41,394.18 466.89,392.50 466.99,391.26 C467.09,390.02 467.85,388.35 468.64,387.67 C469.44,386.99 470.84,387.09 471.79,387.18 C472.74,387.28 473.65,387.63 474.35,388.25 C475.05,388.87 475.54,389.76 475.98,390.90 C476.42,392.03 477.33,393.92 477.00,395.06 C476.68,396.21 475.06,397.48 474.03,397.75 C473.00,398.03 471.80,397.16 470.80,396.71 C469.80,396.27 468.50,395.36 468.04,395.09" fill="#dcd9dc"/><path d="M504.44,378.74 C504.50,378.05 504.45,375.94 504.82,374.61 C505.18,373.29 505.78,371.55 506.65,370.80 C507.52,370.05 509.16,369.45 510.01,370.11 C510.87,370.78 511.55,373.25 511.80,374.78 C512.06,376.32 511.68,377.73 511.53,379.33 C511.39,380.92 511.55,383.41 510.92,384.36 C510.30,385.31 508.85,385.07 507.79,385.03 C506.73,384.99 505.13,385.14 504.57,384.09 C504.01,383.05 504.40,380.32 504.44,378.74 C504.48,377.16 504.75,375.30 504.82,374.61" fill="#dcd9dc"/><path d="M419.51,390.01 C419.03,389.71 417.35,388.95 416.65,388.18 C415.96,387.41 415.42,386.33 415.34,385.36 C415.26,384.40 415.58,383.11 416.17,382.39 C416.77,381.66 417.99,381.15 418.92,381.01 C419.84,380.87 420.80,381.19 421.71,381.53 C422.62,381.87 423.95,382.30 424.38,383.07 C424.81,383.84 424.48,385.07 424.29,386.13 C424.09,387.20 424.00,388.82 423.21,389.46 C422.41,390.11 420.60,390.23 419.51,390.01 C418.42,389.80 417.13,388.49 416.65,388.18" fill="#dcd9dc"/><path d="M390.15,343.02 C390.45,342.39 390.97,339.74 391.97,339.27 C392.97,338.80 394.77,339.88 396.16,340.20 C397.54,340.52 399.31,340.32 400.28,341.18 C401.25,342.04 402.12,344.07 401.97,345.35 C401.81,346.64 400.37,347.88 399.35,348.90 C398.33,349.93 397.05,351.45 395.83,351.53 C394.61,351.61 392.96,350.26 392.02,349.41 C391.08,348.55 390.50,347.48 390.19,346.41 C389.87,345.35 389.85,344.21 390.15,343.02 C390.45,341.83 391.66,339.90 391.97,339.27" fill="#dcd9dc"/><path d="M480.27,341.13 C479.83,340.62 477.69,339.13 477.61,338.07 C477.54,337.01 478.84,335.69 479.84,334.76 C480.85,333.82 482.26,332.65 483.64,332.48 C485.02,332.30 487.03,333.06 488.11,333.73 C489.20,334.40 489.76,335.56 490.13,336.51 C490.50,337.46 490.69,338.54 490.33,339.44 C489.98,340.34 489.09,341.24 488.01,341.90 C486.93,342.56 485.14,343.52 483.85,343.39 C482.57,343.26 481.31,342.01 480.27,341.13 C479.23,340.24 478.06,338.58 477.61,338.07" fill="#dcd9dc"/><path d="M433.73,348.79 C433.48,349.14 432.92,350.37 432.27,350.85 C431.62,351.32 430.71,351.61 429.83,351.67 C428.95,351.72 427.48,351.71 426.99,351.16 C426.49,350.62 426.99,349.30 426.87,348.40 C426.75,347.49 425.94,346.34 426.28,345.72 C426.62,345.10 428.01,344.95 428.91,344.68 C429.81,344.40 431.03,343.77 431.69,344.09 C432.34,344.40 432.49,345.80 432.83,346.59 C433.17,347.37 433.82,348.08 433.73,348.79 C433.63,349.50 432.51,350.50 432.27,350.85" fill="#dcd9dc"/><path d="M404.77,395.01 C404.42,394.94 403.27,394.89 402.68,394.58 C402.08,394.27 401.63,393.79 401.21,393.18 C400.79,392.57 400.00,391.56 400.17,390.93 C400.33,390.30 401.48,389.90 402.20,389.41 C402.91,388.92 403.78,387.90 404.46,387.98 C405.14,388.06 405.71,389.27 406.28,389.90 C406.84,390.53 407.76,391.08 407.84,391.76 C407.93,392.43 407.27,393.40 406.76,393.95 C406.25,394.49 405.45,394.91 404.77,395.01 C404.09,395.12 403.03,394.65 402.68,394.58" fill="#dcd9dc"/><path d="M391.53,356.35 C391.79,356.56 392.61,357.21 393.11,357.61 C393.61,358.02 394.31,358.23 394.54,358.78 C394.77,359.33 394.67,360.23 394.48,360.91 C394.29,361.59 393.92,362.55 393.41,362.86 C392.90,363.17 392.07,362.93 391.42,362.78 C390.77,362.64 389.78,362.51 389.52,361.99 C389.26,361.48 389.81,360.43 389.85,359.69 C389.90,358.96 389.53,358.12 389.81,357.56 C390.09,357.00 390.98,356.34 391.53,356.35 C392.07,356.36 392.85,357.40 393.11,357.61" fill="#dcd9dc"/><path d="M379.33,338.30 C379.58,338.22 380.34,337.91 380.79,337.83 C381.24,337.75 381.61,337.72 382.02,337.83 C382.43,337.94 383.03,338.13 383.28,338.50 C383.52,338.87 383.57,339.52 383.51,340.04 C383.46,340.57 383.31,341.43 382.94,341.66 C382.58,341.89 381.77,341.55 381.32,341.43 C380.86,341.32 380.57,341.22 380.19,340.98 C379.80,340.73 379.15,340.41 379.01,339.96 C378.87,339.51 379.04,338.65 379.33,338.30 C379.63,337.94 380.55,337.91 380.79,337.83" fill="#dcd9dc"/><path d="M386.12,349.66 C386.54,349.88 388.08,350.35 388.65,350.94 C389.22,351.54 389.70,352.57 389.54,353.23 C389.37,353.89 388.31,354.41 387.66,354.91 C387.01,355.42 386.43,356.13 385.66,356.26 C384.89,356.39 383.72,356.07 383.04,355.69 C382.36,355.30 381.72,354.56 381.57,353.95 C381.42,353.35 381.82,352.64 382.14,352.06 C382.46,351.48 382.82,350.89 383.49,350.49 C384.15,350.09 385.26,349.59 386.12,349.66 C386.98,349.74 388.23,350.73 388.65,350.94" fill="#dcd9dc"/><path d="M472.77,375.42 C473.08,375.30 474.02,374.74 474.63,374.70 C475.24,374.66 475.84,374.84 476.41,375.16 C476.98,375.49 477.83,375.98 478.06,376.64 C478.28,377.30 478.10,378.53 477.76,379.10 C477.42,379.68 476.59,379.79 476.02,380.09 C475.46,380.39 474.89,380.98 474.39,380.89 C473.88,380.80 473.33,380.09 472.99,379.55 C472.65,379.00 472.38,378.33 472.35,377.64 C472.31,376.95 472.39,375.91 472.77,375.42 C473.15,374.93 474.32,374.82 474.63,374.70" fill="#dcd9dc"/><path d="M499.87,334.93 C499.74,334.65 499.30,333.81 499.08,333.23 C498.86,332.64 498.40,331.96 498.55,331.41 C498.70,330.85 499.39,330.17 499.98,329.90 C500.57,329.62 501.40,329.67 502.09,329.78 C502.77,329.90 503.77,330.12 504.08,330.58 C504.39,331.04 504.05,331.97 503.93,332.54 C503.81,333.12 503.71,333.58 503.38,334.04 C503.05,334.49 502.52,335.12 501.94,335.27 C501.35,335.42 500.34,335.27 499.87,334.93 C499.39,334.59 499.21,333.51 499.08,333.23" fill="#dcd9dc"/><path d="M478.67,398.45 C479.04,398.54 480.39,398.56 480.88,398.99 C481.37,399.42 481.69,400.41 481.60,401.00 C481.50,401.60 480.77,402.09 480.32,402.56 C479.86,403.04 479.50,403.59 478.85,403.83 C478.20,404.08 477.00,404.34 476.42,404.05 C475.83,403.76 475.54,402.74 475.34,402.10 C475.13,401.45 474.98,400.75 475.18,400.17 C475.38,399.59 475.95,398.90 476.53,398.61 C477.11,398.32 477.94,398.38 478.67,398.45 C479.39,398.51 480.51,398.90 480.88,398.99" fill="#dcd9dc"/><path d="M405.54,347.65 C405.19,347.35 403.50,346.50 403.43,345.83 C403.37,345.16 404.61,344.37 405.14,343.63 C405.67,342.89 405.93,341.64 406.61,341.37 C407.30,341.11 408.43,341.69 409.26,342.05 C410.09,342.42 411.24,342.84 411.61,343.56 C411.98,344.29 411.75,345.55 411.49,346.39 C411.22,347.24 410.69,348.26 410.02,348.65 C409.35,349.04 408.21,348.90 407.47,348.73 C406.72,348.56 406.21,348.13 405.54,347.65 C404.86,347.17 403.78,346.13 403.43,345.83" fill="#dcd9dc"/><path d="M388.11,331.25 C388.19,331.42 388.57,331.96 388.59,332.31 C388.61,332.66 388.46,333.07 388.21,333.34 C387.97,333.62 387.54,333.85 387.10,333.97 C386.67,334.10 386.02,334.24 385.60,334.11 C385.19,333.98 384.84,333.53 384.63,333.17 C384.41,332.82 384.23,332.36 384.32,331.98 C384.42,331.60 384.77,331.11 385.18,330.88 C385.59,330.65 386.30,330.54 386.78,330.60 C387.27,330.66 387.81,330.96 388.11,331.25 C388.41,331.53 388.51,332.13 388.59,332.31" fill="#dcd9dc"/><path d="M422.49,370.11 C422.44,370.50 422.41,371.72 422.20,372.45 C422.00,373.18 421.81,374.03 421.26,374.48 C420.72,374.93 419.77,375.07 418.92,375.13 C418.08,375.18 416.73,375.29 416.17,374.82 C415.60,374.34 415.56,373.08 415.52,372.27 C415.48,371.47 415.52,370.55 415.93,369.97 C416.35,369.39 417.24,369.09 418.02,368.80 C418.80,368.51 419.87,368.01 420.61,368.23 C421.35,368.45 422.23,369.41 422.49,370.11 C422.76,370.81 422.25,372.06 422.20,372.45" fill="#dcd9dc"/><path d="M415.00,353.40 C414.83,353.21 414.22,352.63 413.97,352.25 C413.71,351.88 413.53,351.53 413.49,351.16 C413.45,350.78 413.57,350.43 413.73,350.00 C413.89,349.57 414.06,348.79 414.44,348.58 C414.82,348.37 415.64,348.48 416.02,348.73 C416.41,348.98 416.59,349.65 416.73,350.09 C416.88,350.53 416.98,350.98 416.89,351.38 C416.80,351.78 416.53,352.14 416.22,352.47 C415.90,352.81 415.37,353.44 415.00,353.40 C414.62,353.36 414.14,352.44 413.97,352.25" fill="#dcd9dc"/><path d="M464.92,402.60 C464.57,402.56 463.46,402.56 462.79,402.36 C462.12,402.15 461.27,401.86 460.89,401.40 C460.51,400.94 460.32,400.10 460.53,399.58 C460.74,399.05 461.52,398.51 462.15,398.25 C462.77,397.99 463.67,397.89 464.28,398.00 C464.90,398.10 465.46,398.53 465.85,398.87 C466.25,399.22 466.49,399.59 466.66,400.06 C466.84,400.54 467.17,401.29 466.88,401.71 C466.59,402.14 465.61,402.50 464.92,402.60 C464.24,402.71 463.15,402.40 462.79,402.36" fill="#dcd9dc"/><path d="M443.37,357.34 C442.96,357.33 441.53,357.79 440.89,357.30 C440.25,356.82 439.75,355.45 439.53,354.44 C439.31,353.42 439.24,352.03 439.55,351.20 C439.86,350.36 440.73,349.99 441.39,349.43 C442.05,348.88 442.79,347.83 443.50,347.87 C444.21,347.91 445.25,348.85 445.66,349.68 C446.07,350.52 446.08,351.95 445.97,352.90 C445.85,353.84 445.40,354.61 444.96,355.35 C444.53,356.09 444.05,357.02 443.37,357.34 C442.69,357.67 441.30,357.31 440.89,357.30" fill="#dcd9dc"/><path d="M416.41,400.81 C416.17,400.64 415.29,400.26 415.01,399.80 C414.72,399.34 414.55,398.54 414.70,398.07 C414.85,397.60 415.52,397.42 415.92,396.99 C416.33,396.56 416.61,395.61 417.13,395.47 C417.65,395.34 418.56,395.75 419.02,396.16 C419.49,396.56 419.87,397.32 419.93,397.90 C419.99,398.49 419.69,399.18 419.39,399.67 C419.09,400.16 418.61,400.65 418.12,400.84 C417.62,401.03 416.93,400.98 416.41,400.81 C415.89,400.63 415.24,399.97 415.01,399.80" fill="#dcd9dc"/>
<circle cx="416.0" cy="381.1" r="0.70" fill="#d890c4"/><circle cx="463.8" cy="394.3" r="0.61" fill="#b87cb4"/><circle cx="474.6" cy="378.9" r="0.53" fill="#9c62a0"/><circle cx="476.7" cy="373.5" r="0.99" fill="#d890c4"/><circle cx="483.1" cy="397.6" r="0.80" fill="#e8acd6"/><circle cx="391.3" cy="339.5" r="0.64" fill="#a86ca6"/><circle cx="385.5" cy="377.3" r="0.87" fill="#ecbcdc"/><circle cx="492.3" cy="340.2" r="0.52" fill="#b87cb4"/><circle cx="497.5" cy="403.6" r="0.66" fill="#a86ca6"/><circle cx="482.3" cy="366.4" r="0.61" fill="#e09ccc"/><circle cx="378.9" cy="350.4" r="0.60" fill="#e8acd6"/><circle cx="443.7" cy="387.0" r="0.58" fill="#b87cb4"/><circle cx="435.6" cy="362.0" r="0.50" fill="#e4a4d0"/><circle cx="421.3" cy="392.2" r="0.60" fill="#b87cb4"/><circle cx="419.2" cy="334.9" r="0.68" fill="#9c62a0"/><circle cx="475.5" cy="374.5" r="1.03" fill="#e8acd6"/><circle cx="424.1" cy="397.2" r="0.61" fill="#ecbcdc"/><circle cx="380.9" cy="346.7" r="0.63" fill="#e09ccc"/><circle cx="465.1" cy="332.8" r="0.65" fill="#e4a4d0"/><circle cx="392.7" cy="392.4" r="0.43" fill="#9c62a0"/><circle cx="429.1" cy="370.8" r="0.59" fill="#e09ccc"/><circle cx="418.5" cy="379.4" r="0.66" fill="#e4a4d0"/><circle cx="482.2" cy="392.0" r="0.71" fill="#ecbcdc"/><circle cx="417.7" cy="332.9" r="0.62" fill="#ecbcdc"/><circle cx="422.4" cy="330.2" r="1.04" fill="#e4a4d0"/><circle cx="467.6" cy="341.1" r="0.55" fill="#b87cb4"/><circle cx="474.9" cy="397.5" r="0.77" fill="#d890c4"/><circle cx="413.6" cy="333.7" r="1.02" fill="#d890c4"/><circle cx="426.4" cy="380.5" r="0.57" fill="#e09ccc"/><circle cx="379.6" cy="340.3" r="0.70" fill="#ecbcdc"/><circle cx="431.7" cy="364.1" r="0.91" fill="#ecbcdc"/><circle cx="393.4" cy="381.9" r="0.68" fill="#a86ca6"/><circle cx="392.1" cy="398.0" r="0.84" fill="#ecbcdc"/><circle cx="382.1" cy="381.1" r="1.08" fill="#e8acd6"/><circle cx="437.1" cy="334.7" r="0.51" fill="#e4a4d0"/><circle cx="480.8" cy="373.0" r="1.09" fill="#d890c4"/><circle cx="436.1" cy="384.2" r="0.90" fill="#ecbcdc"/><circle cx="398.1" cy="391.7" r="0.87" fill="#e09ccc"/><circle cx="443.9" cy="348.0" r="0.53" fill="#e8acd6"/><circle cx="388.8" cy="363.1" r="0.55" fill="#ecbcdc"/><circle cx="465.5" cy="337.7" r="0.83" fill="#e09ccc"/><circle cx="488.6" cy="389.1" r="1.03" fill="#e4a4d0"/><circle cx="405.9" cy="380.1" r="0.72" fill="#e09ccc"/><circle cx="480.8" cy="374.8" r="0.72" fill="#ecbcdc"/><circle cx="393.5" cy="386.6" r="0.50" fill="#b87cb4"/><circle cx="472.0" cy="333.4" r="0.44" fill="#b87cb4"/><circle cx="404.5" cy="339.0" r="0.63" fill="#e8acd6"/><circle cx="474.0" cy="338.0" r="1.06" fill="#e4a4d0"/><circle cx="394.7" cy="396.5" r="0.85" fill="#e4a4d0"/><circle cx="396.3" cy="367.2" r="0.53" fill="#ecbcdc"/><circle cx="475.8" cy="339.6" r="0.86" fill="#d890c4"/><circle cx="445.6" cy="358.7" r="1.05" fill="#e8acd6"/><circle cx="414.8" cy="401.9" r="0.77" fill="#e8acd6"/><circle cx="396.7" cy="374.9" r="0.81" fill="#e4a4d0"/><circle cx="493.2" cy="383.1" r="0.88" fill="#e8acd6"/><circle cx="406.3" cy="383.3" r="1.05" fill="#e8acd6"/><circle cx="509.3" cy="378.5" r="0.92" fill="#d890c4"/><circle cx="456.1" cy="400.3" r="0.90" fill="#e4a4d0"/><circle cx="416.5" cy="393.2" r="0.81" fill="#e09ccc"/><circle cx="429.1" cy="334.0" r="0.48" fill="#a86ca6"/><circle cx="386.6" cy="388.5" r="0.56" fill="#9c62a0"/><circle cx="477.0" cy="394.5" r="0.84" fill="#e8acd6"/><circle cx="470.8" cy="333.5" r="0.75" fill="#d890c4"/><circle cx="507.2" cy="334.0" r="0.62" fill="#ecbcdc"/><circle cx="458.9" cy="387.9" r="0.45" fill="#b87cb4"/><circle cx="388.2" cy="401.8" r="0.57" fill="#e09ccc"/><circle cx="421.4" cy="333.8" r="0.87" fill="#d890c4"/><circle cx="402.8" cy="335.1" r="0.75" fill="#e4a4d0"/><circle cx="432.2" cy="356.1" r="0.90" fill="#d890c4"/><circle cx="426.5" cy="346.3" r="0.82" fill="#e4a4d0"/><circle cx="488.3" cy="403.2" r="0.60" fill="#9c62a0"/><circle cx="410.4" cy="377.9" r="0.65" fill="#e09ccc"/><circle cx="469.4" cy="353.9" r="1.07" fill="#ecbcdc"/><circle cx="412.6" cy="384.0" r="0.56" fill="#9c62a0"/><circle cx="417.9" cy="378.6" r="0.55" fill="#e09ccc"/><circle cx="400.6" cy="401.3" r="0.50" fill="#e09ccc"/><circle cx="469.9" cy="331.8" r="0.52" fill="#e09ccc"/><circle cx="385.5" cy="389.2" r="0.84" fill="#e8acd6"/><circle cx="499.9" cy="360.4" r="0.74" fill="#d890c4"/><circle cx="380.6" cy="380.2" r="0.88" fill="#e4a4d0"/><circle cx="386.7" cy="385.6" r="0.65" fill="#9c62a0"/><circle cx="502.2" cy="337.9" r="0.68" fill="#e09ccc"/><circle cx="488.1" cy="332.3" r="0.47" fill="#b87cb4"/><circle cx="428.1" cy="400.8" r="0.83" fill="#e09ccc"/><circle cx="383.9" cy="372.7" r="0.83" fill="#e09ccc"/><circle cx="446.7" cy="342.0" r="0.65" fill="#a86ca6"/><circle cx="393.6" cy="380.1" r="0.53" fill="#e4a4d0"/><circle cx="387.3" cy="337.3" r="0.79" fill="#d890c4"/><circle cx="426.0" cy="380.1" r="0.49" fill="#a86ca6"/><circle cx="435.5" cy="330.4" r="0.47" fill="#b87cb4"/><circle cx="469.0" cy="354.7" r="0.77" fill="#d890c4"/><circle cx="389.2" cy="350.9" r="1.03" fill="#e8acd6"/><circle cx="413.4" cy="396.1" r="0.42" fill="#a86ca6"/><circle cx="383.2" cy="349.4" r="0.82" fill="#e8acd6"/><circle cx="427.1" cy="346.7" r="0.94" fill="#d890c4"/><circle cx="396.2" cy="367.4" r="0.51" fill="#a86ca6"/><circle cx="466.8" cy="393.3" r="0.87" fill="#e8acd6"/><circle cx="479.4" cy="340.5" r="0.57" fill="#b87cb4"/><circle cx="466.3" cy="402.2" r="0.79" fill="#d890c4"/><circle cx="383.7" cy="386.8" r="0.48" fill="#a86ca6"/><circle cx="384.0" cy="345.4" r="0.72" fill="#ecbcdc"/><circle cx="464.9" cy="337.7" r="0.88" fill="#d890c4"/><circle cx="401.5" cy="378.8" r="0.89" fill="#e09ccc"/><circle cx="447.3" cy="358.1" r="0.81" fill="#d890c4"/><circle cx="496.7" cy="330.5" r="0.76" fill="#e8acd6"/><circle cx="388.6" cy="378.0" r="0.46" fill="#9c62a0"/><circle cx="433.7" cy="354.6" r="0.60" fill="#9c62a0"/><circle cx="406.4" cy="342.0" r="0.51" fill="#e09ccc"/><circle cx="395.4" cy="374.2" r="0.55" fill="#b87cb4"/><circle cx="447.3" cy="360.2" r="1.03" fill="#d890c4"/><circle cx="441.2" cy="365.9" r="0.52" fill="#a86ca6"/><circle cx="484.4" cy="391.2" r="0.60" fill="#9c62a0"/><circle cx="400.7" cy="381.1" r="0.86" fill="#e09ccc"/><circle cx="441.8" cy="375.9" r="0.64" fill="#b87cb4"/><circle cx="478.7" cy="337.0" r="1.04" fill="#e4a4d0"/><circle cx="384.1" cy="369.5" r="0.64" fill="#9c62a0"/><circle cx="425.1" cy="390.0" r="1.00" fill="#e4a4d0"/><circle cx="391.3" cy="340.0" r="0.64" fill="#e09ccc"/><circle cx="416.1" cy="395.4" r="0.61" fill="#e09ccc"/><circle cx="455.5" cy="338.8" r="0.60" fill="#b87cb4"/><circle cx="510.7" cy="359.7" r="0.57" fill="#b87cb4"/><circle cx="442.7" cy="357.6" r="0.65" fill="#d890c4"/><circle cx="396.7" cy="394.4" r="0.47" fill="#b87cb4"/><circle cx="505.0" cy="337.5" r="0.97" fill="#e4a4d0"/><circle cx="430.2" cy="377.4" r="0.99" fill="#ecbcdc"/><circle cx="501.9" cy="362.5" r="0.47" fill="#a86ca6"/><circle cx="459.6" cy="384.0" r="0.89" fill="#d890c4"/><circle cx="473.3" cy="374.6" r="0.99" fill="#ecbcdc"/><circle cx="436.9" cy="345.0" r="0.98" fill="#d890c4"/><circle cx="404.3" cy="388.5" r="0.92" fill="#e4a4d0"/><circle cx="400.9" cy="332.7" r="0.40" fill="#a86ca6"/><circle cx="389.9" cy="350.6" r="0.90" fill="#ecbcdc"/><circle cx="387.5" cy="336.7" r="0.65" fill="#b87cb4"/><circle cx="424.8" cy="401.9" r="0.58" fill="#a86ca6"/><circle cx="439.0" cy="360.1" r="0.45" fill="#b87cb4"/><circle cx="392.5" cy="335.4" r="0.68" fill="#b87cb4"/><circle cx="455.0" cy="381.8" r="0.96" fill="#d890c4"/><circle cx="506.6" cy="364.2" r="0.85" fill="#e09ccc"/><circle cx="483.6" cy="346.4" r="0.98" fill="#ecbcdc"/><circle cx="505.9" cy="368.5" r="0.65" fill="#a86ca6"/><circle cx="416.7" cy="359.8" r="0.71" fill="#e4a4d0"/><circle cx="502.6" cy="365.6" r="1.04" fill="#d890c4"/><circle cx="402.7" cy="385.7" r="0.61" fill="#e8acd6"/><circle cx="409.7" cy="348.1" r="0.47" fill="#a86ca6"/><circle cx="394.3" cy="335.9" r="0.80" fill="#e09ccc"/><circle cx="480.3" cy="370.4" r="0.54" fill="#b87cb4"/><circle cx="420.4" cy="397.0" r="0.84" fill="#d890c4"/><circle cx="443.8" cy="403.4" r="0.67" fill="#e8acd6"/><circle cx="478.4" cy="339.6" r="0.75" fill="#e4a4d0"/><circle cx="382.6" cy="355.9" r="0.97" fill="#ecbcdc"/><circle cx="470.3" cy="330.9" r="0.57" fill="#9c62a0"/><circle cx="426.6" cy="394.3" r="0.48" fill="#9c62a0"/><circle cx="441.2" cy="375.7" r="0.80" fill="#e8acd6"/><circle cx="434.2" cy="386.1" r="0.74" fill="#ecbcdc"/><circle cx="402.3" cy="339.8" r="0.64" fill="#e09ccc"/><circle cx="492.6" cy="344.6" r="0.94" fill="#ecbcdc"/><circle cx="485.9" cy="343.2" r="1.10" fill="#e4a4d0"/><circle cx="449.6" cy="353.6" r="0.65" fill="#e4a4d0"/><circle cx="384.7" cy="337.4" r="0.46" fill="#9c62a0"/><circle cx="441.9" cy="377.0" r="0.70" fill="#d890c4"/><circle cx="426.4" cy="371.6" r="0.71" fill="#ecbcdc"/><circle cx="394.5" cy="394.7" r="0.62" fill="#e4a4d0"/><circle cx="465.1" cy="370.2" r="0.50" fill="#b87cb4"/><circle cx="443.4" cy="384.9" r="0.73" fill="#d890c4"/><circle cx="440.2" cy="401.4" r="0.88" fill="#d890c4"/><circle cx="499.4" cy="335.9" r="0.69" fill="#d890c4"/><circle cx="473.1" cy="375.2" r="1.03" fill="#d890c4"/><circle cx="478.1" cy="368.9" r="0.60" fill="#e09ccc"/><circle cx="477.6" cy="385.9" r="0.52" fill="#a86ca6"/><circle cx="386.8" cy="395.6" r="0.52" fill="#ecbcdc"/><circle cx="448.3" cy="404.3" r="0.59" fill="#a86ca6"/><circle cx="465.7" cy="396.1" r="0.65" fill="#d890c4"/><circle cx="401.1" cy="332.6" r="1.05" fill="#ecbcdc"/><circle cx="440.7" cy="395.0" r="0.83" fill="#e8acd6"/><circle cx="485.7" cy="363.0" r="0.66" fill="#d890c4"/><circle cx="379.7" cy="369.0" r="0.58" fill="#d890c4"/><circle cx="440.9" cy="330.6" r="1.07" fill="#ecbcdc"/><circle cx="403.5" cy="395.8" r="0.65" fill="#ecbcdc"/><circle cx="488.9" cy="346.5" r="0.59" fill="#b87cb4"/><circle cx="480.4" cy="397.9" r="0.91" fill="#d890c4"/><circle cx="403.4" cy="335.1" r="0.43" fill="#9c62a0"/><circle cx="403.4" cy="331.4" r="0.56" fill="#a86ca6"/><circle cx="436.8" cy="330.6" r="0.40" fill="#a86ca6"/><circle cx="511.5" cy="364.6" r="0.70" fill="#e8acd6"/><circle cx="385.8" cy="387.9" r="0.54" fill="#a86ca6"/><circle cx="497.9" cy="348.7" r="0.51" fill="#e8acd6"/><circle cx="429.7" cy="402.7" r="0.70" fill="#a86ca6"/><circle cx="439.8" cy="387.5" r="1.09" fill="#ecbcdc"/><circle cx="430.2" cy="401.7" r="0.60" fill="#e09ccc"/><circle cx="477.7" cy="371.0" r="0.54" fill="#9c62a0"/><circle cx="404.8" cy="396.2" r="0.63" fill="#e09ccc"/><circle cx="410.8" cy="402.3" r="0.91" fill="#e4a4d0"/><circle cx="399.0" cy="387.5" r="0.55" fill="#b87cb4"/><circle cx="460.9" cy="399.4" r="0.88" fill="#e09ccc"/><circle cx="425.8" cy="341.5" r="0.56" fill="#ecbcdc"/><circle cx="409.4" cy="403.2" r="0.95" fill="#ecbcdc"/><circle cx="476.2" cy="331.6" r="0.93" fill="#d890c4"/><circle cx="403.2" cy="355.9" r="0.67" fill="#e4a4d0"/><circle cx="399.0" cy="352.1" r="0.51" fill="#a86ca6"/><circle cx="481.9" cy="367.7" r="1.03" fill="#e4a4d0"/><circle cx="430.0" cy="369.1" r="0.83" fill="#e4a4d0"/><circle cx="416.1" cy="360.6" r="0.56" fill="#e09ccc"/><circle cx="384.1" cy="400.0" r="0.41" fill="#a86ca6"/><circle cx="459.2" cy="335.3" r="0.63" fill="#ecbcdc"/><circle cx="463.6" cy="356.9" r="1.03" fill="#d890c4"/><circle cx="388.7" cy="346.1" r="0.56" fill="#e8acd6"/><circle cx="449.3" cy="344.1" r="0.65" fill="#e8acd6"/><circle cx="480.6" cy="373.0" r="0.92" fill="#ecbcdc"/><circle cx="496.2" cy="342.4" r="0.52" fill="#9c62a0"/><circle cx="438.7" cy="401.6" r="0.41" fill="#9c62a0"/><circle cx="457.8" cy="368.6" r="0.68" fill="#e8acd6"/><circle cx="390.9" cy="364.3" r="0.48" fill="#b87cb4"/><circle cx="411.7" cy="349.1" r="0.84" fill="#e4a4d0"/><circle cx="500.8" cy="384.8" r="0.98" fill="#e8acd6"/><circle cx="443.5" cy="397.1" r="0.99" fill="#e09ccc"/><circle cx="457.8" cy="352.4" r="0.85" fill="#e09ccc"/><circle cx="482.4" cy="398.8" r="1.03" fill="#ecbcdc"/><circle cx="379.8" cy="388.0" r="0.68" fill="#e09ccc"/><circle cx="511.4" cy="402.4" r="0.85" fill="#e09ccc"/><circle cx="407.9" cy="351.6" r="0.58" fill="#e09ccc"/><circle cx="441.8" cy="385.6" r="0.66" fill="#ecbcdc"/><circle cx="445.3" cy="387.7" r="0.44" fill="#b87cb4"/><circle cx="453.2" cy="404.4" r="0.65" fill="#d890c4"/><circle cx="482.0" cy="354.1" r="0.55" fill="#ecbcdc"/><circle cx="434.8" cy="356.0" r="0.86" fill="#e09ccc"/><circle cx="481.1" cy="342.6" r="0.99" fill="#ecbcdc"/><circle cx="409.5" cy="381.1" r="0.62" fill="#a86ca6"/><circle cx="393.3" cy="334.1" r="1.06" fill="#d890c4"/><circle cx="380.1" cy="381.8" r="0.54" fill="#a86ca6"/><circle cx="461.5" cy="404.0" r="0.90" fill="#ecbcdc"/><circle cx="401.0" cy="351.2" r="0.87" fill="#e09ccc"/><circle cx="440.4" cy="400.5" r="0.60" fill="#b87cb4"/><circle cx="380.8" cy="394.7" r="0.64" fill="#ecbcdc"/><circle cx="446.2" cy="382.9" r="0.79" fill="#e4a4d0"/><circle cx="449.3" cy="343.9" r="0.77" fill="#e09ccc"/><circle cx="383.6" cy="398.8" r="0.79" fill="#e8acd6"/><circle cx="380.8" cy="381.0" r="0.68" fill="#e4a4d0"/><circle cx="415.1" cy="334.6" r="0.52" fill="#a86ca6"/><circle cx="504.3" cy="400.8" r="0.50" fill="#9c62a0"/><circle cx="466.0" cy="336.5" r="1.08" fill="#e4a4d0"/><circle cx="405.3" cy="340.3" r="1.04" fill="#e8acd6"/><circle cx="387.4" cy="369.8" r="0.61" fill="#e8acd6"/><circle cx="475.4" cy="387.1" r="0.75" fill="#ecbcdc"/><circle cx="403.4" cy="339.8" r="0.70" fill="#b87cb4"/><circle cx="413.9" cy="372.3" r="0.47" fill="#b87cb4"/><circle cx="381.8" cy="335.9" r="0.58" fill="#e4a4d0"/><circle cx="440.9" cy="378.5" r="0.52" fill="#9c62a0"/><circle cx="480.4" cy="331.1" r="0.52" fill="#b87cb4"/><circle cx="401.9" cy="401.2" r="0.87" fill="#d890c4"/><circle cx="474.4" cy="359.4" r="0.82" fill="#e09ccc"/><circle cx="384.0" cy="404.3" r="0.74" fill="#e09ccc"/><circle cx="419.0" cy="391.7" r="0.75" fill="#e4a4d0"/><circle cx="501.0" cy="381.5" r="0.78" fill="#ecbcdc"/><circle cx="390.4" cy="367.3" r="0.58" fill="#b87cb4"/><circle cx="381.6" cy="363.8" r="1.04" fill="#ecbcdc"/><circle cx="390.3" cy="354.2" r="0.93" fill="#e8acd6"/><circle cx="474.2" cy="339.2" r="0.53" fill="#9c62a0"/><circle cx="389.7" cy="382.8" r="1.09" fill="#e4a4d0"/><circle cx="480.9" cy="398.1" r="0.90" fill="#e8acd6"/><circle cx="399.9" cy="340.8" r="0.53" fill="#d890c4"/><circle cx="379.1" cy="395.8" r="0.58" fill="#9c62a0"/><circle cx="438.9" cy="363.0" r="0.50" fill="#e4a4d0"/><circle cx="415.4" cy="376.9" r="0.62" fill="#e8acd6"/><circle cx="398.1" cy="378.7" r="0.66" fill="#b87cb4"/><circle cx="390.0" cy="338.1" r="0.60" fill="#d890c4"/><circle cx="483.4" cy="343.2" r="0.85" fill="#e09ccc"/><circle cx="390.7" cy="352.3" r="0.73" fill="#e09ccc"/><circle cx="479.6" cy="392.9" r="0.54" fill="#a86ca6"/><circle cx="392.9" cy="384.4" r="1.09" fill="#ecbcdc"/><circle cx="475.0" cy="375.1" r="0.92" fill="#ecbcdc"/><circle cx="459.6" cy="353.6" r="1.10" fill="#d890c4"/><circle cx="496.3" cy="347.4" r="0.46" fill="#a86ca6"/><circle cx="381.5" cy="376.7" r="0.65" fill="#b87cb4"/><circle cx="511.7" cy="360.9" r="0.84" fill="#e8acd6"/><circle cx="379.8" cy="345.0" r="0.64" fill="#9c62a0"/><circle cx="393.5" cy="354.9" r="0.84" fill="#e09ccc"/><circle cx="489.4" cy="344.5" r="1.05" fill="#ecbcdc"/><circle cx="442.6" cy="376.8" r="0.82" fill="#d890c4"/><circle cx="440.0" cy="390.7" r="0.53" fill="#e4a4d0"/><circle cx="449.8" cy="345.5" r="0.98" fill="#d890c4"/><circle cx="387.1" cy="341.1" r="0.70" fill="#ecbcdc"/><circle cx="430.3" cy="374.4" r="0.95" fill="#d890c4"/><circle cx="495.4" cy="357.7" r="0.68" fill="#e4a4d0"/><circle cx="482.1" cy="398.1" r="0.51" fill="#ecbcdc"/><circle cx="499.1" cy="341.5" r="0.79" fill="#e4a4d0"/><circle cx="391.4" cy="403.3" r="1.10" fill="#e8acd6"/><circle cx="448.0" cy="330.3" r="0.91" fill="#e4a4d0"/><circle cx="392.1" cy="387.2" r="0.51" fill="#d890c4"/><circle cx="416.6" cy="369.7" r="0.90" fill="#d890c4"/><circle cx="398.2" cy="350.4" r="0.59" fill="#b87cb4"/><circle cx="392.0" cy="370.5" r="0.66" fill="#d890c4"/><circle cx="382.2" cy="397.4" r="0.52" fill="#a86ca6"/><circle cx="460.6" cy="353.3" r="0.93" fill="#e4a4d0"/><circle cx="388.8" cy="398.8" r="0.84" fill="#e09ccc"/><circle cx="486.8" cy="398.6" r="0.77" fill="#ecbcdc"/><circle cx="441.1" cy="400.7" r="0.67" fill="#9c62a0"/><circle cx="438.8" cy="332.3" r="0.71" fill="#ecbcdc"/><circle cx="473.7" cy="338.0" r="0.54" fill="#d890c4"/><circle cx="461.2" cy="370.9" r="0.70" fill="#e4a4d0"/><circle cx="435.9" cy="403.1" r="0.71" fill="#e8acd6"/><circle cx="401.4" cy="380.0" r="0.93" fill="#ecbcdc"/><circle cx="393.6" cy="374.5" r="0.56" fill="#ecbcdc"/><circle cx="401.8" cy="401.3" r="0.43" fill="#b87cb4"/><circle cx="481.3" cy="358.3" r="0.90" fill="#e09ccc"/><circle cx="407.4" cy="340.4" r="0.95" fill="#e09ccc"/><circle cx="479.4" cy="379.3" r="0.67" fill="#e4a4d0"/><circle cx="419.0" cy="400.4" r="1.09" fill="#d890c4"/><circle cx="446.4" cy="393.2" r="0.54" fill="#e4a4d0"/><circle cx="507.5" cy="330.1" r="1.09" fill="#e09ccc"/><circle cx="472.0" cy="359.4" r="0.73" fill="#ecbcdc"/><circle cx="436.4" cy="345.8" r="0.44" fill="#b87cb4"/><circle cx="398.9" cy="404.4" r="0.58" fill="#e09ccc"/><circle cx="466.1" cy="402.7" r="0.44" fill="#9c62a0"/><circle cx="502.5" cy="376.5" r="0.75" fill="#ecbcdc"/><circle cx="379.3" cy="367.2" r="0.93" fill="#d890c4"/><circle cx="393.4" cy="365.9" r="0.59" fill="#e4a4d0"/><circle cx="509.6" cy="403.4" r="0.78" fill="#e09ccc"/><circle cx="469.6" cy="370.2" r="0.87" fill="#d890c4"/><circle cx="449.7" cy="330.8" r="1.04" fill="#e4a4d0"/><circle cx="476.3" cy="361.4" r="0.67" fill="#e09ccc"/><circle cx="471.1" cy="374.6" r="0.97" fill="#d890c4"/><circle cx="386.5" cy="365.3" r="0.42" fill="#9c62a0"/><circle cx="389.3" cy="367.7" r="0.67" fill="#e8acd6"/><circle cx="477.3" cy="375.0" r="0.94" fill="#ecbcdc"/><circle cx="427.7" cy="343.1" r="0.64" fill="#e8acd6"/><circle cx="485.0" cy="394.3" r="0.55" fill="#e8acd6"/><circle cx="413.6" cy="391.1" r="0.54" fill="#9c62a0"/><circle cx="379.9" cy="399.2" r="0.91" fill="#e4a4d0"/><circle cx="469.5" cy="333.1" r="0.88" fill="#ecbcdc"/><circle cx="414.4" cy="389.9" r="0.58" fill="#9c62a0"/><circle cx="481.5" cy="385.9" r="0.85" fill="#e8acd6"/><circle cx="447.7" cy="380.6" r="0.51" fill="#e09ccc"/><circle cx="489.3" cy="330.9" r="0.43" fill="#9c62a0"/><circle cx="425.2" cy="384.1" r="0.41" fill="#b87cb4"/><circle cx="390.6" cy="400.0" r="1.00" fill="#e4a4d0"/><circle cx="463.5" cy="382.8" r="0.66" fill="#a86ca6"/><circle cx="428.5" cy="387.0" r="0.98" fill="#e8acd6"/><circle cx="497.9" cy="381.9" r="0.54" fill="#a86ca6"/><circle cx="482.0" cy="358.6" r="0.54" fill="#d890c4"/><circle cx="402.1" cy="335.2" r="0.62" fill="#ecbcdc"/><circle cx="480.9" cy="346.3" r="1.05" fill="#d890c4"/><circle cx="392.1" cy="335.4" r="0.65" fill="#ecbcdc"/><circle cx="380.8" cy="367.1" r="0.50" fill="#e09ccc"/><circle cx="503.8" cy="366.6" r="1.01" fill="#e09ccc"/><circle cx="450.4" cy="330.2" r="0.99" fill="#ecbcdc"/><circle cx="394.5" cy="369.9" r="0.70" fill="#d890c4"/><circle cx="431.8" cy="377.2" r="0.55" fill="#e4a4d0"/><circle cx="479.8" cy="351.6" r="0.57" fill="#9c62a0"/><circle cx="466.5" cy="352.3" r="0.56" fill="#d890c4"/><circle cx="443.2" cy="396.0" r="0.61" fill="#e09ccc"/><circle cx="404.1" cy="383.7" r="0.79" fill="#e09ccc"/><circle cx="507.1" cy="390.6" r="0.50" fill="#9c62a0"/><circle cx="483.5" cy="333.2" r="0.64" fill="#b87cb4"/><circle cx="387.9" cy="384.9" r="0.51" fill="#e4a4d0"/><circle cx="384.4" cy="382.3" r="0.45" fill="#a86ca6"/><circle cx="460.5" cy="334.7" r="0.50" fill="#b87cb4"/><circle cx="468.9" cy="354.2" r="0.85" fill="#e8acd6"/><circle cx="421.2" cy="402.0" r="0.41" fill="#a86ca6"/><circle cx="423.1" cy="339.0" r="0.52" fill="#b87cb4"/><circle cx="427.7" cy="342.3" r="0.57" fill="#a86ca6"/><circle cx="391.6" cy="393.2" r="0.97" fill="#e09ccc"/><circle cx="495.7" cy="336.0" r="0.68" fill="#b87cb4"/><circle cx="465.3" cy="396.2" r="0.98" fill="#ecbcdc"/><circle cx="448.1" cy="360.7" r="0.52" fill="#e8acd6"/><circle cx="452.8" cy="344.3" r="1.09" fill="#e4a4d0"/><circle cx="426.6" cy="386.8" r="0.63" fill="#e8acd6"/><circle cx="415.2" cy="344.5" r="0.91" fill="#ecbcdc"/><circle cx="385.5" cy="357.2" r="0.48" fill="#b87cb4"/><circle cx="485.8" cy="386.6" r="0.62" fill="#b87cb4"/><circle cx="401.8" cy="388.6" r="0.57" fill="#e8acd6"/><circle cx="474.6" cy="374.2" r="0.62" fill="#d890c4"/><circle cx="409.0" cy="338.2" r="0.47" fill="#9c62a0"/><circle cx="494.4" cy="358.0" r="0.54" fill="#9c62a0"/><circle cx="385.6" cy="362.5" r="0.58" fill="#a86ca6"/><circle cx="430.0" cy="340.2" r="0.88" fill="#d890c4"/><circle cx="405.3" cy="339.5" r="0.54" fill="#e8acd6"/><circle cx="393.1" cy="364.7" r="0.96" fill="#e8acd6"/><circle cx="492.7" cy="366.5" r="1.00" fill="#d890c4"/><circle cx="380.2" cy="361.9" r="0.65" fill="#ecbcdc"/><circle cx="455.7" cy="396.5" r="0.59" fill="#e4a4d0"/><circle cx="498.2" cy="361.2" r="0.70" fill="#b87cb4"/><circle cx="480.9" cy="332.5" r="0.79" fill="#e09ccc"/><circle cx="438.7" cy="347.9" r="0.51" fill="#ecbcdc"/><circle cx="464.8" cy="336.8" r="0.68" fill="#ecbcdc"/><circle cx="492.8" cy="385.7" r="0.54" fill="#a86ca6"/><circle cx="495.0" cy="360.2" r="0.72" fill="#ecbcdc"/><circle cx="472.3" cy="330.1" r="0.73" fill="#d890c4"/><circle cx="449.2" cy="352.1" r="0.92" fill="#e4a4d0"/><circle cx="389.1" cy="395.7" r="0.53" fill="#d890c4"/><circle cx="496.8" cy="338.3" r="0.87" fill="#d890c4"/><circle cx="427.2" cy="378.4" r="0.84" fill="#e8acd6"/><circle cx="396.8" cy="355.0" r="0.89" fill="#e4a4d0"/><circle cx="494.6" cy="382.4" r="0.96" fill="#d890c4"/><circle cx="415.3" cy="334.7" r="0.79" fill="#e4a4d0"/><circle cx="427.4" cy="380.2" r="1.09" fill="#e09ccc"/><circle cx="403.4" cy="395.9" r="0.52" fill="#a86ca6"/><circle cx="416.8" cy="401.4" r="0.48" fill="#b87cb4"/><circle cx="505.4" cy="331.7" r="0.91" fill="#e8acd6"/><circle cx="441.6" cy="361.3" r="0.51" fill="#e8acd6"/><circle cx="386.7" cy="395.0" r="0.68" fill="#b87cb4"/><circle cx="423.1" cy="373.2" r="0.97" fill="#ecbcdc"/><circle cx="437.7" cy="352.7" r="0.64" fill="#a86ca6"/><circle cx="483.7" cy="346.9" r="0.67" fill="#e09ccc"/><circle cx="398.1" cy="351.2" r="0.87" fill="#e8acd6"/><circle cx="473.3" cy="351.3" r="0.92" fill="#e8acd6"/><circle cx="399.8" cy="338.7" r="0.84" fill="#ecbcdc"/><circle cx="413.1" cy="343.8" r="0.52" fill="#d890c4"/><circle cx="508.9" cy="341.0" r="1.09" fill="#e4a4d0"/><circle cx="421.0" cy="330.3" r="1.09" fill="#d890c4"/><circle cx="464.7" cy="352.0" r="1.08" fill="#e4a4d0"/><circle cx="442.2" cy="333.0" r="0.57" fill="#e09ccc"/><circle cx="390.6" cy="334.1" r="0.85" fill="#e8acd6"/><circle cx="482.6" cy="387.2" r="0.43" fill="#9c62a0"/><circle cx="468.7" cy="401.4" r="0.74" fill="#ecbcdc"/><circle cx="420.7" cy="375.1" r="1.05" fill="#d890c4"/><circle cx="431.4" cy="383.4" r="0.73" fill="#e09ccc"/><circle cx="416.3" cy="356.2" r="1.02" fill="#e09ccc"/><circle cx="407.1" cy="396.2" r="0.75" fill="#ecbcdc"/><circle cx="416.8" cy="390.1" r="0.75" fill="#ecbcdc"/><circle cx="396.9" cy="373.8" r="0.46" fill="#9c62a0"/><circle cx="510.2" cy="369.2" r="1.06" fill="#e4a4d0"/><circle cx="479.2" cy="336.6" r="1.05" fill="#ecbcdc"/><circle cx="416.9" cy="366.6" r="0.68" fill="#e4a4d0"/><circle cx="381.9" cy="330.2" r="0.69" fill="#b87cb4"/><circle cx="441.4" cy="378.8" r="0.75" fill="#ecbcdc"/><circle cx="480.4" cy="366.8" r="0.86" fill="#d890c4"/><circle cx="394.3" cy="368.2" r="1.01" fill="#e8acd6"/><circle cx="470.9" cy="356.7" r="0.51" fill="#b87cb4"/><circle cx="480.6" cy="343.7" r="0.63" fill="#b87cb4"/><circle cx="426.7" cy="369.9" r="0.59" fill="#e8acd6"/><circle cx="447.5" cy="357.8" r="0.70" fill="#e8acd6"/><circle cx="403.5" cy="396.9" r="1.00" fill="#e4a4d0"/><circle cx="491.3" cy="383.2" r="0.98" fill="#ecbcdc"/><circle cx="501.6" cy="365.8" r="0.72" fill="#ecbcdc"/><circle cx="424.0" cy="383.0" r="0.64" fill="#a86ca6"/><circle cx="395.5" cy="381.8" r="0.68" fill="#e8acd6"/><circle cx="395.7" cy="335.9" r="0.97" fill="#e09ccc"/><circle cx="380.8" cy="366.1" r="0.62" fill="#e09ccc"/><circle cx="403.0" cy="356.2" r="0.65" fill="#9c62a0"/><circle cx="445.1" cy="384.4" r="0.57" fill="#a86ca6"/><circle cx="487.7" cy="386.9" r="0.93" fill="#d890c4"/><circle cx="401.2" cy="386.2" r="0.62" fill="#a86ca6"/><circle cx="392.6" cy="392.3" r="0.75" fill="#e4a4d0"/><circle cx="408.7" cy="338.4" r="0.57" fill="#e09ccc"/><circle cx="444.2" cy="358.7" r="0.94" fill="#ecbcdc"/><circle cx="408.5" cy="360.4" r="1.01" fill="#ecbcdc"/><circle cx="468.3" cy="380.1" r="0.81" fill="#e09ccc"/><circle cx="394.2" cy="359.5" r="1.09" fill="#e8acd6"/><circle cx="386.9" cy="402.8" r="0.86" fill="#ecbcdc"/><circle cx="394.7" cy="392.5" r="0.67" fill="#e4a4d0"/><circle cx="505.1" cy="403.7" r="0.59" fill="#ecbcdc"/><circle cx="385.4" cy="335.1" r="1.08" fill="#ecbcdc"/><circle cx="459.0" cy="354.4" r="0.87" fill="#e09ccc"/><circle cx="450.5" cy="331.3" r="1.09" fill="#e09ccc"/><circle cx="439.7" cy="332.5" r="1.02" fill="#d890c4"/><circle cx="496.4" cy="342.2" r="0.69" fill="#ecbcdc"/><circle cx="466.4" cy="381.1" r="0.79" fill="#e8acd6"/><circle cx="445.9" cy="359.2" r="1.08" fill="#e4a4d0"/><circle cx="386.5" cy="374.0" r="0.51" fill="#b87cb4"/><circle cx="429.1" cy="361.9" r="0.53" fill="#e8acd6"/><circle cx="411.4" cy="378.3" r="1.05" fill="#e09ccc"/><circle cx="494.3" cy="338.5" r="0.56" fill="#a86ca6"/><circle cx="456.8" cy="403.5" r="0.73" fill="#e4a4d0"/><circle cx="391.3" cy="366.4" r="0.62" fill="#ecbcdc"/><circle cx="445.4" cy="387.1" r="0.87" fill="#d890c4"/><circle cx="508.3" cy="335.6" r="0.63" fill="#d890c4"/><circle cx="384.6" cy="404.3" r="0.64" fill="#e09ccc"/><circle cx="474.1" cy="373.1" r="0.66" fill="#e4a4d0"/><circle cx="485.7" cy="362.3" r="0.62" fill="#ecbcdc"/><circle cx="447.2" cy="343.9" r="0.90" fill="#ecbcdc"/><circle cx="414.1" cy="377.6" r="1.01" fill="#ecbcdc"/><circle cx="503.1" cy="384.2" r="0.46" fill="#9c62a0"/><circle cx="418.4" cy="362.5" r="1.00" fill="#e09ccc"/><circle cx="382.0" cy="389.5" r="0.79" fill="#ecbcdc"/><circle cx="414.7" cy="332.2" r="0.67" fill="#e4a4d0"/><circle cx="401.8" cy="393.6" r="0.51" fill="#e09ccc"/><circle cx="420.2" cy="352.2" r="0.69" fill="#9c62a0"/><circle cx="468.0" cy="396.1" r="1.00" fill="#e8acd6"/><circle cx="394.4" cy="379.6" r="0.97" fill="#e4a4d0"/><circle cx="411.9" cy="396.0" r="0.44" fill="#9c62a0"/><circle cx="422.3" cy="373.6" r="0.95" fill="#e8acd6"/><circle cx="406.9" cy="350.5" r="1.02" fill="#e09ccc"/><circle cx="443.8" cy="358.0" r="0.69" fill="#ecbcdc"/><circle cx="441.7" cy="348.4" r="0.64" fill="#a86ca6"/><circle cx="426.8" cy="383.4" r="0.51" fill="#e4a4d0"/><circle cx="382.9" cy="385.2" r="0.53" fill="#e8acd6"/><circle cx="449.7" cy="347.6" r="0.50" fill="#ecbcdc"/><circle cx="503.3" cy="386.4" r="0.66" fill="#a86ca6"/><circle cx="480.7" cy="360.3" r="0.66" fill="#9c62a0"/><circle cx="441.2" cy="360.8" r="0.93" fill="#e09ccc"/><circle cx="488.4" cy="382.1" r="0.71" fill="#e4a4d0"/><circle cx="475.7" cy="370.9" r="0.92" fill="#e09ccc"/><circle cx="463.9" cy="330.2" r="0.49" fill="#b87cb4"/><circle cx="389.3" cy="341.8" r="1.08" fill="#e8acd6"/><circle cx="420.9" cy="365.7" r="0.66" fill="#e4a4d0"/><circle cx="433.6" cy="343.6" r="1.07" fill="#e4a4d0"/><circle cx="408.3" cy="400.7" r="0.89" fill="#e8acd6"/><circle cx="499.4" cy="402.7" r="0.61" fill="#a86ca6"/><circle cx="384.9" cy="376.1" r="0.59" fill="#d890c4"/><circle cx="401.0" cy="372.3" r="0.56" fill="#9c62a0"/><circle cx="405.4" cy="400.6" r="0.66" fill="#ecbcdc"/><circle cx="407.1" cy="391.5" r="0.61" fill="#e8acd6"/><circle cx="432.8" cy="340.9" r="0.48" fill="#b87cb4"/><circle cx="438.5" cy="348.5" r="0.89" fill="#e09ccc"/><circle cx="379.7" cy="339.9" r="0.92" fill="#e8acd6"/><circle cx="473.5" cy="382.9" r="0.65" fill="#e09ccc"/><circle cx="452.7" cy="333.9" r="0.78" fill="#d890c4"/><circle cx="511.4" cy="400.1" r="0.86" fill="#e09ccc"/><circle cx="379.0" cy="367.6" r="1.09" fill="#d890c4"/><circle cx="396.0" cy="396.6" r="0.45" fill="#a86ca6"/><circle cx="395.9" cy="353.7" r="0.59" fill="#e09ccc"/><circle cx="420.1" cy="403.0" r="1.08" fill="#d890c4"/><circle cx="413.5" cy="353.4" r="0.69" fill="#ecbcdc"/><circle cx="480.3" cy="341.3" r="0.89" fill="#ecbcdc"/><circle cx="385.4" cy="341.1" r="0.41" fill="#9c62a0"/><circle cx="400.1" cy="364.8" r="0.67" fill="#9c62a0"/><circle cx="383.7" cy="356.6" r="0.79" fill="#ecbcdc"/><circle cx="393.3" cy="383.7" r="0.50" fill="#a86ca6"/><circle cx="494.2" cy="343.5" r="0.55" fill="#9c62a0"/><circle cx="511.5" cy="330.3" r="0.61" fill="#e09ccc"/><circle cx="422.2" cy="351.2" r="0.51" fill="#a86ca6"/><circle cx="490.0" cy="341.5" r="0.65" fill="#b87cb4"/><circle cx="442.4" cy="376.9" r="0.60" fill="#9c62a0"/><circle cx="507.8" cy="379.0" r="0.94" fill="#e4a4d0"/><circle cx="395.6" cy="394.4" r="0.67" fill="#e09ccc"/><circle cx="477.6" cy="370.8" r="0.56" fill="#d890c4"/><circle cx="402.1" cy="402.0" r="0.55" fill="#e8acd6"/><circle cx="400.1" cy="388.2" r="0.63" fill="#b87cb4"/><circle cx="398.9" cy="352.3" r="0.94" fill="#d890c4"/><circle cx="391.1" cy="357.4" r="0.53" fill="#9c62a0"/><circle cx="479.3" cy="390.5" r="0.76" fill="#ecbcdc"/><circle cx="390.7" cy="368.3" r="0.91" fill="#e8acd6"/><circle cx="502.5" cy="369.3" r="0.55" fill="#ecbcdc"/><circle cx="398.1" cy="339.5" r="1.00" fill="#e4a4d0"/><circle cx="433.4" cy="364.7" r="0.99" fill="#d890c4"/><circle cx="412.3" cy="336.1" r="0.57" fill="#ecbcdc"/><circle cx="402.3" cy="343.6" r="0.55" fill="#d890c4"/><circle cx="438.4" cy="390.3" r="1.05" fill="#e8acd6"/><circle cx="406.5" cy="335.8" r="0.66" fill="#e09ccc"/><circle cx="436.2" cy="331.3" r="0.51" fill="#ecbcdc"/><circle cx="439.7" cy="360.2" r="0.95" fill="#ecbcdc"/><circle cx="418.7" cy="390.7" r="0.91" fill="#ecbcdc"/><circle cx="403.4" cy="332.0" r="0.59" fill="#e8acd6"/><circle cx="403.8" cy="352.4" r="0.78" fill="#e09ccc"/><circle cx="393.8" cy="397.3" r="0.77" fill="#ecbcdc"/><circle cx="441.2" cy="394.1" r="0.62" fill="#e4a4d0"/><circle cx="392.0" cy="393.2" r="0.75" fill="#ecbcdc"/><circle cx="476.7" cy="374.4" r="0.67" fill="#ecbcdc"/><circle cx="431.7" cy="368.3" r="1.06" fill="#ecbcdc"/><circle cx="409.3" cy="334.5" r="0.57" fill="#b87cb4"/><circle cx="386.8" cy="396.6" r="0.78" fill="#ecbcdc"/><circle cx="440.9" cy="362.7" r="0.85" fill="#d890c4"/><circle cx="440.8" cy="395.9" r="0.73" fill="#ecbcdc"/><circle cx="484.6" cy="389.7" r="0.87" fill="#d890c4"/><circle cx="470.5" cy="336.4" r="0.60" fill="#e8acd6"/><circle cx="384.6" cy="331.4" r="0.71" fill="#e8acd6"/><circle cx="401.6" cy="394.1" r="0.98" fill="#d890c4"/><circle cx="408.2" cy="349.2" r="0.71" fill="#e09ccc"/><circle cx="481.1" cy="371.6" r="1.01" fill="#e4a4d0"/><circle cx="504.6" cy="389.6" r="1.08" fill="#e4a4d0"/><circle cx="475.5" cy="382.8" r="0.80" fill="#e09ccc"/><circle cx="398.9" cy="357.1" r="0.57" fill="#e8acd6"/><circle cx="436.9" cy="361.0" r="0.65" fill="#ecbcdc"/><circle cx="428.0" cy="386.3" r="0.90" fill="#e8acd6"/><circle cx="478.9" cy="369.5" r="0.58" fill="#ecbcdc"/><circle cx="433.5" cy="360.5" r="1.01" fill="#d890c4"/><circle cx="504.3" cy="363.0" r="0.93" fill="#e4a4d0"/><circle cx="504.3" cy="336.3" r="1.09" fill="#e8acd6"/><circle cx="436.2" cy="359.3" r="0.68" fill="#a86ca6"/><circle cx="498.8" cy="334.3" r="0.93" fill="#e4a4d0"/><circle cx="432.2" cy="378.0" r="0.87" fill="#e4a4d0"/><circle cx="465.3" cy="382.0" r="0.97" fill="#ecbcdc"/><circle cx="481.8" cy="395.7" r="0.56" fill="#9c62a0"/><circle cx="475.1" cy="385.2" r="0.70" fill="#9c62a0"/><circle cx="423.8" cy="377.4" r="0.67" fill="#b87cb4"/><circle cx="475.3" cy="403.6" r="0.42" fill="#9c62a0"/><circle cx="454.7" cy="330.4" r="0.64" fill="#e4a4d0"/><circle cx="453.8" cy="396.7" r="0.82" fill="#e4a4d0"/><circle cx="409.5" cy="352.3" r="0.99" fill="#e4a4d0"/><circle cx="468.1" cy="383.3" r="0.65" fill="#d890c4"/><circle cx="447.2" cy="344.4" r="0.77" fill="#e8acd6"/><circle cx="386.6" cy="396.3" r="0.77" fill="#d890c4"/><circle cx="468.7" cy="360.0" r="0.97" fill="#d890c4"/><circle cx="456.3" cy="377.5" r="1.07" fill="#ecbcdc"/><circle cx="473.2" cy="339.7" r="1.02" fill="#e09ccc"/><circle cx="471.0" cy="364.0" r="0.45" fill="#b87cb4"/><circle cx="427.6" cy="401.0" r="0.75" fill="#e09ccc"/><circle cx="394.0" cy="352.7" r="0.68" fill="#e09ccc"/><circle cx="384.8" cy="396.7" r="0.63" fill="#ecbcdc"/><circle cx="378.6" cy="370.8" r="0.41" fill="#9c62a0"/><circle cx="482.6" cy="365.5" r="0.86" fill="#e8acd6"/><circle cx="464.5" cy="394.6" r="0.84" fill="#d890c4"/><circle cx="453.2" cy="339.2" r="0.62" fill="#e4a4d0"/><circle cx="450.6" cy="386.5" r="0.95" fill="#e4a4d0"/><circle cx="498.0" cy="339.0" r="0.61" fill="#e09ccc"/><circle cx="415.0" cy="345.4" r="1.00" fill="#e4a4d0"/><circle cx="431.9" cy="333.4" r="0.51" fill="#ecbcdc"/><circle cx="402.4" cy="331.8" r="0.73" fill="#e09ccc"/><circle cx="393.6" cy="337.4" r="0.44" fill="#9c62a0"/><circle cx="480.9" cy="341.5" r="0.91" fill="#e09ccc"/><circle cx="460.3" cy="354.3" r="0.42" fill="#9c62a0"/><circle cx="391.5" cy="340.6" r="0.65" fill="#e09ccc"/><circle cx="385.2" cy="347.9" r="0.64" fill="#e4a4d0"/><circle cx="386.4" cy="364.7" r="0.79" fill="#ecbcdc"/><circle cx="462.9" cy="398.2" r="0.57" fill="#b87cb4"/><circle cx="389.5" cy="377.4" r="0.69" fill="#9c62a0"/><circle cx="450.4" cy="342.5" r="0.69" fill="#b87cb4"/><circle cx="438.6" cy="330.1" r="1.00" fill="#d890c4"/><circle cx="469.1" cy="404.5" r="0.63" fill="#e4a4d0"/><circle cx="387.6" cy="336.7" r="1.00" fill="#e4a4d0"/><circle cx="445.7" cy="389.8" r="1.07" fill="#d890c4"/><circle cx="466.7" cy="354.0" r="0.69" fill="#9c62a0"/><circle cx="380.4" cy="381.6" r="0.50" fill="#ecbcdc"/><circle cx="378.9" cy="330.7" r="0.57" fill="#b87cb4"/><circle cx="382.4" cy="392.1" r="0.90" fill="#d890c4"/><circle cx="509.6" cy="339.3" r="0.62" fill="#e09ccc"/><circle cx="407.9" cy="331.5" r="0.68" fill="#9c62a0"/><circle cx="486.2" cy="346.5" r="1.08" fill="#e09ccc"/><circle cx="387.0" cy="339.6" r="0.48" fill="#b87cb4"/><circle cx="414.9" cy="393.2" r="0.69" fill="#b87cb4"/><circle cx="449.4" cy="348.9" r="0.77" fill="#ecbcdc"/><circle cx="503.6" cy="362.3" r="0.60" fill="#9c62a0"/><circle cx="474.6" cy="333.5" r="0.82" fill="#d890c4"/><circle cx="379.0" cy="344.5" r="0.57" fill="#a86ca6"/><circle cx="422.3" cy="334.7" r="0.52" fill="#ecbcdc"/><circle cx="422.9" cy="348.7" r="0.47" fill="#9c62a0"/><circle cx="409.9" cy="335.4" r="0.76" fill="#e09ccc"/><circle cx="491.5" cy="334.9" r="0.68" fill="#9c62a0"/><circle cx="385.6" cy="375.6" r="0.56" fill="#e09ccc"/><circle cx="453.0" cy="352.0" r="0.56" fill="#ecbcdc"/><circle cx="379.7" cy="358.6" r="1.03" fill="#e4a4d0"/><circle cx="391.8" cy="378.6" r="0.52" fill="#e4a4d0"/><circle cx="422.1" cy="344.4" r="0.58" fill="#a86ca6"/><circle cx="395.1" cy="368.0" r="0.79" fill="#e4a4d0"/><circle cx="437.7" cy="348.1" r="0.54" fill="#d890c4"/><circle cx="426.1" cy="373.5" r="0.59" fill="#ecbcdc"/><circle cx="379.4" cy="373.7" r="0.53" fill="#e4a4d0"/><circle cx="424.2" cy="402.8" r="0.62" fill="#e09ccc"/><circle cx="423.9" cy="379.8" r="1.09" fill="#e4a4d0"/><circle cx="392.3" cy="395.4" r="0.80" fill="#e09ccc"/><circle cx="379.6" cy="356.7" r="0.59" fill="#ecbcdc"/><circle cx="384.2" cy="332.2" r="0.45" fill="#9c62a0"/><circle cx="474.3" cy="355.4" r="0.61" fill="#e09ccc"/><circle cx="401.8" cy="349.5" r="0.65" fill="#a86ca6"/><circle cx="428.9" cy="388.7" r="0.68" fill="#9c62a0"/><circle cx="439.2" cy="357.6" r="0.60" fill="#e4a4d0"/><circle cx="508.7" cy="404.4" r="1.03" fill="#e09ccc"/><circle cx="394.1" cy="395.9" r="0.46" fill="#b87cb4"/><circle cx="484.5" cy="395.1" r="1.08" fill="#ecbcdc"/><circle cx="406.2" cy="336.1" r="0.90" fill="#e09ccc"/><circle cx="400.7" cy="359.0" r="0.95" fill="#d890c4"/><circle cx="428.2" cy="381.8" r="0.80" fill="#d890c4"/><circle cx="438.7" cy="347.5" r="0.53" fill="#9c62a0"/><circle cx="454.6" cy="399.8" r="0.83" fill="#e8acd6"/><circle cx="478.6" cy="352.0" r="0.64" fill="#e09ccc"/><circle cx="440.4" cy="376.3" r="0.78" fill="#ecbcdc"/><circle cx="381.6" cy="362.9" r="0.42" fill="#a86ca6"/><circle cx="417.6" cy="367.4" r="0.55" fill="#d890c4"/><circle cx="502.0" cy="337.3" r="0.41" fill="#a86ca6"/><circle cx="422.9" cy="380.4" r="0.62" fill="#b87cb4"/><circle cx="491.2" cy="344.2" r="0.58" fill="#e4a4d0"/><circle cx="500.1" cy="330.6" r="0.65" fill="#9c62a0"/><circle cx="379.9" cy="378.8" r="1.07" fill="#ecbcdc"/><circle cx="408.7" cy="384.0" r="0.47" fill="#b87cb4"/><circle cx="483.2" cy="386.5" r="0.78" fill="#e09ccc"/><circle cx="420.1" cy="344.0" r="0.92" fill="#e8acd6"/><circle cx="396.8" cy="395.2" r="0.94" fill="#ecbcdc"/><circle cx="434.3" cy="381.2" r="0.97" fill="#e4a4d0"/><circle cx="382.6" cy="340.4" r="1.10" fill="#e4a4d0"/><circle cx="494.0" cy="403.1" r="0.52" fill="#b87cb4"/><circle cx="401.2" cy="380.3" r="0.65" fill="#b87cb4"/><circle cx="466.4" cy="335.2" r="0.56" fill="#a86ca6"/><circle cx="421.9" cy="397.9" r="1.09" fill="#e8acd6"/><circle cx="441.7" cy="375.0" r="0.85" fill="#e4a4d0"/><circle cx="510.6" cy="363.3" r="0.86" fill="#e8acd6"/><circle cx="416.7" cy="395.7" r="0.92" fill="#d890c4"/><circle cx="433.7" cy="343.4" r="0.76" fill="#ecbcdc"/><circle cx="430.8" cy="400.5" r="0.66" fill="#9c62a0"/><circle cx="387.2" cy="384.2" r="1.05" fill="#ecbcdc"/><circle cx="510.8" cy="371.2" r="0.55" fill="#e09ccc"/><circle cx="445.6" cy="388.2" r="0.60" fill="#e8acd6"/><circle cx="471.0" cy="385.9" r="0.95" fill="#e8acd6"/><circle cx="431.3" cy="330.8" r="0.68" fill="#9c62a0"/><circle cx="467.8" cy="364.6" r="0.55" fill="#e8acd6"/><circle cx="379.8" cy="350.4" r="0.61" fill="#e09ccc"/><circle cx="384.7" cy="377.4" r="0.90" fill="#e09ccc"/><circle cx="378.9" cy="387.6" r="1.06" fill="#d890c4"/><circle cx="382.0" cy="331.1" r="0.91" fill="#e09ccc"/><circle cx="407.7" cy="395.8" r="1.00" fill="#e8acd6"/><circle cx="475.0" cy="333.3" r="0.99" fill="#d890c4"/><circle cx="453.3" cy="344.1" r="0.56" fill="#9c62a0"/><circle cx="401.5" cy="360.0" r="0.73" fill="#ecbcdc"/><circle cx="407.7" cy="379.1" r="0.59" fill="#a86ca6"/><circle cx="387.3" cy="346.3" r="0.86" fill="#e09ccc"/><circle cx="454.3" cy="348.8" r="0.50" fill="#b87cb4"/><circle cx="471.3" cy="380.6" r="0.92" fill="#d890c4"/><circle cx="401.7" cy="386.8" r="1.09" fill="#ecbcdc"/><circle cx="445.5" cy="382.6" r="0.41" fill="#a86ca6"/><circle cx="461.0" cy="334.5" r="0.68" fill="#e8acd6"/><circle cx="428.5" cy="377.9" r="0.62" fill="#9c62a0"/><circle cx="477.0" cy="354.5" r="0.59" fill="#a86ca6"/><circle cx="447.8" cy="402.9" r="0.67" fill="#e09ccc"/><circle cx="408.9" cy="384.7" r="0.62" fill="#e09ccc"/><circle cx="470.1" cy="383.7" r="0.73" fill="#d890c4"/><circle cx="402.8" cy="377.0" r="0.55" fill="#a86ca6"/><circle cx="385.3" cy="404.0" r="0.58" fill="#e8acd6"/><circle cx="457.4" cy="392.0" r="0.42" fill="#b87cb4"/><circle cx="455.3" cy="402.2" r="0.66" fill="#9c62a0"/><circle cx="389.0" cy="402.6" r="0.60" fill="#ecbcdc"/><circle cx="399.1" cy="401.2" r="0.96" fill="#ecbcdc"/><circle cx="492.3" cy="386.6" r="0.86" fill="#e8acd6"/><circle cx="452.1" cy="343.1" r="0.68" fill="#d890c4"/><circle cx="428.4" cy="375.2" r="0.44" fill="#9c62a0"/><circle cx="404.4" cy="398.3" r="0.66" fill="#b87cb4"/><circle cx="503.8" cy="402.4" r="0.79" fill="#e4a4d0"/><circle cx="387.8" cy="396.0" r="0.57" fill="#e4a4d0"/><circle cx="400.0" cy="386.9" r="0.96" fill="#d890c4"/><circle cx="471.3" cy="378.6" r="0.94" fill="#e8acd6"/><circle cx="442.1" cy="398.7" r="0.92" fill="#e09ccc"/><circle cx="471.4" cy="378.1" r="0.54" fill="#b87cb4"/><circle cx="466.8" cy="342.0" r="0.43" fill="#b87cb4"/><circle cx="418.6" cy="402.2" r="0.73" fill="#d890c4"/><circle cx="476.3" cy="386.1" r="1.02" fill="#e09ccc"/><circle cx="397.4" cy="385.9" r="0.74" fill="#d890c4"/><circle cx="379.2" cy="342.6" r="0.56" fill="#ecbcdc"/><circle cx="401.1" cy="357.9" r="0.62" fill="#e8acd6"/><circle cx="486.3" cy="344.3" r="1.02" fill="#ecbcdc"/><circle cx="400.5" cy="351.9" r="0.67" fill="#d890c4"/><circle cx="382.3" cy="347.5" r="0.96" fill="#e09ccc"/><circle cx="386.5" cy="386.1" r="0.57" fill="#a86ca6"/><circle cx="391.2" cy="369.0" r="0.58" fill="#9c62a0"/><circle cx="502.7" cy="365.3" r="0.76" fill="#d890c4"/><circle cx="469.3" cy="355.6" r="0.64" fill="#d890c4"/><circle cx="467.1" cy="358.2" r="0.51" fill="#9c62a0"/><circle cx="485.9" cy="330.2" r="0.74" fill="#e8acd6"/><circle cx="505.3" cy="386.1" r="0.54" fill="#b87cb4"/><circle cx="403.4" cy="403.6" r="0.99" fill="#e09ccc"/><circle cx="462.9" cy="395.2" r="0.94" fill="#ecbcdc"/><circle cx="484.3" cy="356.0" r="0.79" fill="#e09ccc"/><circle cx="476.3" cy="351.9" r="0.44" fill="#b87cb4"/><circle cx="382.5" cy="367.1" r="0.65" fill="#b87cb4"/><circle cx="510.1" cy="364.8" r="1.07" fill="#ecbcdc"/><circle cx="478.9" cy="379.2" r="0.53" fill="#b87cb4"/><circle cx="382.2" cy="399.3" r="0.73" fill="#d890c4"/><circle cx="407.7" cy="349.2" r="1.04" fill="#e09ccc"/><circle cx="467.1" cy="398.8" r="0.80" fill="#d890c4"/><circle cx="474.1" cy="384.9" r="0.89" fill="#e4a4d0"/><circle cx="507.3" cy="362.6" r="0.48" fill="#9c62a0"/><circle cx="390.0" cy="336.6" r="1.06" fill="#e09ccc"/><circle cx="454.8" cy="339.5" r="0.73" fill="#e09ccc"/><circle cx="484.8" cy="399.7" r="0.60" fill="#b87cb4"/><circle cx="439.8" cy="340.8" r="0.80" fill="#ecbcdc"/><circle cx="398.0" cy="351.1" r="1.01" fill="#e09ccc"/><circle cx="458.3" cy="353.0" r="0.57" fill="#e4a4d0"/><circle cx="442.2" cy="391.8" r="0.92" fill="#ecbcdc"/><circle cx="386.2" cy="390.4" r="0.62" fill="#b87cb4"/><circle cx="475.4" cy="352.3" r="1.05" fill="#e8acd6"/><circle cx="510.6" cy="370.9" r="0.91" fill="#d890c4"/><circle cx="416.1" cy="381.9" r="0.66" fill="#9c62a0"/><circle cx="391.3" cy="354.1" r="1.02" fill="#e09ccc"/><circle cx="491.7" cy="382.9" r="0.60" fill="#e8acd6"/><circle cx="406.3" cy="390.0" r="0.60" fill="#9c62a0"/><circle cx="475.2" cy="372.9" r="1.09" fill="#e8acd6"/><circle cx="428.6" cy="403.3" r="0.60" fill="#e09ccc"/><circle cx="391.1" cy="402.7" r="0.42" fill="#b87cb4"/><circle cx="465.1" cy="374.3" r="0.74" fill="#e09ccc"/><circle cx="394.2" cy="359.6" r="0.86" fill="#e8acd6"/><circle cx="465.4" cy="358.0" r="0.98" fill="#e09ccc"/><circle cx="482.1" cy="394.5" r="0.67" fill="#ecbcdc"/><circle cx="427.3" cy="339.0" r="0.55" fill="#b87cb4"/><circle cx="510.1" cy="365.8" r="0.56" fill="#e4a4d0"/><circle cx="386.8" cy="397.8" r="0.61" fill="#e09ccc"/><circle cx="449.1" cy="334.8" r="0.82" fill="#e09ccc"/><circle cx="394.0" cy="394.3" r="0.50" fill="#ecbcdc"/><circle cx="405.8" cy="342.0" r="1.01" fill="#e09ccc"/><circle cx="389.6" cy="339.3" r="0.69" fill="#a86ca6"/><circle cx="434.8" cy="400.5" r="0.49" fill="#b87cb4"/><circle cx="397.0" cy="366.6" r="1.05" fill="#d890c4"/><circle cx="466.8" cy="333.3" r="0.44" fill="#a86ca6"/><circle cx="426.2" cy="339.6" r="0.54" fill="#d890c4"/><circle cx="413.1" cy="378.5" r="0.54" fill="#9c62a0"/><circle cx="468.6" cy="400.1" r="0.46" fill="#b87cb4"/><circle cx="476.1" cy="404.3" r="0.62" fill="#d890c4"/><circle cx="400.2" cy="391.3" r="0.97" fill="#ecbcdc"/><circle cx="381.8" cy="375.0" r="0.44" fill="#a86ca6"/><circle cx="469.6" cy="360.3" r="0.55" fill="#d890c4"/><circle cx="414.8" cy="337.3" r="0.69" fill="#a86ca6"/><circle cx="401.8" cy="384.3" r="0.99" fill="#ecbcdc"/><circle cx="391.1" cy="356.0" r="0.67" fill="#d890c4"/><circle cx="459.4" cy="396.9" r="0.68" fill="#9c62a0"/><circle cx="432.1" cy="374.2" r="0.61" fill="#b87cb4"/><circle cx="399.1" cy="339.4" r="0.94" fill="#e09ccc"/><circle cx="482.1" cy="380.6" r="0.77" fill="#ecbcdc"/><circle cx="415.1" cy="361.9" r="1.03" fill="#e8acd6"/><circle cx="419.0" cy="394.0" r="0.74" fill="#d890c4"/><circle cx="410.3" cy="337.0" r="0.55" fill="#d890c4"/><circle cx="511.5" cy="396.3" r="0.74" fill="#e4a4d0"/><circle cx="511.7" cy="400.5" r="0.53" fill="#ecbcdc"/><circle cx="448.2" cy="346.8" r="0.65" fill="#b87cb4"/><circle cx="425.5" cy="333.8" r="0.60" fill="#e09ccc"/><circle cx="423.4" cy="380.7" r="1.01" fill="#e09ccc"/><circle cx="417.0" cy="366.0" r="0.40" fill="#b87cb4"/><circle cx="454.2" cy="346.2" r="1.06" fill="#e4a4d0"/><circle cx="488.5" cy="332.6" r="0.87" fill="#ecbcdc"/><circle cx="386.0" cy="330.4" r="0.68" fill="#e09ccc"/><circle cx="379.0" cy="396.4" r="0.51" fill="#a86ca6"/><circle cx="435.8" cy="344.7" r="1.04" fill="#ecbcdc"/><circle cx="394.8" cy="366.4" r="0.60" fill="#a86ca6"/><circle cx="441.1" cy="357.9" r="1.04" fill="#e4a4d0"/><circle cx="490.4" cy="342.1" r="0.76" fill="#d890c4"/><circle cx="496.3" cy="382.9" r="0.49" fill="#a86ca6"/><circle cx="431.0" cy="385.5" r="0.60" fill="#e8acd6"/><circle cx="504.9" cy="401.6" r="0.57" fill="#ecbcdc"/><circle cx="430.2" cy="338.2" r="0.41" fill="#a86ca6"/><circle cx="424.2" cy="331.0" r="0.53" fill="#d890c4"/><circle cx="403.2" cy="351.0" r="0.48" fill="#b87cb4"/><circle cx="411.3" cy="391.2" r="0.61" fill="#a86ca6"/><circle cx="471.9" cy="367.5" r="0.70" fill="#b87cb4"/><circle cx="431.9" cy="350.4" r="0.44" fill="#a86ca6"/><circle cx="432.7" cy="352.9" r="0.64" fill="#d890c4"/><circle cx="435.2" cy="334.6" r="0.53" fill="#e09ccc"/><circle cx="434.1" cy="353.9" r="0.41" fill="#a86ca6"/><circle cx="466.5" cy="354.0" r="0.48" fill="#b87cb4"/><circle cx="391.8" cy="343.8" r="0.68" fill="#e09ccc"/><circle cx="467.6" cy="380.9" r="0.58" fill="#d890c4"/><circle cx="448.9" cy="357.7" r="0.63" fill="#ecbcdc"/><circle cx="389.9" cy="337.9" r="0.86" fill="#e09ccc"/><circle cx="456.6" cy="398.0" r="0.61" fill="#ecbcdc"/><circle cx="501.9" cy="335.6" r="0.71" fill="#ecbcdc"/><circle cx="384.1" cy="344.3" r="0.65" fill="#e4a4d0"/><circle cx="474.1" cy="397.9" r="0.53" fill="#b87cb4"/><circle cx="483.9" cy="342.5" r="0.69" fill="#9c62a0"/><circle cx="384.4" cy="372.2" r="0.92" fill="#ecbcdc"/><circle cx="388.3" cy="362.7" r="0.84" fill="#ecbcdc"/><circle cx="472.8" cy="369.2" r="0.63" fill="#d890c4"/><circle cx="452.0" cy="342.8" r="0.47" fill="#a86ca6"/><circle cx="396.1" cy="395.2" r="0.69" fill="#a86ca6"/><circle cx="449.7" cy="330.1" r="0.86" fill="#d890c4"/><circle cx="421.6" cy="400.6" r="0.66" fill="#e8acd6"/><circle cx="432.8" cy="375.6" r="0.53" fill="#e09ccc"/><circle cx="488.3" cy="346.4" r="0.61" fill="#e09ccc"/><circle cx="450.0" cy="403.0" r="0.97" fill="#e09ccc"/><circle cx="474.8" cy="381.3" r="0.65" fill="#e4a4d0"/><circle cx="414.2" cy="373.4" r="0.95" fill="#e8acd6"/><circle cx="437.8" cy="384.4" r="0.59" fill="#ecbcdc"/><circle cx="493.4" cy="344.1" r="0.94" fill="#d890c4"/><circle cx="381.1" cy="342.2" r="0.52" fill="#b87cb4"/><circle cx="403.4" cy="340.7" r="0.77" fill="#ecbcdc"/><circle cx="391.7" cy="369.3" r="0.98" fill="#e4a4d0"/><circle cx="380.1" cy="392.0" r="0.58" fill="#e09ccc"/><circle cx="414.0" cy="400.0" r="0.98" fill="#e09ccc"/><circle cx="506.1" cy="337.9" r="0.70" fill="#e09ccc"/><circle cx="398.9" cy="334.2" r="0.88" fill="#e09ccc"/><circle cx="381.1" cy="333.3" r="0.56" fill="#ecbcdc"/><circle cx="397.2" cy="398.0" r="0.53" fill="#a86ca6"/><circle cx="469.7" cy="381.2" r="1.04" fill="#ecbcdc"/><circle cx="400.9" cy="338.2" r="0.69" fill="#9c62a0"/><circle cx="388.5" cy="354.9" r="1.05" fill="#e09ccc"/><circle cx="398.4" cy="379.8" r="0.99" fill="#d890c4"/><circle cx="495.2" cy="350.2" r="0.72" fill="#d890c4"/><circle cx="486.5" cy="383.1" r="0.40" fill="#a86ca6"/><circle cx="437.9" cy="389.4" r="0.99" fill="#e09ccc"/><circle cx="455.4" cy="401.6" r="0.43" fill="#a86ca6"/><circle cx="434.9" cy="381.7" r="0.98" fill="#d890c4"/><circle cx="396.8" cy="400.4" r="0.73" fill="#e4a4d0"/><circle cx="478.2" cy="382.5" r="0.40" fill="#a86ca6"/><circle cx="393.0" cy="398.0" r="1.01" fill="#e8acd6"/><circle cx="488.8" cy="334.2" r="0.69" fill="#b87cb4"/><circle cx="397.4" cy="384.7" r="0.75" fill="#e09ccc"/><circle cx="471.9" cy="379.4" r="0.65" fill="#a86ca6"/><circle cx="382.3" cy="357.2" r="0.42" fill="#b87cb4"/><circle cx="505.0" cy="365.1" r="0.77" fill="#e09ccc"/><circle cx="382.6" cy="386.0" r="0.51" fill="#ecbcdc"/><circle cx="489.0" cy="398.6" r="0.93" fill="#ecbcdc"/><circle cx="428.7" cy="401.0" r="0.74" fill="#e09ccc"/><circle cx="488.7" cy="342.3" r="0.89" fill="#e8acd6"/><circle cx="400.0" cy="337.9" r="0.40" fill="#9c62a0"/><circle cx="403.4" cy="345.0" r="0.64" fill="#e09ccc"/><circle cx="483.8" cy="333.4" r="1.07" fill="#e09ccc"/><circle cx="509.2" cy="386.1" r="0.80" fill="#d890c4"/><circle cx="478.7" cy="384.1" r="0.92" fill="#e09ccc"/><circle cx="422.5" cy="396.9" r="0.80" fill="#e8acd6"/><circle cx="381.5" cy="389.4" r="1.02" fill="#e09ccc"/><circle cx="496.5" cy="337.0" r="1.03" fill="#e8acd6"/><circle cx="480.9" cy="342.0" r="0.81" fill="#e4a4d0"/>
<path d="M378,360.9 C381,362.5 383.5,364.5 385.4,367.2 C388,370 390,372 391.7,375 C394.5,380 396.5,384 398,387.6 C399.5,391 400.3,394 400.3,397 C400.2,400 399.8,402.5 399.5,405 L378,405 Z" fill="#e27ab4"/>
</g></g>
<rect x="378.30" y="330.00" width="133.50" height="74.60" fill="none" stroke="#2a2a2a" stroke-width="1.1" />
<rect x="0.5" y="0.5" width="519" height="510" fill="none" stroke="#3a3a3a" stroke-width="1"/><line x1="0" y1="0.5" x2="519" y2="0.5" stroke="#5a5a5a" stroke-width="1"/>
</svg></body></html>
